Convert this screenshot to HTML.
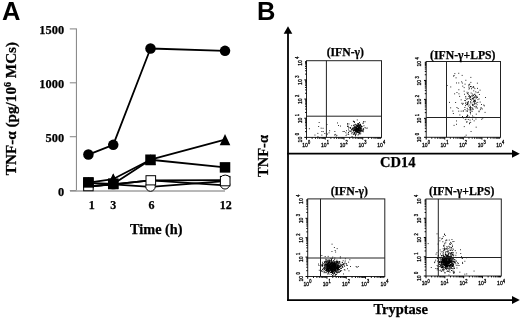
<!DOCTYPE html>
<html><head><meta charset="utf-8"><style>
html,body{margin:0;padding:0;background:#fff;width:520px;height:320px;overflow:hidden}
svg{display:block;filter:blur(0.3px)}
</style></head><body>
<svg width="520" height="320" viewBox="0 0 520 320">
<rect width="520" height="320" fill="#fff"/>
<text x="2" y="19.5" font-family="Liberation Sans" font-weight="bold" font-size="25.5">A</text>
<text x="257.1" y="19.8" font-family="Liberation Sans" font-weight="bold" font-size="25.5">B</text>
<line x1="76.45" y1="28.5" x2="76.45" y2="191.2" stroke="#8c8c8c" stroke-width="1.1"/>
<line x1="70" y1="190.9" x2="225" y2="190.9" stroke="#b8b8b8" stroke-width="2"/>
<line x1="69.8" y1="190.60" x2="76.45" y2="190.60" stroke="#8c8c8c" stroke-width="1.1"/>
<text x="64.1" y="195.90" font-family="Liberation Serif" font-weight="bold" stroke="#000" stroke-width="0.25" font-size="12.4" text-anchor="end">0</text>
<line x1="69.8" y1="136.70" x2="76.45" y2="136.70" stroke="#8c8c8c" stroke-width="1.1"/>
<text x="64.1" y="142.00" font-family="Liberation Serif" font-weight="bold" stroke="#000" stroke-width="0.25" font-size="12.4" text-anchor="end">500</text>
<line x1="69.8" y1="82.80" x2="76.45" y2="82.80" stroke="#8c8c8c" stroke-width="1.1"/>
<text x="64.1" y="88.10" font-family="Liberation Serif" font-weight="bold" stroke="#000" stroke-width="0.25" font-size="12.4" text-anchor="end">1000</text>
<line x1="69.8" y1="28.90" x2="76.45" y2="28.90" stroke="#8c8c8c" stroke-width="1.1"/>
<text x="64.1" y="34.20" font-family="Liberation Serif" font-weight="bold" stroke="#000" stroke-width="0.25" font-size="12.4" text-anchor="end">1500</text>
<text x="91.70" y="209" font-family="Liberation Serif" font-weight="bold" stroke="#000" stroke-width="0.25" font-size="12" text-anchor="middle">1</text>
<text x="113.30" y="209" font-family="Liberation Serif" font-weight="bold" stroke="#000" stroke-width="0.25" font-size="12" text-anchor="middle">3</text>
<text x="151.50" y="209" font-family="Liberation Serif" font-weight="bold" stroke="#000" stroke-width="0.25" font-size="12" text-anchor="middle">6</text>
<text x="225.70" y="209" font-family="Liberation Serif" font-weight="bold" stroke="#000" stroke-width="0.25" font-size="12" text-anchor="middle">12</text>
<text x="156.3" y="233.6" font-family="Liberation Serif" font-weight="bold" stroke="#000" stroke-width="0.25" font-size="14.3" text-anchor="middle">Time (h)</text>
<text transform="translate(16,175.2) rotate(-90)" font-family="Liberation Serif" font-weight="bold" stroke="#000" stroke-width="0.25" font-size="15.2">TNF-α (pg/10<tspan font-size="10" dy="-5.5">6</tspan><tspan dy="5.5"> MCs)</tspan></text>
<path d="M88.40,186.15 L113.24,184.32 L150.50,180.44 L225.02,180.11" fill="none" stroke="#000" stroke-width="1.8" stroke-linejoin="round"/>
<path d="M88.40,186.69 L113.24,184.42 L150.50,186.90 L225.02,181.08" fill="none" stroke="#000" stroke-width="1.8" stroke-linejoin="round"/>
<path d="M88.40,186.36 L113.24,184.32 L150.50,180.44 L225.02,185.39" fill="none" stroke="#000" stroke-width="1.8" stroke-linejoin="round"/>
<path d="M88.40,182.59 L113.24,179.03 L150.50,159.74 L225.02,139.58" fill="none" stroke="#000" stroke-width="1.8" stroke-linejoin="round"/>
<path d="M88.40,176.99 L93.70,188.19 L83.10,188.19 Z" fill="#000"/>
<path d="M113.24,173.43 L118.54,184.63 L107.94,184.63 Z" fill="#000"/>
<path d="M150.50,154.14 L155.80,165.34 L145.20,165.34 Z" fill="#000"/>
<path d="M225.02,133.98 L230.32,145.18 L219.72,145.18 Z" fill="#000"/>
<path d="M88.40,182.81 L113.24,183.89 L150.50,159.74 L225.02,167.39" fill="none" stroke="#000" stroke-width="1.8" stroke-linejoin="round"/>
<rect x="83.15" y="177.56" width="10.5" height="10.5" fill="#000"/>
<rect x="107.99" y="178.64" width="10.5" height="10.5" fill="#000"/>
<rect x="145.25" y="154.49" width="10.5" height="10.5" fill="#000"/>
<rect x="219.77" y="162.14" width="10.5" height="10.5" fill="#000"/>
<path d="M88.40,154.56 L113.24,144.86 L150.50,48.49 L225.02,50.86" fill="none" stroke="#000" stroke-width="1.8" stroke-linejoin="round"/>
<circle cx="88.40" cy="154.56" r="5.25" fill="#000"/>
<circle cx="113.24" cy="144.86" r="5.25" fill="#000"/>
<circle cx="150.50" cy="48.49" r="5.25" fill="#000"/>
<circle cx="225.02" cy="50.86" r="5.25" fill="#000"/>
<rect x="83.65" y="181.25" width="9.5" height="9.5" fill="#fff" stroke="#000" stroke-width="1"/>
<rect x="83.15" y="177.15" width="10.5" height="10.5" fill="#000"/>
<path d="M110.24,188.6 Q113.24,190.4 116.24,188.6" fill="none" stroke="#888" stroke-width="1"/>
<circle cx="150.50" cy="186.50" r="4.75" fill="#fff" stroke="#000" stroke-width="1"/>
<rect x="146" y="175.7" width="9.6" height="9.2" fill="#fff" stroke="#000" stroke-width="1"/>
<circle cx="225.02" cy="184.30" r="4.75" fill="#fff" stroke="#000" stroke-width="1"/>
<rect x="220.4" y="176.4" width="9.6" height="9.4" fill="#fff" stroke="#000" stroke-width="1"/>
<path d="M220.2,177.6 A6.2,6.2 0 0 1 230.2,177.6" fill="#fff" stroke="#000" stroke-width="1"/>
<path d="M113.24,173.43 L118.54,184.63 L107.94,184.63 Z" fill="#000"/>
<rect x="107.99" y="178.64" width="10.5" height="10.5" fill="#000"/>
<line x1="288" y1="32" x2="288" y2="301" stroke="#000" stroke-width="1.8"/>
<path d="M288,26.2 L292.3,33.8 L283.7,33.8 Z" fill="#000"/>
<line x1="287.1" y1="153.7" x2="513" y2="153.7" stroke="#000" stroke-width="1.8"/>
<path d="M519.8,153.7 L512,149.7 L512,157.7 Z" fill="#000"/>
<line x1="287.1" y1="300.1" x2="513" y2="300.1" stroke="#000" stroke-width="1.8"/>
<path d="M519.8,300.1 L512,296.1 L512,304.1 Z" fill="#000"/>
<text transform="translate(268.4,176.9) rotate(-90)" font-family="Liberation Serif" font-weight="bold" stroke="#000" stroke-width="0.25" font-size="14.5">TNF-α</text>
<text x="397.8" y="166.9" font-family="Liberation Serif" font-weight="bold" stroke="#000" stroke-width="0.25" font-size="14.5" text-anchor="middle">CD14</text>
<text x="400.7" y="313.8" font-family="Liberation Serif" font-weight="bold" stroke="#000" stroke-width="0.25" font-size="14.5" text-anchor="middle">Tryptase</text>
<rect x="358.1" y="131.9" width="0.9" height="0.9" fill="#000"/>
<rect x="360.2" y="125.0" width="0.9" height="0.9" fill="#000"/>
<rect x="359.9" y="131.2" width="0.9" height="0.9" fill="#000"/>
<rect x="356.0" y="130.5" width="0.9" height="0.9" fill="#000"/>
<rect x="358.6" y="130.2" width="0.9" height="0.9" fill="#000"/>
<rect x="357.5" y="130.8" width="0.9" height="0.9" fill="#000"/>
<rect x="356.3" y="127.9" width="0.9" height="0.9" fill="#000"/>
<rect x="356.2" y="130.6" width="0.9" height="0.9" fill="#000"/>
<rect x="358.4" y="128.1" width="0.9" height="0.9" fill="#000"/>
<rect x="356.2" y="127.5" width="0.9" height="0.9" fill="#000"/>
<rect x="358.3" y="128.1" width="0.9" height="0.9" fill="#000"/>
<rect x="360.3" y="133.3" width="0.9" height="0.9" fill="#000"/>
<rect x="352.9" y="120.7" width="0.9" height="0.9" fill="#000"/>
<rect x="358.0" y="127.5" width="0.9" height="0.9" fill="#000"/>
<rect x="358.3" y="129.9" width="0.9" height="0.9" fill="#000"/>
<rect x="364.6" y="127.1" width="0.9" height="0.9" fill="#000"/>
<rect x="355.0" y="135.3" width="0.9" height="0.9" fill="#000"/>
<rect x="359.0" y="131.7" width="0.9" height="0.9" fill="#000"/>
<rect x="358.3" y="123.2" width="0.9" height="0.9" fill="#000"/>
<rect x="358.3" y="129.5" width="0.9" height="0.9" fill="#000"/>
<rect x="355.5" y="125.8" width="0.9" height="0.9" fill="#000"/>
<rect x="358.8" y="125.9" width="0.9" height="0.9" fill="#000"/>
<rect x="357.7" y="129.2" width="0.9" height="0.9" fill="#000"/>
<rect x="358.6" y="127.4" width="0.9" height="0.9" fill="#000"/>
<rect x="358.6" y="132.4" width="0.9" height="0.9" fill="#000"/>
<rect x="359.6" y="126.6" width="0.9" height="0.9" fill="#000"/>
<rect x="360.4" y="128.0" width="0.9" height="0.9" fill="#000"/>
<rect x="361.3" y="126.2" width="0.9" height="0.9" fill="#000"/>
<rect x="360.4" y="129.7" width="0.9" height="0.9" fill="#000"/>
<rect x="355.1" y="127.0" width="0.9" height="0.9" fill="#000"/>
<rect x="357.9" y="129.9" width="0.9" height="0.9" fill="#000"/>
<rect x="356.6" y="124.6" width="0.9" height="0.9" fill="#000"/>
<rect x="359.0" y="127.6" width="0.9" height="0.9" fill="#000"/>
<rect x="357.8" y="131.7" width="0.9" height="0.9" fill="#000"/>
<rect x="353.5" y="128.5" width="0.9" height="0.9" fill="#000"/>
<rect x="361.5" y="129.0" width="0.9" height="0.9" fill="#000"/>
<rect x="355.2" y="130.8" width="0.9" height="0.9" fill="#000"/>
<rect x="357.8" y="132.1" width="0.9" height="0.9" fill="#000"/>
<rect x="358.6" y="123.9" width="0.9" height="0.9" fill="#000"/>
<rect x="358.2" y="127.5" width="0.9" height="0.9" fill="#000"/>
<rect x="359.8" y="130.2" width="0.9" height="0.9" fill="#000"/>
<rect x="355.0" y="123.8" width="0.9" height="0.9" fill="#000"/>
<rect x="359.6" y="131.9" width="0.9" height="0.9" fill="#000"/>
<rect x="356.3" y="128.5" width="0.9" height="0.9" fill="#000"/>
<rect x="358.7" y="130.9" width="0.9" height="0.9" fill="#000"/>
<rect x="360.0" y="130.5" width="0.9" height="0.9" fill="#000"/>
<rect x="358.0" y="128.1" width="0.9" height="0.9" fill="#000"/>
<rect x="363.0" y="122.5" width="0.9" height="0.9" fill="#000"/>
<rect x="357.6" y="129.0" width="0.9" height="0.9" fill="#000"/>
<rect x="354.0" y="128.9" width="0.9" height="0.9" fill="#000"/>
<rect x="355.5" y="131.3" width="0.9" height="0.9" fill="#000"/>
<rect x="357.0" y="131.1" width="0.9" height="0.9" fill="#000"/>
<rect x="360.8" y="131.2" width="0.9" height="0.9" fill="#000"/>
<rect x="357.3" y="123.4" width="0.9" height="0.9" fill="#000"/>
<rect x="362.6" y="130.0" width="0.9" height="0.9" fill="#000"/>
<rect x="356.1" y="128.9" width="0.9" height="0.9" fill="#000"/>
<rect x="356.7" y="131.6" width="0.9" height="0.9" fill="#000"/>
<rect x="358.1" y="129.1" width="0.9" height="0.9" fill="#000"/>
<rect x="355.7" y="130.0" width="0.9" height="0.9" fill="#000"/>
<rect x="354.7" y="130.3" width="0.9" height="0.9" fill="#000"/>
<rect x="363.5" y="125.3" width="0.9" height="0.9" fill="#000"/>
<rect x="351.0" y="129.0" width="0.9" height="0.9" fill="#000"/>
<rect x="365.6" y="127.8" width="0.9" height="0.9" fill="#000"/>
<rect x="354.2" y="129.9" width="0.9" height="0.9" fill="#000"/>
<rect x="356.3" y="126.7" width="0.9" height="0.9" fill="#000"/>
<rect x="356.6" y="130.5" width="0.9" height="0.9" fill="#000"/>
<rect x="356.7" y="129.6" width="0.9" height="0.9" fill="#000"/>
<rect x="358.4" y="126.1" width="0.9" height="0.9" fill="#000"/>
<rect x="358.1" y="125.7" width="0.9" height="0.9" fill="#000"/>
<rect x="359.1" y="125.4" width="0.9" height="0.9" fill="#000"/>
<rect x="353.7" y="132.9" width="0.9" height="0.9" fill="#000"/>
<rect x="357.9" y="128.8" width="0.9" height="0.9" fill="#000"/>
<rect x="359.7" y="128.0" width="0.9" height="0.9" fill="#000"/>
<rect x="357.0" y="130.2" width="0.9" height="0.9" fill="#000"/>
<rect x="359.9" y="125.5" width="0.9" height="0.9" fill="#000"/>
<rect x="360.7" y="127.7" width="0.9" height="0.9" fill="#000"/>
<rect x="356.2" y="125.2" width="0.9" height="0.9" fill="#000"/>
<rect x="355.4" y="134.0" width="0.9" height="0.9" fill="#000"/>
<rect x="354.8" y="128.6" width="0.9" height="0.9" fill="#000"/>
<rect x="352.5" y="127.3" width="0.9" height="0.9" fill="#000"/>
<rect x="360.6" y="128.9" width="0.9" height="0.9" fill="#000"/>
<rect x="356.1" y="129.2" width="0.9" height="0.9" fill="#000"/>
<rect x="359.1" y="131.7" width="0.9" height="0.9" fill="#000"/>
<rect x="362.9" y="131.3" width="0.9" height="0.9" fill="#000"/>
<rect x="356.6" y="128.1" width="0.9" height="0.9" fill="#000"/>
<rect x="357.7" y="129.3" width="0.9" height="0.9" fill="#000"/>
<rect x="357.7" y="129.5" width="0.9" height="0.9" fill="#000"/>
<rect x="352.9" y="130.4" width="0.9" height="0.9" fill="#000"/>
<rect x="357.7" y="124.7" width="0.9" height="0.9" fill="#000"/>
<rect x="358.3" y="133.8" width="0.9" height="0.9" fill="#000"/>
<rect x="359.1" y="129.9" width="0.9" height="0.9" fill="#000"/>
<rect x="361.4" y="126.0" width="0.9" height="0.9" fill="#000"/>
<rect x="355.9" y="128.7" width="0.9" height="0.9" fill="#000"/>
<rect x="353.8" y="128.3" width="0.9" height="0.9" fill="#000"/>
<rect x="355.6" y="132.6" width="0.9" height="0.9" fill="#000"/>
<rect x="363.2" y="121.0" width="0.9" height="0.9" fill="#000"/>
<rect x="359.7" y="123.8" width="0.9" height="0.9" fill="#000"/>
<rect x="360.7" y="130.4" width="0.9" height="0.9" fill="#000"/>
<rect x="360.5" y="126.0" width="0.9" height="0.9" fill="#000"/>
<rect x="354.9" y="129.4" width="0.9" height="0.9" fill="#000"/>
<rect x="356.3" y="128.4" width="0.9" height="0.9" fill="#000"/>
<rect x="352.9" y="134.1" width="0.9" height="0.9" fill="#000"/>
<rect x="355.8" y="127.3" width="0.9" height="0.9" fill="#000"/>
<rect x="359.9" y="127.3" width="0.9" height="0.9" fill="#000"/>
<rect x="357.9" y="127.0" width="0.9" height="0.9" fill="#000"/>
<rect x="358.8" y="125.1" width="0.9" height="0.9" fill="#000"/>
<rect x="357.1" y="128.0" width="0.9" height="0.9" fill="#000"/>
<rect x="357.1" y="128.9" width="0.9" height="0.9" fill="#000"/>
<rect x="356.5" y="131.2" width="0.9" height="0.9" fill="#000"/>
<rect x="357.3" y="128.3" width="0.9" height="0.9" fill="#000"/>
<rect x="356.8" y="126.8" width="0.9" height="0.9" fill="#000"/>
<rect x="354.2" y="129.7" width="0.9" height="0.9" fill="#000"/>
<rect x="355.8" y="125.7" width="0.9" height="0.9" fill="#000"/>
<rect x="358.5" y="130.6" width="0.9" height="0.9" fill="#000"/>
<rect x="359.0" y="122.1" width="0.9" height="0.9" fill="#000"/>
<rect x="358.8" y="130.2" width="0.9" height="0.9" fill="#000"/>
<rect x="353.6" y="130.4" width="0.9" height="0.9" fill="#000"/>
<rect x="357.3" y="124.8" width="0.9" height="0.9" fill="#000"/>
<rect x="358.4" y="128.5" width="0.9" height="0.9" fill="#000"/>
<rect x="360.1" y="123.9" width="0.9" height="0.9" fill="#000"/>
<rect x="363.3" y="128.5" width="0.9" height="0.9" fill="#000"/>
<rect x="353.4" y="129.8" width="0.9" height="0.9" fill="#000"/>
<rect x="356.8" y="129.8" width="0.9" height="0.9" fill="#000"/>
<rect x="357.2" y="128.5" width="0.9" height="0.9" fill="#000"/>
<rect x="359.4" y="126.8" width="0.9" height="0.9" fill="#000"/>
<rect x="360.2" y="128.0" width="0.9" height="0.9" fill="#000"/>
<rect x="355.7" y="128.6" width="0.9" height="0.9" fill="#000"/>
<rect x="359.4" y="128.6" width="0.9" height="0.9" fill="#000"/>
<rect x="355.2" y="130.3" width="0.9" height="0.9" fill="#000"/>
<rect x="354.5" y="124.2" width="0.9" height="0.9" fill="#000"/>
<rect x="359.5" y="124.6" width="0.9" height="0.9" fill="#000"/>
<rect x="358.1" y="128.8" width="0.9" height="0.9" fill="#000"/>
<rect x="361.2" y="126.7" width="0.9" height="0.9" fill="#000"/>
<rect x="356.1" y="129.6" width="0.9" height="0.9" fill="#000"/>
<rect x="356.9" y="126.1" width="0.9" height="0.9" fill="#000"/>
<rect x="360.3" y="129.6" width="0.9" height="0.9" fill="#000"/>
<rect x="352.8" y="129.6" width="0.9" height="0.9" fill="#000"/>
<rect x="360.7" y="128.2" width="0.9" height="0.9" fill="#000"/>
<rect x="356.8" y="130.4" width="0.9" height="0.9" fill="#000"/>
<rect x="355.2" y="129.7" width="0.9" height="0.9" fill="#000"/>
<rect x="359.2" y="127.0" width="0.9" height="0.9" fill="#000"/>
<rect x="354.6" y="127.2" width="0.9" height="0.9" fill="#000"/>
<rect x="354.7" y="131.6" width="0.9" height="0.9" fill="#000"/>
<rect x="357.6" y="131.7" width="0.9" height="0.9" fill="#000"/>
<rect x="358.1" y="130.0" width="0.9" height="0.9" fill="#000"/>
<rect x="355.3" y="130.5" width="0.9" height="0.9" fill="#000"/>
<rect x="362.9" y="129.4" width="0.9" height="0.9" fill="#000"/>
<rect x="356.6" y="128.0" width="0.9" height="0.9" fill="#000"/>
<rect x="357.5" y="126.3" width="0.9" height="0.9" fill="#000"/>
<rect x="358.6" y="128.2" width="0.9" height="0.9" fill="#000"/>
<rect x="361.7" y="130.1" width="0.9" height="0.9" fill="#000"/>
<rect x="357.9" y="132.4" width="0.9" height="0.9" fill="#000"/>
<rect x="355.8" y="133.4" width="0.9" height="0.9" fill="#000"/>
<rect x="357.2" y="125.9" width="0.9" height="0.9" fill="#000"/>
<rect x="357.2" y="128.3" width="0.9" height="0.9" fill="#000"/>
<rect x="354.4" y="127.8" width="0.9" height="0.9" fill="#000"/>
<rect x="352.3" y="132.2" width="0.9" height="0.9" fill="#000"/>
<rect x="358.4" y="126.9" width="0.9" height="0.9" fill="#000"/>
<rect x="356.0" y="127.0" width="0.9" height="0.9" fill="#000"/>
<rect x="358.5" y="125.4" width="0.9" height="0.9" fill="#000"/>
<rect x="355.8" y="127.7" width="0.9" height="0.9" fill="#000"/>
<rect x="355.7" y="131.6" width="0.9" height="0.9" fill="#000"/>
<rect x="360.9" y="130.0" width="0.9" height="0.9" fill="#000"/>
<rect x="360.6" y="125.0" width="0.9" height="0.9" fill="#000"/>
<rect x="359.7" y="129.4" width="0.9" height="0.9" fill="#000"/>
<rect x="357.6" y="134.6" width="0.9" height="0.9" fill="#000"/>
<rect x="351.9" y="128.0" width="0.9" height="0.9" fill="#000"/>
<rect x="348.5" y="130.4" width="0.9" height="0.9" fill="#000"/>
<rect x="347.4" y="126.0" width="0.9" height="0.9" fill="#000"/>
<rect x="355.0" y="130.5" width="0.9" height="0.9" fill="#000"/>
<rect x="354.4" y="124.8" width="0.9" height="0.9" fill="#000"/>
<rect x="351.2" y="131.5" width="0.9" height="0.9" fill="#000"/>
<rect x="354.0" y="121.3" width="0.9" height="0.9" fill="#000"/>
<rect x="358.2" y="129.7" width="0.9" height="0.9" fill="#000"/>
<rect x="358.4" y="126.7" width="0.9" height="0.9" fill="#000"/>
<rect x="358.1" y="123.8" width="0.9" height="0.9" fill="#000"/>
<rect x="356.8" y="126.0" width="0.9" height="0.9" fill="#000"/>
<rect x="357.4" y="132.0" width="0.9" height="0.9" fill="#000"/>
<rect x="350.3" y="127.8" width="0.9" height="0.9" fill="#000"/>
<rect x="354.2" y="132.8" width="0.9" height="0.9" fill="#000"/>
<rect x="357.6" y="123.1" width="0.9" height="0.9" fill="#000"/>
<rect x="356.3" y="131.0" width="0.9" height="0.9" fill="#000"/>
<rect x="364.6" y="121.3" width="0.9" height="0.9" fill="#000"/>
<rect x="351.3" y="133.3" width="0.9" height="0.9" fill="#000"/>
<rect x="347.2" y="123.2" width="0.9" height="0.9" fill="#000"/>
<rect x="356.6" y="132.1" width="0.9" height="0.9" fill="#000"/>
<rect x="350.7" y="130.2" width="0.9" height="0.9" fill="#000"/>
<rect x="354.6" y="134.1" width="0.9" height="0.9" fill="#000"/>
<rect x="354.0" y="132.0" width="0.9" height="0.9" fill="#000"/>
<rect x="349.5" y="127.3" width="0.9" height="0.9" fill="#000"/>
<rect x="353.5" y="132.6" width="0.9" height="0.9" fill="#000"/>
<rect x="356.9" y="125.0" width="0.9" height="0.9" fill="#000"/>
<rect x="357.4" y="131.1" width="0.9" height="0.9" fill="#000"/>
<rect x="353.4" y="127.0" width="0.9" height="0.9" fill="#000"/>
<rect x="353.0" y="121.2" width="0.9" height="0.9" fill="#000"/>
<rect x="354.9" y="128.9" width="0.9" height="0.9" fill="#000"/>
<rect x="349.7" y="131.0" width="0.9" height="0.9" fill="#000"/>
<rect x="347.1" y="125.8" width="0.9" height="0.9" fill="#000"/>
<rect x="351.6" y="136.0" width="0.9" height="0.9" fill="#000"/>
<rect x="346.0" y="130.3" width="0.9" height="0.9" fill="#000"/>
<rect x="358.7" y="129.5" width="0.9" height="0.9" fill="#000"/>
<rect x="359.9" y="124.0" width="0.9" height="0.9" fill="#000"/>
<rect x="342.6" y="131.1" width="0.9" height="0.9" fill="#000"/>
<rect x="348.0" y="126.7" width="0.9" height="0.9" fill="#000"/>
<rect x="348.1" y="132.2" width="0.9" height="0.9" fill="#000"/>
<rect x="358.3" y="125.1" width="0.9" height="0.9" fill="#000"/>
<rect x="358.5" y="128.5" width="0.9" height="0.9" fill="#000"/>
<rect x="353.3" y="128.2" width="0.9" height="0.9" fill="#000"/>
<rect x="353.0" y="130.5" width="0.9" height="0.9" fill="#000"/>
<rect x="355.6" y="126.6" width="0.9" height="0.9" fill="#000"/>
<rect x="359.0" y="125.6" width="0.9" height="0.9" fill="#000"/>
<rect x="355.4" y="129.7" width="0.9" height="0.9" fill="#000"/>
<rect x="361.4" y="126.0" width="0.9" height="0.9" fill="#000"/>
<rect x="362.7" y="128.7" width="0.9" height="0.9" fill="#000"/>
<rect x="353.0" y="125.3" width="0.9" height="0.9" fill="#000"/>
<rect x="356.9" y="128.2" width="0.9" height="0.9" fill="#000"/>
<rect x="348.5" y="123.5" width="0.9" height="0.9" fill="#000"/>
<rect x="351.2" y="125.3" width="0.9" height="0.9" fill="#000"/>
<rect x="359.5" y="133.5" width="0.9" height="0.9" fill="#000"/>
<rect x="358.3" y="129.4" width="0.9" height="0.9" fill="#000"/>
<rect x="351.9" y="128.2" width="0.9" height="0.9" fill="#000"/>
<rect x="358.6" y="126.9" width="0.9" height="0.9" fill="#000"/>
<rect x="354.2" y="126.1" width="0.9" height="0.9" fill="#000"/>
<rect x="350.1" y="127.3" width="0.9" height="0.9" fill="#000"/>
<rect x="355.0" y="135.3" width="0.9" height="0.9" fill="#000"/>
<rect x="354.3" y="133.4" width="0.9" height="0.9" fill="#000"/>
<rect x="362.8" y="128.3" width="0.9" height="0.9" fill="#000"/>
<rect x="362.0" y="130.9" width="0.9" height="0.9" fill="#000"/>
<rect x="351.9" y="129.1" width="0.9" height="0.9" fill="#000"/>
<rect x="354.1" y="127.1" width="0.9" height="0.9" fill="#000"/>
<rect x="353.0" y="128.6" width="0.9" height="0.9" fill="#000"/>
<rect x="356.2" y="124.5" width="0.9" height="0.9" fill="#000"/>
<rect x="354.0" y="121.9" width="0.9" height="0.9" fill="#000"/>
<rect x="355.3" y="130.5" width="0.9" height="0.9" fill="#000"/>
<rect x="354.8" y="129.1" width="0.9" height="0.9" fill="#000"/>
<rect x="356.9" y="125.3" width="0.9" height="0.9" fill="#000"/>
<rect x="352.8" y="130.0" width="0.9" height="0.9" fill="#000"/>
<rect x="359.0" y="129.6" width="0.9" height="0.9" fill="#000"/>
<rect x="366.8" y="127.6" width="0.9" height="0.9" fill="#000"/>
<rect x="359.0" y="133.1" width="0.9" height="0.9" fill="#000"/>
<rect x="353.3" y="124.7" width="0.9" height="0.9" fill="#000"/>
<rect x="348.1" y="128.6" width="0.9" height="0.9" fill="#000"/>
<rect x="359.6" y="129.1" width="0.9" height="0.9" fill="#000"/>
<rect x="354.9" y="126.5" width="0.9" height="0.9" fill="#000"/>
<rect x="356.8" y="119.5" width="0.9" height="0.9" fill="#000"/>
<rect x="355.2" y="128.1" width="0.9" height="0.9" fill="#000"/>
<rect x="347.1" y="123.7" width="0.9" height="0.9" fill="#000"/>
<rect x="348.0" y="132.4" width="0.9" height="0.9" fill="#000"/>
<rect x="349.6" y="130.7" width="0.9" height="0.9" fill="#000"/>
<rect x="356.9" y="129.0" width="0.9" height="0.9" fill="#000"/>
<rect x="347.5" y="125.6" width="0.9" height="0.9" fill="#000"/>
<rect x="362.4" y="122.8" width="0.9" height="0.9" fill="#000"/>
<rect x="349.8" y="127.4" width="0.9" height="0.9" fill="#000"/>
<rect x="358.0" y="129.0" width="0.9" height="0.9" fill="#000"/>
<rect x="357.7" y="123.7" width="0.9" height="0.9" fill="#000"/>
<rect x="345.4" y="132.3" width="0.9" height="0.9" fill="#000"/>
<rect x="317.5" y="136.2" width="0.9" height="0.9" fill="#000"/>
<rect x="360.2" y="126.9" width="0.9" height="0.9" fill="#000"/>
<rect x="335.6" y="135.6" width="0.9" height="0.9" fill="#000"/>
<rect x="318.7" y="122.0" width="0.9" height="0.9" fill="#000"/>
<rect x="320.7" y="127.7" width="0.9" height="0.9" fill="#000"/>
<rect x="328.6" y="132.4" width="0.9" height="0.9" fill="#000"/>
<rect x="338.0" y="125.0" width="0.9" height="0.9" fill="#000"/>
<rect x="348.2" y="134.0" width="0.9" height="0.9" fill="#000"/>
<rect x="335.2" y="133.9" width="0.9" height="0.9" fill="#000"/>
<rect x="324.4" y="133.0" width="0.9" height="0.9" fill="#000"/>
<rect x="334.0" y="134.5" width="0.9" height="0.9" fill="#000"/>
<rect x="340.1" y="125.6" width="0.9" height="0.9" fill="#000"/>
<rect x="336.4" y="134.9" width="0.9" height="0.9" fill="#000"/>
<rect x="322.6" y="127.8" width="0.9" height="0.9" fill="#000"/>
<rect x="326.5" y="124.0" width="0.9" height="0.9" fill="#000"/>
<rect x="345.6" y="135.2" width="0.9" height="0.9" fill="#000"/>
<rect x="343.8" y="131.0" width="0.9" height="0.9" fill="#000"/>
<rect x="334.4" y="131.0" width="0.9" height="0.9" fill="#000"/>
<rect x="327.0" y="133.6" width="0.9" height="0.9" fill="#000"/>
<rect x="346.5" y="133.7" width="0.9" height="0.9" fill="#000"/>
<rect x="329.2" y="130.3" width="0.9" height="0.9" fill="#000"/>
<rect x="337.0" y="122.5" width="0.9" height="0.9" fill="#000"/>
<rect x="321.4" y="134.6" width="0.9" height="0.9" fill="#000"/>
<rect x="318.2" y="126.1" width="0.9" height="0.9" fill="#000"/>
<rect x="308.9" y="128.3" width="0.9" height="0.9" fill="#000"/>
<rect x="317.4" y="132.9" width="0.9" height="0.9" fill="#000"/>
<rect x="321.4" y="131.0" width="0.9" height="0.9" fill="#000"/>
<rect x="322.8" y="131.2" width="0.9" height="0.9" fill="#000"/>
<rect x="314.5" y="134.6" width="0.9" height="0.9" fill="#000"/>
<rect x="306.5" y="60.7" width="75.00" height="76.70" fill="none" stroke="#222" stroke-width="1"/>
<line x1="326.4" y1="60.7" x2="326.4" y2="137.4" stroke="#222" stroke-width="1"/>
<line x1="306.5" y1="116.2" x2="381.5" y2="116.2" stroke="#222" stroke-width="1"/>
<line x1="306.50" y1="137.4" x2="306.50" y2="139.6" stroke="#000" stroke-width="1"/>
<line x1="304.3" y1="137.40" x2="306.5" y2="137.40" stroke="#000" stroke-width="1"/>
<line x1="312.14" y1="137.4" x2="312.14" y2="138.8" stroke="#000" stroke-width="1"/>
<line x1="305.1" y1="131.63" x2="306.5" y2="131.63" stroke="#000" stroke-width="1"/>
<line x1="315.45" y1="137.4" x2="315.45" y2="138.8" stroke="#000" stroke-width="1"/>
<line x1="305.1" y1="128.25" x2="306.5" y2="128.25" stroke="#000" stroke-width="1"/>
<line x1="317.79" y1="137.4" x2="317.79" y2="138.8" stroke="#000" stroke-width="1"/>
<line x1="305.1" y1="125.86" x2="306.5" y2="125.86" stroke="#000" stroke-width="1"/>
<line x1="319.61" y1="137.4" x2="319.61" y2="138.8" stroke="#000" stroke-width="1"/>
<line x1="305.1" y1="124.00" x2="306.5" y2="124.00" stroke="#000" stroke-width="1"/>
<line x1="321.09" y1="137.4" x2="321.09" y2="138.8" stroke="#000" stroke-width="1"/>
<line x1="305.1" y1="122.48" x2="306.5" y2="122.48" stroke="#000" stroke-width="1"/>
<line x1="322.35" y1="137.4" x2="322.35" y2="138.8" stroke="#000" stroke-width="1"/>
<line x1="305.1" y1="121.20" x2="306.5" y2="121.20" stroke="#000" stroke-width="1"/>
<line x1="323.43" y1="137.4" x2="323.43" y2="138.8" stroke="#000" stroke-width="1"/>
<line x1="305.1" y1="120.08" x2="306.5" y2="120.08" stroke="#000" stroke-width="1"/>
<line x1="324.39" y1="137.4" x2="324.39" y2="138.8" stroke="#000" stroke-width="1"/>
<line x1="305.1" y1="119.10" x2="306.5" y2="119.10" stroke="#000" stroke-width="1"/>
<line x1="325.25" y1="137.4" x2="325.25" y2="139.6" stroke="#000" stroke-width="1"/>
<line x1="304.3" y1="118.23" x2="306.5" y2="118.23" stroke="#000" stroke-width="1"/>
<line x1="330.89" y1="137.4" x2="330.89" y2="138.8" stroke="#000" stroke-width="1"/>
<line x1="305.1" y1="112.45" x2="306.5" y2="112.45" stroke="#000" stroke-width="1"/>
<line x1="334.20" y1="137.4" x2="334.20" y2="138.8" stroke="#000" stroke-width="1"/>
<line x1="305.1" y1="109.08" x2="306.5" y2="109.08" stroke="#000" stroke-width="1"/>
<line x1="336.54" y1="137.4" x2="336.54" y2="138.8" stroke="#000" stroke-width="1"/>
<line x1="305.1" y1="106.68" x2="306.5" y2="106.68" stroke="#000" stroke-width="1"/>
<line x1="338.36" y1="137.4" x2="338.36" y2="138.8" stroke="#000" stroke-width="1"/>
<line x1="305.1" y1="104.82" x2="306.5" y2="104.82" stroke="#000" stroke-width="1"/>
<line x1="339.84" y1="137.4" x2="339.84" y2="138.8" stroke="#000" stroke-width="1"/>
<line x1="305.1" y1="103.30" x2="306.5" y2="103.30" stroke="#000" stroke-width="1"/>
<line x1="341.10" y1="137.4" x2="341.10" y2="138.8" stroke="#000" stroke-width="1"/>
<line x1="305.1" y1="102.02" x2="306.5" y2="102.02" stroke="#000" stroke-width="1"/>
<line x1="342.18" y1="137.4" x2="342.18" y2="138.8" stroke="#000" stroke-width="1"/>
<line x1="305.1" y1="100.91" x2="306.5" y2="100.91" stroke="#000" stroke-width="1"/>
<line x1="343.14" y1="137.4" x2="343.14" y2="138.8" stroke="#000" stroke-width="1"/>
<line x1="305.1" y1="99.93" x2="306.5" y2="99.93" stroke="#000" stroke-width="1"/>
<line x1="344.00" y1="137.4" x2="344.00" y2="139.6" stroke="#000" stroke-width="1"/>
<line x1="304.3" y1="99.05" x2="306.5" y2="99.05" stroke="#000" stroke-width="1"/>
<line x1="349.64" y1="137.4" x2="349.64" y2="138.8" stroke="#000" stroke-width="1"/>
<line x1="305.1" y1="93.28" x2="306.5" y2="93.28" stroke="#000" stroke-width="1"/>
<line x1="352.95" y1="137.4" x2="352.95" y2="138.8" stroke="#000" stroke-width="1"/>
<line x1="305.1" y1="89.90" x2="306.5" y2="89.90" stroke="#000" stroke-width="1"/>
<line x1="355.29" y1="137.4" x2="355.29" y2="138.8" stroke="#000" stroke-width="1"/>
<line x1="305.1" y1="87.51" x2="306.5" y2="87.51" stroke="#000" stroke-width="1"/>
<line x1="357.11" y1="137.4" x2="357.11" y2="138.8" stroke="#000" stroke-width="1"/>
<line x1="305.1" y1="85.65" x2="306.5" y2="85.65" stroke="#000" stroke-width="1"/>
<line x1="358.59" y1="137.4" x2="358.59" y2="138.8" stroke="#000" stroke-width="1"/>
<line x1="305.1" y1="84.13" x2="306.5" y2="84.13" stroke="#000" stroke-width="1"/>
<line x1="359.85" y1="137.4" x2="359.85" y2="138.8" stroke="#000" stroke-width="1"/>
<line x1="305.1" y1="82.85" x2="306.5" y2="82.85" stroke="#000" stroke-width="1"/>
<line x1="360.93" y1="137.4" x2="360.93" y2="138.8" stroke="#000" stroke-width="1"/>
<line x1="305.1" y1="81.73" x2="306.5" y2="81.73" stroke="#000" stroke-width="1"/>
<line x1="361.89" y1="137.4" x2="361.89" y2="138.8" stroke="#000" stroke-width="1"/>
<line x1="305.1" y1="80.75" x2="306.5" y2="80.75" stroke="#000" stroke-width="1"/>
<line x1="362.75" y1="137.4" x2="362.75" y2="139.6" stroke="#000" stroke-width="1"/>
<line x1="304.3" y1="79.88" x2="306.5" y2="79.88" stroke="#000" stroke-width="1"/>
<line x1="368.39" y1="137.4" x2="368.39" y2="138.8" stroke="#000" stroke-width="1"/>
<line x1="305.1" y1="74.10" x2="306.5" y2="74.10" stroke="#000" stroke-width="1"/>
<line x1="371.70" y1="137.4" x2="371.70" y2="138.8" stroke="#000" stroke-width="1"/>
<line x1="305.1" y1="70.73" x2="306.5" y2="70.73" stroke="#000" stroke-width="1"/>
<line x1="374.04" y1="137.4" x2="374.04" y2="138.8" stroke="#000" stroke-width="1"/>
<line x1="305.1" y1="68.33" x2="306.5" y2="68.33" stroke="#000" stroke-width="1"/>
<line x1="375.86" y1="137.4" x2="375.86" y2="138.8" stroke="#000" stroke-width="1"/>
<line x1="305.1" y1="66.47" x2="306.5" y2="66.47" stroke="#000" stroke-width="1"/>
<line x1="377.34" y1="137.4" x2="377.34" y2="138.8" stroke="#000" stroke-width="1"/>
<line x1="305.1" y1="64.95" x2="306.5" y2="64.95" stroke="#000" stroke-width="1"/>
<line x1="378.60" y1="137.4" x2="378.60" y2="138.8" stroke="#000" stroke-width="1"/>
<line x1="305.1" y1="63.67" x2="306.5" y2="63.67" stroke="#000" stroke-width="1"/>
<line x1="379.68" y1="137.4" x2="379.68" y2="138.8" stroke="#000" stroke-width="1"/>
<line x1="305.1" y1="62.56" x2="306.5" y2="62.56" stroke="#000" stroke-width="1"/>
<line x1="380.64" y1="137.4" x2="380.64" y2="138.8" stroke="#000" stroke-width="1"/>
<line x1="305.1" y1="61.58" x2="306.5" y2="61.58" stroke="#000" stroke-width="1"/>
<text transform="translate(302.30,146.60) scale(0.425,0.5)" font-family="Liberation Sans" font-size="11.8" fill="#000" stroke="#000" stroke-width="0.6">10<tspan font-size="9.4" dy="-5.4" dx="0.3">0</tspan></text>
<text transform="translate(301.50,142.40) rotate(-90) scale(0.425,0.5)" font-family="Liberation Sans" font-size="11.8" fill="#000" stroke="#000" stroke-width="0.6">10<tspan font-size="9.4" dy="-5.4" dx="3.5">0</tspan></text>
<text transform="translate(321.05,146.60) scale(0.425,0.5)" font-family="Liberation Sans" font-size="11.8" fill="#000" stroke="#000" stroke-width="0.6">10<tspan font-size="9.4" dy="-5.4" dx="0.3">1</tspan></text>
<text transform="translate(301.50,123.23) rotate(-90) scale(0.425,0.5)" font-family="Liberation Sans" font-size="11.8" fill="#000" stroke="#000" stroke-width="0.6">10<tspan font-size="9.4" dy="-5.4" dx="3.5">1</tspan></text>
<text transform="translate(339.80,146.60) scale(0.425,0.5)" font-family="Liberation Sans" font-size="11.8" fill="#000" stroke="#000" stroke-width="0.6">10<tspan font-size="9.4" dy="-5.4" dx="0.3">2</tspan></text>
<text transform="translate(301.50,104.05) rotate(-90) scale(0.425,0.5)" font-family="Liberation Sans" font-size="11.8" fill="#000" stroke="#000" stroke-width="0.6">10<tspan font-size="9.4" dy="-5.4" dx="3.5">2</tspan></text>
<text transform="translate(358.55,146.60) scale(0.425,0.5)" font-family="Liberation Sans" font-size="11.8" fill="#000" stroke="#000" stroke-width="0.6">10<tspan font-size="9.4" dy="-5.4" dx="0.3">3</tspan></text>
<text transform="translate(301.50,84.88) rotate(-90) scale(0.425,0.5)" font-family="Liberation Sans" font-size="11.8" fill="#000" stroke="#000" stroke-width="0.6">10<tspan font-size="9.4" dy="-5.4" dx="3.5">3</tspan></text>
<text transform="translate(377.30,146.60) scale(0.425,0.5)" font-family="Liberation Sans" font-size="11.8" fill="#000" stroke="#000" stroke-width="0.6">10<tspan font-size="9.4" dy="-5.4" dx="0.3">4</tspan></text>
<text transform="translate(301.50,65.70) rotate(-90) scale(0.425,0.5)" font-family="Liberation Sans" font-size="11.8" fill="#000" stroke="#000" stroke-width="0.6">10<tspan font-size="9.4" dy="-5.4" dx="3.5">4</tspan></text>
<text x="345.3" y="55.8" font-family="Liberation Serif" font-weight="bold" stroke="#000" stroke-width="0.25" font-size="11.7" text-anchor="middle">(IFN-γ)</text>
<rect x="471.8" y="98.1" width="0.9" height="0.9" fill="#000"/>
<rect x="469.3" y="83.7" width="0.9" height="0.9" fill="#000"/>
<rect x="478.6" y="110.6" width="0.9" height="0.9" fill="#000"/>
<rect x="469.6" y="107.8" width="0.9" height="0.9" fill="#000"/>
<rect x="472.2" y="97.8" width="0.9" height="0.9" fill="#000"/>
<rect x="475.1" y="99.7" width="0.9" height="0.9" fill="#000"/>
<rect x="469.6" y="96.1" width="0.9" height="0.9" fill="#000"/>
<rect x="472.9" y="101.3" width="0.9" height="0.9" fill="#000"/>
<rect x="473.3" y="97.4" width="0.9" height="0.9" fill="#000"/>
<rect x="471.5" y="95.3" width="0.9" height="0.9" fill="#000"/>
<rect x="474.5" y="103.4" width="0.9" height="0.9" fill="#000"/>
<rect x="472.4" y="105.1" width="0.9" height="0.9" fill="#000"/>
<rect x="466.8" y="107.9" width="0.9" height="0.9" fill="#000"/>
<rect x="479.6" y="89.7" width="0.9" height="0.9" fill="#000"/>
<rect x="463.7" y="90.7" width="0.9" height="0.9" fill="#000"/>
<rect x="474.5" y="103.0" width="0.9" height="0.9" fill="#000"/>
<rect x="475.5" y="107.4" width="0.9" height="0.9" fill="#000"/>
<rect x="471.9" y="104.1" width="0.9" height="0.9" fill="#000"/>
<rect x="470.3" y="108.5" width="0.9" height="0.9" fill="#000"/>
<rect x="466.3" y="98.8" width="0.9" height="0.9" fill="#000"/>
<rect x="472.0" y="115.5" width="0.9" height="0.9" fill="#000"/>
<rect x="467.8" y="93.9" width="0.9" height="0.9" fill="#000"/>
<rect x="468.6" y="109.3" width="0.9" height="0.9" fill="#000"/>
<rect x="470.0" y="111.9" width="0.9" height="0.9" fill="#000"/>
<rect x="463.1" y="110.5" width="0.9" height="0.9" fill="#000"/>
<rect x="475.3" y="91.4" width="0.9" height="0.9" fill="#000"/>
<rect x="471.6" y="111.1" width="0.9" height="0.9" fill="#000"/>
<rect x="471.4" y="109.5" width="0.9" height="0.9" fill="#000"/>
<rect x="481.0" y="104.1" width="0.9" height="0.9" fill="#000"/>
<rect x="469.8" y="96.2" width="0.9" height="0.9" fill="#000"/>
<rect x="473.7" y="100.5" width="0.9" height="0.9" fill="#000"/>
<rect x="470.2" y="101.2" width="0.9" height="0.9" fill="#000"/>
<rect x="473.7" y="94.0" width="0.9" height="0.9" fill="#000"/>
<rect x="464.6" y="83.7" width="0.9" height="0.9" fill="#000"/>
<rect x="476.0" y="102.6" width="0.9" height="0.9" fill="#000"/>
<rect x="477.3" y="101.9" width="0.9" height="0.9" fill="#000"/>
<rect x="467.9" y="105.6" width="0.9" height="0.9" fill="#000"/>
<rect x="470.7" y="92.6" width="0.9" height="0.9" fill="#000"/>
<rect x="467.3" y="115.3" width="0.9" height="0.9" fill="#000"/>
<rect x="472.5" y="105.1" width="0.9" height="0.9" fill="#000"/>
<rect x="469.8" y="96.8" width="0.9" height="0.9" fill="#000"/>
<rect x="474.7" y="101.2" width="0.9" height="0.9" fill="#000"/>
<rect x="467.8" y="101.0" width="0.9" height="0.9" fill="#000"/>
<rect x="467.2" y="103.4" width="0.9" height="0.9" fill="#000"/>
<rect x="475.7" y="95.7" width="0.9" height="0.9" fill="#000"/>
<rect x="477.0" y="97.0" width="0.9" height="0.9" fill="#000"/>
<rect x="471.6" y="95.7" width="0.9" height="0.9" fill="#000"/>
<rect x="470.1" y="102.4" width="0.9" height="0.9" fill="#000"/>
<rect x="469.2" y="96.7" width="0.9" height="0.9" fill="#000"/>
<rect x="468.2" y="95.8" width="0.9" height="0.9" fill="#000"/>
<rect x="464.4" y="100.0" width="0.9" height="0.9" fill="#000"/>
<rect x="472.7" y="108.8" width="0.9" height="0.9" fill="#000"/>
<rect x="473.7" y="120.4" width="0.9" height="0.9" fill="#000"/>
<rect x="472.3" y="98.6" width="0.9" height="0.9" fill="#000"/>
<rect x="478.9" y="94.1" width="0.9" height="0.9" fill="#000"/>
<rect x="475.1" y="94.8" width="0.9" height="0.9" fill="#000"/>
<rect x="472.5" y="87.2" width="0.9" height="0.9" fill="#000"/>
<rect x="474.8" y="100.8" width="0.9" height="0.9" fill="#000"/>
<rect x="466.9" y="114.6" width="0.9" height="0.9" fill="#000"/>
<rect x="474.2" y="102.3" width="0.9" height="0.9" fill="#000"/>
<rect x="467.9" y="101.7" width="0.9" height="0.9" fill="#000"/>
<rect x="470.3" y="107.4" width="0.9" height="0.9" fill="#000"/>
<rect x="474.4" y="97.0" width="0.9" height="0.9" fill="#000"/>
<rect x="468.7" y="98.0" width="0.9" height="0.9" fill="#000"/>
<rect x="465.3" y="97.6" width="0.9" height="0.9" fill="#000"/>
<rect x="470.6" y="107.2" width="0.9" height="0.9" fill="#000"/>
<rect x="476.5" y="95.9" width="0.9" height="0.9" fill="#000"/>
<rect x="473.3" y="98.7" width="0.9" height="0.9" fill="#000"/>
<rect x="479.7" y="101.6" width="0.9" height="0.9" fill="#000"/>
<rect x="473.1" y="95.0" width="0.9" height="0.9" fill="#000"/>
<rect x="467.6" y="103.5" width="0.9" height="0.9" fill="#000"/>
<rect x="469.4" y="104.6" width="0.9" height="0.9" fill="#000"/>
<rect x="464.4" y="107.0" width="0.9" height="0.9" fill="#000"/>
<rect x="467.2" y="114.9" width="0.9" height="0.9" fill="#000"/>
<rect x="469.8" y="110.2" width="0.9" height="0.9" fill="#000"/>
<rect x="465.1" y="105.2" width="0.9" height="0.9" fill="#000"/>
<rect x="467.3" y="98.3" width="0.9" height="0.9" fill="#000"/>
<rect x="471.1" y="99.6" width="0.9" height="0.9" fill="#000"/>
<rect x="472.1" y="107.6" width="0.9" height="0.9" fill="#000"/>
<rect x="473.7" y="101.3" width="0.9" height="0.9" fill="#000"/>
<rect x="465.3" y="96.0" width="0.9" height="0.9" fill="#000"/>
<rect x="470.2" y="86.1" width="0.9" height="0.9" fill="#000"/>
<rect x="474.2" y="100.2" width="0.9" height="0.9" fill="#000"/>
<rect x="469.9" y="109.1" width="0.9" height="0.9" fill="#000"/>
<rect x="473.8" y="103.7" width="0.9" height="0.9" fill="#000"/>
<rect x="466.8" y="104.3" width="0.9" height="0.9" fill="#000"/>
<rect x="472.5" y="95.4" width="0.9" height="0.9" fill="#000"/>
<rect x="475.4" y="105.8" width="0.9" height="0.9" fill="#000"/>
<rect x="462.7" y="102.9" width="0.9" height="0.9" fill="#000"/>
<rect x="465.7" y="110.5" width="0.9" height="0.9" fill="#000"/>
<rect x="474.4" y="93.7" width="0.9" height="0.9" fill="#000"/>
<rect x="467.3" y="102.8" width="0.9" height="0.9" fill="#000"/>
<rect x="470.0" y="113.4" width="0.9" height="0.9" fill="#000"/>
<rect x="474.1" y="99.9" width="0.9" height="0.9" fill="#000"/>
<rect x="473.4" y="86.8" width="0.9" height="0.9" fill="#000"/>
<rect x="472.3" y="108.5" width="0.9" height="0.9" fill="#000"/>
<rect x="470.2" y="96.7" width="0.9" height="0.9" fill="#000"/>
<rect x="473.4" y="116.7" width="0.9" height="0.9" fill="#000"/>
<rect x="471.9" y="93.6" width="0.9" height="0.9" fill="#000"/>
<rect x="477.1" y="87.9" width="0.9" height="0.9" fill="#000"/>
<rect x="473.1" y="97.6" width="0.9" height="0.9" fill="#000"/>
<rect x="474.9" y="95.6" width="0.9" height="0.9" fill="#000"/>
<rect x="476.6" y="104.3" width="0.9" height="0.9" fill="#000"/>
<rect x="463.7" y="87.2" width="0.9" height="0.9" fill="#000"/>
<rect x="469.7" y="111.7" width="0.9" height="0.9" fill="#000"/>
<rect x="471.5" y="102.5" width="0.9" height="0.9" fill="#000"/>
<rect x="470.0" y="107.5" width="0.9" height="0.9" fill="#000"/>
<rect x="472.6" y="104.1" width="0.9" height="0.9" fill="#000"/>
<rect x="466.9" y="110.9" width="0.9" height="0.9" fill="#000"/>
<rect x="476.7" y="92.2" width="0.9" height="0.9" fill="#000"/>
<rect x="480.7" y="107.4" width="0.9" height="0.9" fill="#000"/>
<rect x="469.0" y="87.7" width="0.9" height="0.9" fill="#000"/>
<rect x="473.8" y="106.2" width="0.9" height="0.9" fill="#000"/>
<rect x="468.5" y="88.6" width="0.9" height="0.9" fill="#000"/>
<rect x="475.7" y="97.6" width="0.9" height="0.9" fill="#000"/>
<rect x="469.0" y="123.3" width="0.9" height="0.9" fill="#000"/>
<rect x="479.9" y="109.2" width="0.9" height="0.9" fill="#000"/>
<rect x="469.1" y="106.9" width="0.9" height="0.9" fill="#000"/>
<rect x="461.4" y="102.8" width="0.9" height="0.9" fill="#000"/>
<rect x="467.8" y="92.4" width="0.9" height="0.9" fill="#000"/>
<rect x="450.2" y="107.4" width="0.9" height="0.9" fill="#000"/>
<rect x="466.9" y="102.2" width="0.9" height="0.9" fill="#000"/>
<rect x="474.4" y="88.2" width="0.9" height="0.9" fill="#000"/>
<rect x="453.6" y="75.1" width="0.9" height="0.9" fill="#000"/>
<rect x="462.6" y="110.6" width="0.9" height="0.9" fill="#000"/>
<rect x="464.5" y="109.0" width="0.9" height="0.9" fill="#000"/>
<rect x="454.2" y="93.4" width="0.9" height="0.9" fill="#000"/>
<rect x="458.3" y="82.5" width="0.9" height="0.9" fill="#000"/>
<rect x="484.6" y="111.9" width="0.9" height="0.9" fill="#000"/>
<rect x="458.4" y="89.3" width="0.9" height="0.9" fill="#000"/>
<rect x="465.4" y="79.8" width="0.9" height="0.9" fill="#000"/>
<rect x="470.4" y="81.9" width="0.9" height="0.9" fill="#000"/>
<rect x="462.3" y="85.7" width="0.9" height="0.9" fill="#000"/>
<rect x="461.2" y="81.4" width="0.9" height="0.9" fill="#000"/>
<rect x="450.3" y="86.5" width="0.9" height="0.9" fill="#000"/>
<rect x="459.2" y="95.9" width="0.9" height="0.9" fill="#000"/>
<rect x="466.7" y="121.4" width="0.9" height="0.9" fill="#000"/>
<rect x="474.1" y="96.5" width="0.9" height="0.9" fill="#000"/>
<rect x="473.3" y="90.4" width="0.9" height="0.9" fill="#000"/>
<rect x="480.5" y="107.7" width="0.9" height="0.9" fill="#000"/>
<rect x="452.4" y="110.6" width="0.9" height="0.9" fill="#000"/>
<rect x="458.5" y="93.4" width="0.9" height="0.9" fill="#000"/>
<rect x="446.7" y="85.1" width="0.9" height="0.9" fill="#000"/>
<rect x="456.5" y="107.1" width="0.9" height="0.9" fill="#000"/>
<rect x="462.1" y="116.1" width="0.9" height="0.9" fill="#000"/>
<rect x="466.8" y="103.8" width="0.9" height="0.9" fill="#000"/>
<rect x="454.4" y="73.2" width="0.9" height="0.9" fill="#000"/>
<rect x="458.3" y="110.7" width="0.9" height="0.9" fill="#000"/>
<rect x="481.8" y="108.5" width="0.9" height="0.9" fill="#000"/>
<rect x="471.0" y="88.3" width="0.9" height="0.9" fill="#000"/>
<rect x="481.3" y="118.8" width="0.9" height="0.9" fill="#000"/>
<rect x="460.7" y="99.4" width="0.9" height="0.9" fill="#000"/>
<rect x="456.0" y="120.5" width="0.9" height="0.9" fill="#000"/>
<rect x="470.1" y="98.7" width="0.9" height="0.9" fill="#000"/>
<rect x="470.1" y="106.2" width="0.9" height="0.9" fill="#000"/>
<rect x="461.9" y="82.6" width="0.9" height="0.9" fill="#000"/>
<rect x="453.2" y="75.7" width="0.9" height="0.9" fill="#000"/>
<rect x="470.6" y="131.1" width="0.9" height="0.9" fill="#000"/>
<rect x="449.0" y="101.9" width="0.9" height="0.9" fill="#000"/>
<rect x="470.1" y="86.2" width="0.9" height="0.9" fill="#000"/>
<rect x="468.0" y="84.6" width="0.9" height="0.9" fill="#000"/>
<rect x="478.0" y="91.7" width="0.9" height="0.9" fill="#000"/>
<rect x="467.0" y="109.6" width="0.9" height="0.9" fill="#000"/>
<rect x="461.7" y="74.9" width="0.9" height="0.9" fill="#000"/>
<rect x="460.7" y="110.7" width="0.9" height="0.9" fill="#000"/>
<rect x="465.2" y="103.2" width="0.9" height="0.9" fill="#000"/>
<rect x="455.2" y="102.0" width="0.9" height="0.9" fill="#000"/>
<rect x="473.3" y="100.5" width="0.9" height="0.9" fill="#000"/>
<rect x="485.1" y="97.1" width="0.9" height="0.9" fill="#000"/>
<rect x="455.6" y="77.4" width="0.9" height="0.9" fill="#000"/>
<rect x="477.5" y="99.2" width="0.9" height="0.9" fill="#000"/>
<rect x="476.1" y="106.4" width="0.9" height="0.9" fill="#000"/>
<rect x="482.3" y="117.7" width="0.9" height="0.9" fill="#000"/>
<rect x="462.2" y="103.8" width="0.9" height="0.9" fill="#000"/>
<rect x="476.9" y="82.7" width="0.9" height="0.9" fill="#000"/>
<rect x="480.5" y="117.0" width="0.9" height="0.9" fill="#000"/>
<rect x="475.8" y="97.2" width="0.9" height="0.9" fill="#000"/>
<rect x="469.0" y="84.4" width="0.9" height="0.9" fill="#000"/>
<rect x="466.6" y="91.8" width="0.9" height="0.9" fill="#000"/>
<rect x="466.9" y="93.1" width="0.9" height="0.9" fill="#000"/>
<rect x="468.8" y="116.5" width="0.9" height="0.9" fill="#000"/>
<rect x="452.9" y="113.0" width="0.9" height="0.9" fill="#000"/>
<rect x="446.1" y="69.7" width="0.9" height="0.9" fill="#000"/>
<rect x="464.8" y="100.1" width="0.9" height="0.9" fill="#000"/>
<rect x="470.4" y="76.9" width="0.9" height="0.9" fill="#000"/>
<rect x="465.4" y="101.8" width="0.9" height="0.9" fill="#000"/>
<rect x="478.6" y="98.5" width="0.9" height="0.9" fill="#000"/>
<rect x="471.3" y="86.3" width="0.9" height="0.9" fill="#000"/>
<rect x="464.1" y="93.8" width="0.9" height="0.9" fill="#000"/>
<rect x="473.0" y="86.2" width="0.9" height="0.9" fill="#000"/>
<rect x="457.7" y="108.1" width="0.9" height="0.9" fill="#000"/>
<rect x="483.9" y="105.4" width="0.9" height="0.9" fill="#000"/>
<rect x="469.0" y="95.2" width="0.9" height="0.9" fill="#000"/>
<rect x="476.9" y="107.6" width="0.9" height="0.9" fill="#000"/>
<rect x="483.3" y="104.6" width="0.9" height="0.9" fill="#000"/>
<rect x="456.5" y="92.0" width="0.9" height="0.9" fill="#000"/>
<rect x="456.1" y="82.5" width="0.9" height="0.9" fill="#000"/>
<rect x="478.6" y="111.3" width="0.9" height="0.9" fill="#000"/>
<rect x="453.6" y="124.9" width="0.9" height="0.9" fill="#000"/>
<rect x="468.4" y="86.6" width="0.9" height="0.9" fill="#000"/>
<rect x="469.9" y="99.0" width="0.9" height="0.9" fill="#000"/>
<rect x="458.3" y="72.8" width="0.9" height="0.9" fill="#000"/>
<rect x="466.4" y="104.1" width="0.9" height="0.9" fill="#000"/>
<rect x="456.1" y="123.8" width="0.9" height="0.9" fill="#000"/>
<rect x="472.1" y="118.7" width="0.9" height="0.9" fill="#000"/>
<rect x="469.6" y="119.6" width="0.9" height="0.9" fill="#000"/>
<rect x="464.8" y="119.2" width="0.9" height="0.9" fill="#000"/>
<rect x="475.8" y="113.7" width="0.9" height="0.9" fill="#000"/>
<rect x="470.2" y="121.9" width="0.9" height="0.9" fill="#000"/>
<rect x="465.5" y="118.8" width="0.9" height="0.9" fill="#000"/>
<rect x="462.0" y="116.7" width="0.9" height="0.9" fill="#000"/>
<rect x="469.1" y="122.6" width="0.9" height="0.9" fill="#000"/>
<rect x="464.5" y="136.3" width="0.9" height="0.9" fill="#000"/>
<rect x="466.1" y="121.6" width="0.9" height="0.9" fill="#000"/>
<rect x="467.8" y="119.0" width="0.9" height="0.9" fill="#000"/>
<rect x="475.5" y="118.6" width="0.9" height="0.9" fill="#000"/>
<rect x="475.7" y="126.7" width="0.9" height="0.9" fill="#000"/>
<rect x="463.8" y="126.2" width="0.9" height="0.9" fill="#000"/>
<rect x="465.7" y="134.7" width="0.9" height="0.9" fill="#000"/>
<rect x="467.1" y="116.3" width="0.9" height="0.9" fill="#000"/>
<rect x="459.4" y="114.5" width="0.9" height="0.9" fill="#000"/>
<rect x="466.1" y="116.0" width="0.9" height="0.9" fill="#000"/>
<rect x="462.9" y="117.5" width="0.9" height="0.9" fill="#000"/>
<rect x="426.2" y="61.5" width="74.30" height="75.80" fill="none" stroke="#222" stroke-width="1"/>
<line x1="446.5" y1="61.5" x2="446.5" y2="137.3" stroke="#222" stroke-width="1"/>
<line x1="426.2" y1="117.5" x2="500.5" y2="117.5" stroke="#222" stroke-width="1"/>
<line x1="426.20" y1="137.3" x2="426.20" y2="139.5" stroke="#000" stroke-width="1"/>
<line x1="424.0" y1="137.30" x2="426.2" y2="137.30" stroke="#000" stroke-width="1"/>
<line x1="431.79" y1="137.3" x2="431.79" y2="138.70000000000002" stroke="#000" stroke-width="1"/>
<line x1="424.8" y1="131.60" x2="426.2" y2="131.60" stroke="#000" stroke-width="1"/>
<line x1="435.06" y1="137.3" x2="435.06" y2="138.70000000000002" stroke="#000" stroke-width="1"/>
<line x1="424.8" y1="128.26" x2="426.2" y2="128.26" stroke="#000" stroke-width="1"/>
<line x1="437.38" y1="137.3" x2="437.38" y2="138.70000000000002" stroke="#000" stroke-width="1"/>
<line x1="424.8" y1="125.89" x2="426.2" y2="125.89" stroke="#000" stroke-width="1"/>
<line x1="439.18" y1="137.3" x2="439.18" y2="138.70000000000002" stroke="#000" stroke-width="1"/>
<line x1="424.8" y1="124.05" x2="426.2" y2="124.05" stroke="#000" stroke-width="1"/>
<line x1="440.65" y1="137.3" x2="440.65" y2="138.70000000000002" stroke="#000" stroke-width="1"/>
<line x1="424.8" y1="122.55" x2="426.2" y2="122.55" stroke="#000" stroke-width="1"/>
<line x1="441.90" y1="137.3" x2="441.90" y2="138.70000000000002" stroke="#000" stroke-width="1"/>
<line x1="424.8" y1="121.29" x2="426.2" y2="121.29" stroke="#000" stroke-width="1"/>
<line x1="442.97" y1="137.3" x2="442.97" y2="138.70000000000002" stroke="#000" stroke-width="1"/>
<line x1="424.8" y1="120.19" x2="426.2" y2="120.19" stroke="#000" stroke-width="1"/>
<line x1="443.93" y1="137.3" x2="443.93" y2="138.70000000000002" stroke="#000" stroke-width="1"/>
<line x1="424.8" y1="119.22" x2="426.2" y2="119.22" stroke="#000" stroke-width="1"/>
<line x1="444.77" y1="137.3" x2="444.77" y2="139.5" stroke="#000" stroke-width="1"/>
<line x1="424.0" y1="118.35" x2="426.2" y2="118.35" stroke="#000" stroke-width="1"/>
<line x1="450.37" y1="137.3" x2="450.37" y2="138.70000000000002" stroke="#000" stroke-width="1"/>
<line x1="424.8" y1="112.65" x2="426.2" y2="112.65" stroke="#000" stroke-width="1"/>
<line x1="453.64" y1="137.3" x2="453.64" y2="138.70000000000002" stroke="#000" stroke-width="1"/>
<line x1="424.8" y1="109.31" x2="426.2" y2="109.31" stroke="#000" stroke-width="1"/>
<line x1="455.96" y1="137.3" x2="455.96" y2="138.70000000000002" stroke="#000" stroke-width="1"/>
<line x1="424.8" y1="106.94" x2="426.2" y2="106.94" stroke="#000" stroke-width="1"/>
<line x1="457.76" y1="137.3" x2="457.76" y2="138.70000000000002" stroke="#000" stroke-width="1"/>
<line x1="424.8" y1="105.10" x2="426.2" y2="105.10" stroke="#000" stroke-width="1"/>
<line x1="459.23" y1="137.3" x2="459.23" y2="138.70000000000002" stroke="#000" stroke-width="1"/>
<line x1="424.8" y1="103.60" x2="426.2" y2="103.60" stroke="#000" stroke-width="1"/>
<line x1="460.47" y1="137.3" x2="460.47" y2="138.70000000000002" stroke="#000" stroke-width="1"/>
<line x1="424.8" y1="102.34" x2="426.2" y2="102.34" stroke="#000" stroke-width="1"/>
<line x1="461.55" y1="137.3" x2="461.55" y2="138.70000000000002" stroke="#000" stroke-width="1"/>
<line x1="424.8" y1="101.24" x2="426.2" y2="101.24" stroke="#000" stroke-width="1"/>
<line x1="462.50" y1="137.3" x2="462.50" y2="138.70000000000002" stroke="#000" stroke-width="1"/>
<line x1="424.8" y1="100.27" x2="426.2" y2="100.27" stroke="#000" stroke-width="1"/>
<line x1="463.35" y1="137.3" x2="463.35" y2="139.5" stroke="#000" stroke-width="1"/>
<line x1="424.0" y1="99.40" x2="426.2" y2="99.40" stroke="#000" stroke-width="1"/>
<line x1="468.94" y1="137.3" x2="468.94" y2="138.70000000000002" stroke="#000" stroke-width="1"/>
<line x1="424.8" y1="93.70" x2="426.2" y2="93.70" stroke="#000" stroke-width="1"/>
<line x1="472.21" y1="137.3" x2="472.21" y2="138.70000000000002" stroke="#000" stroke-width="1"/>
<line x1="424.8" y1="90.36" x2="426.2" y2="90.36" stroke="#000" stroke-width="1"/>
<line x1="474.53" y1="137.3" x2="474.53" y2="138.70000000000002" stroke="#000" stroke-width="1"/>
<line x1="424.8" y1="87.99" x2="426.2" y2="87.99" stroke="#000" stroke-width="1"/>
<line x1="476.33" y1="137.3" x2="476.33" y2="138.70000000000002" stroke="#000" stroke-width="1"/>
<line x1="424.8" y1="86.15" x2="426.2" y2="86.15" stroke="#000" stroke-width="1"/>
<line x1="477.80" y1="137.3" x2="477.80" y2="138.70000000000002" stroke="#000" stroke-width="1"/>
<line x1="424.8" y1="84.65" x2="426.2" y2="84.65" stroke="#000" stroke-width="1"/>
<line x1="479.05" y1="137.3" x2="479.05" y2="138.70000000000002" stroke="#000" stroke-width="1"/>
<line x1="424.8" y1="83.39" x2="426.2" y2="83.39" stroke="#000" stroke-width="1"/>
<line x1="480.12" y1="137.3" x2="480.12" y2="138.70000000000002" stroke="#000" stroke-width="1"/>
<line x1="424.8" y1="82.29" x2="426.2" y2="82.29" stroke="#000" stroke-width="1"/>
<line x1="481.08" y1="137.3" x2="481.08" y2="138.70000000000002" stroke="#000" stroke-width="1"/>
<line x1="424.8" y1="81.32" x2="426.2" y2="81.32" stroke="#000" stroke-width="1"/>
<line x1="481.93" y1="137.3" x2="481.93" y2="139.5" stroke="#000" stroke-width="1"/>
<line x1="424.0" y1="80.45" x2="426.2" y2="80.45" stroke="#000" stroke-width="1"/>
<line x1="487.52" y1="137.3" x2="487.52" y2="138.70000000000002" stroke="#000" stroke-width="1"/>
<line x1="424.8" y1="74.75" x2="426.2" y2="74.75" stroke="#000" stroke-width="1"/>
<line x1="490.79" y1="137.3" x2="490.79" y2="138.70000000000002" stroke="#000" stroke-width="1"/>
<line x1="424.8" y1="71.41" x2="426.2" y2="71.41" stroke="#000" stroke-width="1"/>
<line x1="493.11" y1="137.3" x2="493.11" y2="138.70000000000002" stroke="#000" stroke-width="1"/>
<line x1="424.8" y1="69.04" x2="426.2" y2="69.04" stroke="#000" stroke-width="1"/>
<line x1="494.91" y1="137.3" x2="494.91" y2="138.70000000000002" stroke="#000" stroke-width="1"/>
<line x1="424.8" y1="67.20" x2="426.2" y2="67.20" stroke="#000" stroke-width="1"/>
<line x1="496.38" y1="137.3" x2="496.38" y2="138.70000000000002" stroke="#000" stroke-width="1"/>
<line x1="424.8" y1="65.70" x2="426.2" y2="65.70" stroke="#000" stroke-width="1"/>
<line x1="497.62" y1="137.3" x2="497.62" y2="138.70000000000002" stroke="#000" stroke-width="1"/>
<line x1="424.8" y1="64.44" x2="426.2" y2="64.44" stroke="#000" stroke-width="1"/>
<line x1="498.70" y1="137.3" x2="498.70" y2="138.70000000000002" stroke="#000" stroke-width="1"/>
<line x1="424.8" y1="63.34" x2="426.2" y2="63.34" stroke="#000" stroke-width="1"/>
<line x1="499.65" y1="137.3" x2="499.65" y2="138.70000000000002" stroke="#000" stroke-width="1"/>
<line x1="424.8" y1="62.37" x2="426.2" y2="62.37" stroke="#000" stroke-width="1"/>
<text transform="translate(422.00,146.50) scale(0.425,0.5)" font-family="Liberation Sans" font-size="11.8" fill="#000" stroke="#000" stroke-width="0.6">10<tspan font-size="9.4" dy="-5.4" dx="0.3">0</tspan></text>
<text transform="translate(421.20,142.30) rotate(-90) scale(0.425,0.5)" font-family="Liberation Sans" font-size="11.8" fill="#000" stroke="#000" stroke-width="0.6">10<tspan font-size="9.4" dy="-5.4" dx="3.5">0</tspan></text>
<text transform="translate(440.57,146.50) scale(0.425,0.5)" font-family="Liberation Sans" font-size="11.8" fill="#000" stroke="#000" stroke-width="0.6">10<tspan font-size="9.4" dy="-5.4" dx="0.3">1</tspan></text>
<text transform="translate(421.20,123.35) rotate(-90) scale(0.425,0.5)" font-family="Liberation Sans" font-size="11.8" fill="#000" stroke="#000" stroke-width="0.6">10<tspan font-size="9.4" dy="-5.4" dx="3.5">1</tspan></text>
<text transform="translate(459.15,146.50) scale(0.425,0.5)" font-family="Liberation Sans" font-size="11.8" fill="#000" stroke="#000" stroke-width="0.6">10<tspan font-size="9.4" dy="-5.4" dx="0.3">2</tspan></text>
<text transform="translate(421.20,104.40) rotate(-90) scale(0.425,0.5)" font-family="Liberation Sans" font-size="11.8" fill="#000" stroke="#000" stroke-width="0.6">10<tspan font-size="9.4" dy="-5.4" dx="3.5">2</tspan></text>
<text transform="translate(477.73,146.50) scale(0.425,0.5)" font-family="Liberation Sans" font-size="11.8" fill="#000" stroke="#000" stroke-width="0.6">10<tspan font-size="9.4" dy="-5.4" dx="0.3">3</tspan></text>
<text transform="translate(421.20,85.45) rotate(-90) scale(0.425,0.5)" font-family="Liberation Sans" font-size="11.8" fill="#000" stroke="#000" stroke-width="0.6">10<tspan font-size="9.4" dy="-5.4" dx="3.5">3</tspan></text>
<text transform="translate(496.30,146.50) scale(0.425,0.5)" font-family="Liberation Sans" font-size="11.8" fill="#000" stroke="#000" stroke-width="0.6">10<tspan font-size="9.4" dy="-5.4" dx="0.3">4</tspan></text>
<text transform="translate(421.20,66.50) rotate(-90) scale(0.425,0.5)" font-family="Liberation Sans" font-size="11.8" fill="#000" stroke="#000" stroke-width="0.6">10<tspan font-size="9.4" dy="-5.4" dx="3.5">4</tspan></text>
<text x="462.8" y="59.4" font-family="Liberation Serif" font-weight="bold" stroke="#000" stroke-width="0.25" font-size="11.7" text-anchor="middle">(IFN-γ+LPS)</text>
<rect x="339.8" y="257.6" width="0.9" height="0.9" fill="#000"/>
<rect x="332.8" y="264.4" width="0.9" height="0.9" fill="#000"/>
<rect x="329.1" y="265.6" width="0.9" height="0.9" fill="#000"/>
<rect x="322.3" y="265.5" width="0.9" height="0.9" fill="#000"/>
<rect x="332.0" y="265.1" width="0.9" height="0.9" fill="#000"/>
<rect x="329.8" y="264.0" width="0.9" height="0.9" fill="#000"/>
<rect x="326.5" y="265.0" width="0.9" height="0.9" fill="#000"/>
<rect x="333.1" y="265.5" width="0.9" height="0.9" fill="#000"/>
<rect x="335.1" y="265.6" width="0.9" height="0.9" fill="#000"/>
<rect x="331.1" y="271.6" width="0.9" height="0.9" fill="#000"/>
<rect x="333.3" y="264.6" width="0.9" height="0.9" fill="#000"/>
<rect x="330.2" y="268.1" width="0.9" height="0.9" fill="#000"/>
<rect x="339.3" y="265.4" width="0.9" height="0.9" fill="#000"/>
<rect x="330.0" y="269.7" width="0.9" height="0.9" fill="#000"/>
<rect x="327.2" y="265.3" width="0.9" height="0.9" fill="#000"/>
<rect x="334.8" y="268.3" width="0.9" height="0.9" fill="#000"/>
<rect x="331.4" y="268.6" width="0.9" height="0.9" fill="#000"/>
<rect x="318.8" y="269.8" width="0.9" height="0.9" fill="#000"/>
<rect x="326.9" y="260.6" width="0.9" height="0.9" fill="#000"/>
<rect x="332.2" y="268.7" width="0.9" height="0.9" fill="#000"/>
<rect x="329.1" y="262.6" width="0.9" height="0.9" fill="#000"/>
<rect x="331.1" y="266.1" width="0.9" height="0.9" fill="#000"/>
<rect x="337.0" y="268.8" width="0.9" height="0.9" fill="#000"/>
<rect x="331.8" y="270.1" width="0.9" height="0.9" fill="#000"/>
<rect x="330.1" y="263.2" width="0.9" height="0.9" fill="#000"/>
<rect x="333.5" y="268.3" width="0.9" height="0.9" fill="#000"/>
<rect x="330.1" y="263.6" width="0.9" height="0.9" fill="#000"/>
<rect x="332.0" y="257.8" width="0.9" height="0.9" fill="#000"/>
<rect x="334.0" y="268.0" width="0.9" height="0.9" fill="#000"/>
<rect x="324.0" y="266.5" width="0.9" height="0.9" fill="#000"/>
<rect x="326.9" y="268.9" width="0.9" height="0.9" fill="#000"/>
<rect x="322.3" y="263.2" width="0.9" height="0.9" fill="#000"/>
<rect x="334.1" y="270.2" width="0.9" height="0.9" fill="#000"/>
<rect x="321.7" y="264.6" width="0.9" height="0.9" fill="#000"/>
<rect x="332.4" y="264.2" width="0.9" height="0.9" fill="#000"/>
<rect x="337.8" y="262.2" width="0.9" height="0.9" fill="#000"/>
<rect x="332.5" y="262.7" width="0.9" height="0.9" fill="#000"/>
<rect x="337.0" y="266.2" width="0.9" height="0.9" fill="#000"/>
<rect x="329.4" y="260.5" width="0.9" height="0.9" fill="#000"/>
<rect x="338.2" y="268.9" width="0.9" height="0.9" fill="#000"/>
<rect x="334.2" y="270.2" width="0.9" height="0.9" fill="#000"/>
<rect x="332.5" y="264.1" width="0.9" height="0.9" fill="#000"/>
<rect x="327.6" y="263.6" width="0.9" height="0.9" fill="#000"/>
<rect x="336.9" y="261.3" width="0.9" height="0.9" fill="#000"/>
<rect x="328.4" y="265.2" width="0.9" height="0.9" fill="#000"/>
<rect x="332.0" y="268.3" width="0.9" height="0.9" fill="#000"/>
<rect x="325.6" y="260.4" width="0.9" height="0.9" fill="#000"/>
<rect x="331.0" y="270.4" width="0.9" height="0.9" fill="#000"/>
<rect x="334.3" y="267.0" width="0.9" height="0.9" fill="#000"/>
<rect x="329.6" y="267.3" width="0.9" height="0.9" fill="#000"/>
<rect x="330.0" y="269.1" width="0.9" height="0.9" fill="#000"/>
<rect x="327.6" y="266.8" width="0.9" height="0.9" fill="#000"/>
<rect x="330.5" y="268.1" width="0.9" height="0.9" fill="#000"/>
<rect x="332.0" y="275.0" width="0.9" height="0.9" fill="#000"/>
<rect x="337.4" y="271.4" width="0.9" height="0.9" fill="#000"/>
<rect x="322.2" y="265.1" width="0.9" height="0.9" fill="#000"/>
<rect x="328.4" y="268.1" width="0.9" height="0.9" fill="#000"/>
<rect x="321.2" y="270.3" width="0.9" height="0.9" fill="#000"/>
<rect x="335.6" y="261.9" width="0.9" height="0.9" fill="#000"/>
<rect x="326.8" y="263.6" width="0.9" height="0.9" fill="#000"/>
<rect x="331.2" y="268.5" width="0.9" height="0.9" fill="#000"/>
<rect x="339.8" y="265.6" width="0.9" height="0.9" fill="#000"/>
<rect x="334.3" y="266.8" width="0.9" height="0.9" fill="#000"/>
<rect x="338.6" y="268.8" width="0.9" height="0.9" fill="#000"/>
<rect x="336.9" y="262.6" width="0.9" height="0.9" fill="#000"/>
<rect x="330.2" y="263.5" width="0.9" height="0.9" fill="#000"/>
<rect x="337.5" y="268.5" width="0.9" height="0.9" fill="#000"/>
<rect x="329.7" y="264.8" width="0.9" height="0.9" fill="#000"/>
<rect x="333.1" y="263.9" width="0.9" height="0.9" fill="#000"/>
<rect x="327.0" y="267.9" width="0.9" height="0.9" fill="#000"/>
<rect x="341.6" y="265.5" width="0.9" height="0.9" fill="#000"/>
<rect x="328.6" y="262.3" width="0.9" height="0.9" fill="#000"/>
<rect x="325.3" y="268.1" width="0.9" height="0.9" fill="#000"/>
<rect x="334.7" y="266.3" width="0.9" height="0.9" fill="#000"/>
<rect x="332.4" y="266.7" width="0.9" height="0.9" fill="#000"/>
<rect x="331.6" y="261.1" width="0.9" height="0.9" fill="#000"/>
<rect x="329.0" y="266.7" width="0.9" height="0.9" fill="#000"/>
<rect x="327.6" y="264.7" width="0.9" height="0.9" fill="#000"/>
<rect x="327.5" y="265.2" width="0.9" height="0.9" fill="#000"/>
<rect x="334.7" y="264.9" width="0.9" height="0.9" fill="#000"/>
<rect x="330.3" y="269.1" width="0.9" height="0.9" fill="#000"/>
<rect x="333.8" y="272.1" width="0.9" height="0.9" fill="#000"/>
<rect x="322.0" y="269.2" width="0.9" height="0.9" fill="#000"/>
<rect x="328.9" y="266.8" width="0.9" height="0.9" fill="#000"/>
<rect x="334.6" y="270.0" width="0.9" height="0.9" fill="#000"/>
<rect x="335.5" y="266.8" width="0.9" height="0.9" fill="#000"/>
<rect x="337.9" y="265.3" width="0.9" height="0.9" fill="#000"/>
<rect x="330.4" y="269.0" width="0.9" height="0.9" fill="#000"/>
<rect x="328.6" y="273.6" width="0.9" height="0.9" fill="#000"/>
<rect x="335.4" y="273.7" width="0.9" height="0.9" fill="#000"/>
<rect x="330.9" y="265.0" width="0.9" height="0.9" fill="#000"/>
<rect x="331.7" y="268.8" width="0.9" height="0.9" fill="#000"/>
<rect x="328.5" y="267.6" width="0.9" height="0.9" fill="#000"/>
<rect x="330.9" y="271.8" width="0.9" height="0.9" fill="#000"/>
<rect x="328.2" y="269.9" width="0.9" height="0.9" fill="#000"/>
<rect x="328.2" y="263.0" width="0.9" height="0.9" fill="#000"/>
<rect x="327.9" y="262.3" width="0.9" height="0.9" fill="#000"/>
<rect x="331.6" y="269.8" width="0.9" height="0.9" fill="#000"/>
<rect x="331.7" y="268.4" width="0.9" height="0.9" fill="#000"/>
<rect x="338.0" y="267.2" width="0.9" height="0.9" fill="#000"/>
<rect x="331.8" y="265.4" width="0.9" height="0.9" fill="#000"/>
<rect x="324.1" y="268.9" width="0.9" height="0.9" fill="#000"/>
<rect x="323.4" y="268.5" width="0.9" height="0.9" fill="#000"/>
<rect x="330.9" y="270.1" width="0.9" height="0.9" fill="#000"/>
<rect x="330.7" y="263.5" width="0.9" height="0.9" fill="#000"/>
<rect x="332.5" y="264.4" width="0.9" height="0.9" fill="#000"/>
<rect x="330.2" y="266.4" width="0.9" height="0.9" fill="#000"/>
<rect x="330.4" y="265.7" width="0.9" height="0.9" fill="#000"/>
<rect x="327.4" y="265.7" width="0.9" height="0.9" fill="#000"/>
<rect x="321.8" y="265.8" width="0.9" height="0.9" fill="#000"/>
<rect x="325.8" y="270.1" width="0.9" height="0.9" fill="#000"/>
<rect x="336.5" y="259.7" width="0.9" height="0.9" fill="#000"/>
<rect x="331.6" y="265.9" width="0.9" height="0.9" fill="#000"/>
<rect x="326.5" y="268.1" width="0.9" height="0.9" fill="#000"/>
<rect x="329.0" y="260.3" width="0.9" height="0.9" fill="#000"/>
<rect x="329.9" y="265.8" width="0.9" height="0.9" fill="#000"/>
<rect x="331.5" y="262.1" width="0.9" height="0.9" fill="#000"/>
<rect x="333.6" y="268.8" width="0.9" height="0.9" fill="#000"/>
<rect x="326.1" y="264.1" width="0.9" height="0.9" fill="#000"/>
<rect x="330.7" y="264.4" width="0.9" height="0.9" fill="#000"/>
<rect x="338.5" y="267.0" width="0.9" height="0.9" fill="#000"/>
<rect x="326.7" y="263.6" width="0.9" height="0.9" fill="#000"/>
<rect x="330.8" y="274.1" width="0.9" height="0.9" fill="#000"/>
<rect x="330.2" y="266.7" width="0.9" height="0.9" fill="#000"/>
<rect x="333.2" y="266.2" width="0.9" height="0.9" fill="#000"/>
<rect x="340.8" y="264.5" width="0.9" height="0.9" fill="#000"/>
<rect x="334.2" y="266.8" width="0.9" height="0.9" fill="#000"/>
<rect x="333.7" y="262.3" width="0.9" height="0.9" fill="#000"/>
<rect x="338.6" y="265.9" width="0.9" height="0.9" fill="#000"/>
<rect x="331.1" y="263.1" width="0.9" height="0.9" fill="#000"/>
<rect x="327.9" y="268.2" width="0.9" height="0.9" fill="#000"/>
<rect x="335.2" y="268.9" width="0.9" height="0.9" fill="#000"/>
<rect x="336.2" y="268.7" width="0.9" height="0.9" fill="#000"/>
<rect x="331.1" y="269.1" width="0.9" height="0.9" fill="#000"/>
<rect x="333.6" y="266.0" width="0.9" height="0.9" fill="#000"/>
<rect x="334.1" y="270.7" width="0.9" height="0.9" fill="#000"/>
<rect x="332.0" y="265.1" width="0.9" height="0.9" fill="#000"/>
<rect x="334.1" y="272.8" width="0.9" height="0.9" fill="#000"/>
<rect x="330.1" y="266.0" width="0.9" height="0.9" fill="#000"/>
<rect x="330.4" y="270.5" width="0.9" height="0.9" fill="#000"/>
<rect x="323.1" y="267.5" width="0.9" height="0.9" fill="#000"/>
<rect x="336.1" y="263.5" width="0.9" height="0.9" fill="#000"/>
<rect x="337.4" y="268.1" width="0.9" height="0.9" fill="#000"/>
<rect x="328.6" y="267.0" width="0.9" height="0.9" fill="#000"/>
<rect x="324.4" y="264.4" width="0.9" height="0.9" fill="#000"/>
<rect x="338.9" y="263.3" width="0.9" height="0.9" fill="#000"/>
<rect x="338.9" y="266.0" width="0.9" height="0.9" fill="#000"/>
<rect x="335.3" y="266.4" width="0.9" height="0.9" fill="#000"/>
<rect x="321.4" y="264.4" width="0.9" height="0.9" fill="#000"/>
<rect x="331.8" y="262.4" width="0.9" height="0.9" fill="#000"/>
<rect x="325.2" y="267.5" width="0.9" height="0.9" fill="#000"/>
<rect x="328.2" y="260.5" width="0.9" height="0.9" fill="#000"/>
<rect x="328.1" y="269.2" width="0.9" height="0.9" fill="#000"/>
<rect x="329.0" y="269.5" width="0.9" height="0.9" fill="#000"/>
<rect x="337.6" y="266.4" width="0.9" height="0.9" fill="#000"/>
<rect x="326.1" y="261.9" width="0.9" height="0.9" fill="#000"/>
<rect x="330.9" y="269.3" width="0.9" height="0.9" fill="#000"/>
<rect x="332.2" y="268.2" width="0.9" height="0.9" fill="#000"/>
<rect x="329.1" y="267.3" width="0.9" height="0.9" fill="#000"/>
<rect x="329.0" y="265.2" width="0.9" height="0.9" fill="#000"/>
<rect x="325.4" y="261.0" width="0.9" height="0.9" fill="#000"/>
<rect x="328.9" y="262.5" width="0.9" height="0.9" fill="#000"/>
<rect x="326.9" y="268.6" width="0.9" height="0.9" fill="#000"/>
<rect x="335.0" y="264.1" width="0.9" height="0.9" fill="#000"/>
<rect x="334.3" y="267.5" width="0.9" height="0.9" fill="#000"/>
<rect x="328.1" y="270.0" width="0.9" height="0.9" fill="#000"/>
<rect x="327.7" y="255.9" width="0.9" height="0.9" fill="#000"/>
<rect x="334.4" y="264.2" width="0.9" height="0.9" fill="#000"/>
<rect x="337.4" y="264.1" width="0.9" height="0.9" fill="#000"/>
<rect x="325.9" y="271.6" width="0.9" height="0.9" fill="#000"/>
<rect x="326.4" y="267.0" width="0.9" height="0.9" fill="#000"/>
<rect x="337.2" y="266.7" width="0.9" height="0.9" fill="#000"/>
<rect x="330.7" y="266.6" width="0.9" height="0.9" fill="#000"/>
<rect x="334.6" y="263.6" width="0.9" height="0.9" fill="#000"/>
<rect x="333.6" y="268.3" width="0.9" height="0.9" fill="#000"/>
<rect x="341.0" y="265.2" width="0.9" height="0.9" fill="#000"/>
<rect x="327.1" y="268.8" width="0.9" height="0.9" fill="#000"/>
<rect x="329.3" y="267.3" width="0.9" height="0.9" fill="#000"/>
<rect x="331.6" y="270.3" width="0.9" height="0.9" fill="#000"/>
<rect x="328.2" y="266.0" width="0.9" height="0.9" fill="#000"/>
<rect x="320.0" y="263.3" width="0.9" height="0.9" fill="#000"/>
<rect x="337.6" y="264.0" width="0.9" height="0.9" fill="#000"/>
<rect x="328.0" y="262.2" width="0.9" height="0.9" fill="#000"/>
<rect x="333.5" y="266.9" width="0.9" height="0.9" fill="#000"/>
<rect x="325.9" y="268.6" width="0.9" height="0.9" fill="#000"/>
<rect x="332.1" y="268.9" width="0.9" height="0.9" fill="#000"/>
<rect x="328.2" y="272.2" width="0.9" height="0.9" fill="#000"/>
<rect x="332.8" y="265.9" width="0.9" height="0.9" fill="#000"/>
<rect x="328.8" y="265.5" width="0.9" height="0.9" fill="#000"/>
<rect x="334.7" y="265.4" width="0.9" height="0.9" fill="#000"/>
<rect x="335.6" y="268.3" width="0.9" height="0.9" fill="#000"/>
<rect x="336.8" y="269.1" width="0.9" height="0.9" fill="#000"/>
<rect x="330.7" y="259.8" width="0.9" height="0.9" fill="#000"/>
<rect x="332.3" y="269.0" width="0.9" height="0.9" fill="#000"/>
<rect x="331.7" y="268.2" width="0.9" height="0.9" fill="#000"/>
<rect x="329.0" y="265.0" width="0.9" height="0.9" fill="#000"/>
<rect x="326.9" y="270.9" width="0.9" height="0.9" fill="#000"/>
<rect x="331.7" y="264.6" width="0.9" height="0.9" fill="#000"/>
<rect x="325.3" y="265.8" width="0.9" height="0.9" fill="#000"/>
<rect x="337.2" y="267.9" width="0.9" height="0.9" fill="#000"/>
<rect x="327.9" y="271.2" width="0.9" height="0.9" fill="#000"/>
<rect x="337.1" y="269.6" width="0.9" height="0.9" fill="#000"/>
<rect x="334.4" y="270.2" width="0.9" height="0.9" fill="#000"/>
<rect x="333.3" y="268.9" width="0.9" height="0.9" fill="#000"/>
<rect x="327.6" y="271.4" width="0.9" height="0.9" fill="#000"/>
<rect x="332.0" y="273.2" width="0.9" height="0.9" fill="#000"/>
<rect x="322.2" y="268.7" width="0.9" height="0.9" fill="#000"/>
<rect x="335.2" y="265.1" width="0.9" height="0.9" fill="#000"/>
<rect x="332.9" y="268.8" width="0.9" height="0.9" fill="#000"/>
<rect x="333.5" y="264.5" width="0.9" height="0.9" fill="#000"/>
<rect x="330.4" y="269.8" width="0.9" height="0.9" fill="#000"/>
<rect x="336.5" y="266.6" width="0.9" height="0.9" fill="#000"/>
<rect x="331.3" y="267.0" width="0.9" height="0.9" fill="#000"/>
<rect x="335.5" y="262.7" width="0.9" height="0.9" fill="#000"/>
<rect x="325.3" y="266.7" width="0.9" height="0.9" fill="#000"/>
<rect x="326.2" y="264.3" width="0.9" height="0.9" fill="#000"/>
<rect x="331.4" y="267.9" width="0.9" height="0.9" fill="#000"/>
<rect x="326.4" y="269.0" width="0.9" height="0.9" fill="#000"/>
<rect x="323.4" y="268.2" width="0.9" height="0.9" fill="#000"/>
<rect x="324.2" y="262.0" width="0.9" height="0.9" fill="#000"/>
<rect x="333.8" y="264.9" width="0.9" height="0.9" fill="#000"/>
<rect x="327.6" y="264.8" width="0.9" height="0.9" fill="#000"/>
<rect x="333.0" y="266.1" width="0.9" height="0.9" fill="#000"/>
<rect x="330.9" y="269.9" width="0.9" height="0.9" fill="#000"/>
<rect x="327.9" y="264.7" width="0.9" height="0.9" fill="#000"/>
<rect x="328.8" y="270.3" width="0.9" height="0.9" fill="#000"/>
<rect x="335.3" y="270.7" width="0.9" height="0.9" fill="#000"/>
<rect x="330.9" y="265.8" width="0.9" height="0.9" fill="#000"/>
<rect x="334.7" y="265.0" width="0.9" height="0.9" fill="#000"/>
<rect x="334.6" y="268.8" width="0.9" height="0.9" fill="#000"/>
<rect x="328.0" y="266.0" width="0.9" height="0.9" fill="#000"/>
<rect x="330.5" y="272.2" width="0.9" height="0.9" fill="#000"/>
<rect x="342.1" y="266.0" width="0.9" height="0.9" fill="#000"/>
<rect x="331.1" y="258.5" width="0.9" height="0.9" fill="#000"/>
<rect x="331.9" y="266.3" width="0.9" height="0.9" fill="#000"/>
<rect x="326.4" y="269.0" width="0.9" height="0.9" fill="#000"/>
<rect x="324.3" y="265.6" width="0.9" height="0.9" fill="#000"/>
<rect x="331.6" y="262.1" width="0.9" height="0.9" fill="#000"/>
<rect x="334.7" y="269.9" width="0.9" height="0.9" fill="#000"/>
<rect x="325.0" y="261.5" width="0.9" height="0.9" fill="#000"/>
<rect x="333.6" y="266.2" width="0.9" height="0.9" fill="#000"/>
<rect x="325.8" y="265.3" width="0.9" height="0.9" fill="#000"/>
<rect x="330.5" y="265.8" width="0.9" height="0.9" fill="#000"/>
<rect x="334.6" y="267.6" width="0.9" height="0.9" fill="#000"/>
<rect x="338.6" y="271.0" width="0.9" height="0.9" fill="#000"/>
<rect x="333.9" y="270.0" width="0.9" height="0.9" fill="#000"/>
<rect x="336.7" y="268.7" width="0.9" height="0.9" fill="#000"/>
<rect x="325.7" y="269.2" width="0.9" height="0.9" fill="#000"/>
<rect x="331.3" y="271.8" width="0.9" height="0.9" fill="#000"/>
<rect x="331.4" y="268.1" width="0.9" height="0.9" fill="#000"/>
<rect x="332.4" y="272.0" width="0.9" height="0.9" fill="#000"/>
<rect x="331.8" y="265.4" width="0.9" height="0.9" fill="#000"/>
<rect x="332.3" y="264.8" width="0.9" height="0.9" fill="#000"/>
<rect x="331.7" y="266.3" width="0.9" height="0.9" fill="#000"/>
<rect x="332.2" y="272.8" width="0.9" height="0.9" fill="#000"/>
<rect x="329.3" y="266.4" width="0.9" height="0.9" fill="#000"/>
<rect x="330.1" y="268.6" width="0.9" height="0.9" fill="#000"/>
<rect x="325.9" y="263.9" width="0.9" height="0.9" fill="#000"/>
<rect x="330.8" y="268.2" width="0.9" height="0.9" fill="#000"/>
<rect x="330.8" y="264.6" width="0.9" height="0.9" fill="#000"/>
<rect x="327.3" y="268.0" width="0.9" height="0.9" fill="#000"/>
<rect x="337.2" y="267.4" width="0.9" height="0.9" fill="#000"/>
<rect x="331.8" y="267.8" width="0.9" height="0.9" fill="#000"/>
<rect x="326.9" y="265.2" width="0.9" height="0.9" fill="#000"/>
<rect x="329.8" y="267.3" width="0.9" height="0.9" fill="#000"/>
<rect x="330.9" y="262.2" width="0.9" height="0.9" fill="#000"/>
<rect x="335.8" y="272.1" width="0.9" height="0.9" fill="#000"/>
<rect x="329.9" y="267.7" width="0.9" height="0.9" fill="#000"/>
<rect x="332.1" y="269.0" width="0.9" height="0.9" fill="#000"/>
<rect x="324.6" y="271.8" width="0.9" height="0.9" fill="#000"/>
<rect x="329.0" y="270.6" width="0.9" height="0.9" fill="#000"/>
<rect x="331.3" y="265.0" width="0.9" height="0.9" fill="#000"/>
<rect x="330.4" y="269.4" width="0.9" height="0.9" fill="#000"/>
<rect x="327.3" y="265.0" width="0.9" height="0.9" fill="#000"/>
<rect x="328.9" y="260.5" width="0.9" height="0.9" fill="#000"/>
<rect x="336.6" y="268.3" width="0.9" height="0.9" fill="#000"/>
<rect x="330.9" y="270.3" width="0.9" height="0.9" fill="#000"/>
<rect x="326.9" y="266.1" width="0.9" height="0.9" fill="#000"/>
<rect x="338.4" y="269.6" width="0.9" height="0.9" fill="#000"/>
<rect x="321.4" y="255.0" width="0.9" height="0.9" fill="#000"/>
<rect x="326.5" y="269.9" width="0.9" height="0.9" fill="#000"/>
<rect x="329.0" y="265.6" width="0.9" height="0.9" fill="#000"/>
<rect x="333.6" y="263.3" width="0.9" height="0.9" fill="#000"/>
<rect x="331.9" y="269.0" width="0.9" height="0.9" fill="#000"/>
<rect x="333.0" y="267.6" width="0.9" height="0.9" fill="#000"/>
<rect x="328.4" y="268.0" width="0.9" height="0.9" fill="#000"/>
<rect x="329.2" y="270.7" width="0.9" height="0.9" fill="#000"/>
<rect x="342.1" y="263.8" width="0.9" height="0.9" fill="#000"/>
<rect x="321.6" y="264.9" width="0.9" height="0.9" fill="#000"/>
<rect x="332.6" y="269.9" width="0.9" height="0.9" fill="#000"/>
<rect x="335.6" y="263.6" width="0.9" height="0.9" fill="#000"/>
<rect x="327.6" y="270.6" width="0.9" height="0.9" fill="#000"/>
<rect x="326.3" y="270.0" width="0.9" height="0.9" fill="#000"/>
<rect x="330.0" y="268.9" width="0.9" height="0.9" fill="#000"/>
<rect x="334.0" y="268.9" width="0.9" height="0.9" fill="#000"/>
<rect x="334.5" y="262.9" width="0.9" height="0.9" fill="#000"/>
<rect x="332.3" y="266.3" width="0.9" height="0.9" fill="#000"/>
<rect x="332.3" y="270.5" width="0.9" height="0.9" fill="#000"/>
<rect x="329.8" y="263.9" width="0.9" height="0.9" fill="#000"/>
<rect x="327.9" y="265.2" width="0.9" height="0.9" fill="#000"/>
<rect x="334.2" y="263.5" width="0.9" height="0.9" fill="#000"/>
<rect x="336.0" y="267.3" width="0.9" height="0.9" fill="#000"/>
<rect x="330.0" y="261.8" width="0.9" height="0.9" fill="#000"/>
<rect x="332.1" y="268.7" width="0.9" height="0.9" fill="#000"/>
<rect x="323.4" y="270.4" width="0.9" height="0.9" fill="#000"/>
<rect x="338.1" y="267.5" width="0.9" height="0.9" fill="#000"/>
<rect x="333.1" y="274.5" width="0.9" height="0.9" fill="#000"/>
<rect x="336.3" y="263.2" width="0.9" height="0.9" fill="#000"/>
<rect x="330.9" y="265.8" width="0.9" height="0.9" fill="#000"/>
<rect x="330.4" y="258.3" width="0.9" height="0.9" fill="#000"/>
<rect x="334.3" y="264.1" width="0.9" height="0.9" fill="#000"/>
<rect x="331.7" y="265.8" width="0.9" height="0.9" fill="#000"/>
<rect x="334.7" y="265.3" width="0.9" height="0.9" fill="#000"/>
<rect x="327.6" y="268.1" width="0.9" height="0.9" fill="#000"/>
<rect x="337.0" y="265.2" width="0.9" height="0.9" fill="#000"/>
<rect x="336.9" y="267.2" width="0.9" height="0.9" fill="#000"/>
<rect x="328.7" y="271.5" width="0.9" height="0.9" fill="#000"/>
<rect x="327.5" y="269.7" width="0.9" height="0.9" fill="#000"/>
<rect x="328.9" y="267.8" width="0.9" height="0.9" fill="#000"/>
<rect x="325.7" y="263.5" width="0.9" height="0.9" fill="#000"/>
<rect x="335.6" y="266.9" width="0.9" height="0.9" fill="#000"/>
<rect x="331.2" y="264.8" width="0.9" height="0.9" fill="#000"/>
<rect x="332.9" y="261.5" width="0.9" height="0.9" fill="#000"/>
<rect x="326.2" y="265.8" width="0.9" height="0.9" fill="#000"/>
<rect x="327.4" y="263.9" width="0.9" height="0.9" fill="#000"/>
<rect x="330.7" y="265.8" width="0.9" height="0.9" fill="#000"/>
<rect x="330.0" y="272.0" width="0.9" height="0.9" fill="#000"/>
<rect x="335.3" y="270.5" width="0.9" height="0.9" fill="#000"/>
<rect x="330.9" y="264.6" width="0.9" height="0.9" fill="#000"/>
<rect x="324.7" y="265.1" width="0.9" height="0.9" fill="#000"/>
<rect x="322.0" y="264.3" width="0.9" height="0.9" fill="#000"/>
<rect x="334.3" y="271.8" width="0.9" height="0.9" fill="#000"/>
<rect x="335.2" y="263.4" width="0.9" height="0.9" fill="#000"/>
<rect x="333.1" y="263.6" width="0.9" height="0.9" fill="#000"/>
<rect x="334.5" y="265.9" width="0.9" height="0.9" fill="#000"/>
<rect x="334.7" y="275.0" width="0.9" height="0.9" fill="#000"/>
<rect x="335.0" y="274.2" width="0.9" height="0.9" fill="#000"/>
<rect x="331.8" y="265.2" width="0.9" height="0.9" fill="#000"/>
<rect x="336.7" y="272.2" width="0.9" height="0.9" fill="#000"/>
<rect x="328.6" y="266.6" width="0.9" height="0.9" fill="#000"/>
<rect x="324.8" y="265.6" width="0.9" height="0.9" fill="#000"/>
<rect x="334.8" y="266.0" width="0.9" height="0.9" fill="#000"/>
<rect x="328.6" y="261.5" width="0.9" height="0.9" fill="#000"/>
<rect x="332.6" y="269.0" width="0.9" height="0.9" fill="#000"/>
<rect x="333.6" y="267.2" width="0.9" height="0.9" fill="#000"/>
<rect x="325.5" y="272.3" width="0.9" height="0.9" fill="#000"/>
<rect x="330.8" y="265.8" width="0.9" height="0.9" fill="#000"/>
<rect x="334.2" y="258.9" width="0.9" height="0.9" fill="#000"/>
<rect x="330.7" y="265.8" width="0.9" height="0.9" fill="#000"/>
<rect x="332.6" y="270.9" width="0.9" height="0.9" fill="#000"/>
<rect x="333.0" y="260.1" width="0.9" height="0.9" fill="#000"/>
<rect x="329.5" y="267.0" width="0.9" height="0.9" fill="#000"/>
<rect x="331.6" y="261.9" width="0.9" height="0.9" fill="#000"/>
<rect x="323.8" y="268.2" width="0.9" height="0.9" fill="#000"/>
<rect x="332.5" y="266.2" width="0.9" height="0.9" fill="#000"/>
<rect x="323.6" y="272.3" width="0.9" height="0.9" fill="#000"/>
<rect x="318.5" y="265.1" width="0.9" height="0.9" fill="#000"/>
<rect x="340.0" y="265.8" width="0.9" height="0.9" fill="#000"/>
<rect x="332.0" y="262.3" width="0.9" height="0.9" fill="#000"/>
<rect x="336.8" y="261.9" width="0.9" height="0.9" fill="#000"/>
<rect x="332.1" y="266.8" width="0.9" height="0.9" fill="#000"/>
<rect x="326.5" y="269.3" width="0.9" height="0.9" fill="#000"/>
<rect x="324.9" y="264.0" width="0.9" height="0.9" fill="#000"/>
<rect x="330.9" y="264.9" width="0.9" height="0.9" fill="#000"/>
<rect x="333.0" y="269.4" width="0.9" height="0.9" fill="#000"/>
<rect x="329.7" y="264.5" width="0.9" height="0.9" fill="#000"/>
<rect x="328.8" y="265.1" width="0.9" height="0.9" fill="#000"/>
<rect x="334.5" y="265.6" width="0.9" height="0.9" fill="#000"/>
<rect x="332.8" y="266.0" width="0.9" height="0.9" fill="#000"/>
<rect x="327.4" y="269.2" width="0.9" height="0.9" fill="#000"/>
<rect x="326.5" y="266.3" width="0.9" height="0.9" fill="#000"/>
<rect x="337.4" y="262.6" width="0.9" height="0.9" fill="#000"/>
<rect x="330.8" y="260.9" width="0.9" height="0.9" fill="#000"/>
<rect x="328.8" y="261.2" width="0.9" height="0.9" fill="#000"/>
<rect x="329.4" y="264.5" width="0.9" height="0.9" fill="#000"/>
<rect x="331.6" y="271.7" width="0.9" height="0.9" fill="#000"/>
<rect x="332.2" y="268.5" width="0.9" height="0.9" fill="#000"/>
<rect x="330.8" y="265.5" width="0.9" height="0.9" fill="#000"/>
<rect x="327.4" y="260.2" width="0.9" height="0.9" fill="#000"/>
<rect x="331.3" y="271.8" width="0.9" height="0.9" fill="#000"/>
<rect x="333.0" y="264.5" width="0.9" height="0.9" fill="#000"/>
<rect x="338.1" y="264.8" width="0.9" height="0.9" fill="#000"/>
<rect x="328.3" y="262.2" width="0.9" height="0.9" fill="#000"/>
<rect x="326.9" y="265.5" width="0.9" height="0.9" fill="#000"/>
<rect x="339.6" y="265.6" width="0.9" height="0.9" fill="#000"/>
<rect x="326.6" y="264.2" width="0.9" height="0.9" fill="#000"/>
<rect x="330.0" y="260.5" width="0.9" height="0.9" fill="#000"/>
<rect x="331.5" y="268.7" width="0.9" height="0.9" fill="#000"/>
<rect x="332.4" y="268.3" width="0.9" height="0.9" fill="#000"/>
<rect x="325.5" y="260.5" width="0.9" height="0.9" fill="#000"/>
<rect x="336.5" y="270.0" width="0.9" height="0.9" fill="#000"/>
<rect x="324.4" y="267.0" width="0.9" height="0.9" fill="#000"/>
<rect x="331.1" y="268.2" width="0.9" height="0.9" fill="#000"/>
<rect x="331.9" y="264.6" width="0.9" height="0.9" fill="#000"/>
<rect x="331.8" y="266.8" width="0.9" height="0.9" fill="#000"/>
<rect x="330.8" y="260.0" width="0.9" height="0.9" fill="#000"/>
<rect x="318.1" y="263.6" width="0.9" height="0.9" fill="#000"/>
<rect x="324.0" y="267.2" width="0.9" height="0.9" fill="#000"/>
<rect x="334.1" y="267.2" width="0.9" height="0.9" fill="#000"/>
<rect x="329.4" y="266.5" width="0.9" height="0.9" fill="#000"/>
<rect x="336.0" y="263.8" width="0.9" height="0.9" fill="#000"/>
<rect x="335.0" y="268.7" width="0.9" height="0.9" fill="#000"/>
<rect x="332.1" y="271.2" width="0.9" height="0.9" fill="#000"/>
<rect x="327.9" y="269.5" width="0.9" height="0.9" fill="#000"/>
<rect x="327.0" y="263.7" width="0.9" height="0.9" fill="#000"/>
<rect x="326.4" y="267.8" width="0.9" height="0.9" fill="#000"/>
<rect x="327.0" y="266.5" width="0.9" height="0.9" fill="#000"/>
<rect x="326.1" y="269.9" width="0.9" height="0.9" fill="#000"/>
<rect x="338.9" y="267.1" width="0.9" height="0.9" fill="#000"/>
<rect x="338.1" y="268.2" width="0.9" height="0.9" fill="#000"/>
<rect x="340.3" y="266.6" width="0.9" height="0.9" fill="#000"/>
<rect x="324.2" y="271.4" width="0.9" height="0.9" fill="#000"/>
<rect x="330.5" y="262.8" width="0.9" height="0.9" fill="#000"/>
<rect x="328.2" y="260.8" width="0.9" height="0.9" fill="#000"/>
<rect x="330.3" y="262.7" width="0.9" height="0.9" fill="#000"/>
<rect x="337.4" y="268.6" width="0.9" height="0.9" fill="#000"/>
<rect x="323.9" y="261.2" width="0.9" height="0.9" fill="#000"/>
<rect x="328.6" y="259.8" width="0.9" height="0.9" fill="#000"/>
<rect x="330.5" y="266.2" width="0.9" height="0.9" fill="#000"/>
<rect x="327.7" y="264.4" width="0.9" height="0.9" fill="#000"/>
<rect x="333.1" y="271.1" width="0.9" height="0.9" fill="#000"/>
<rect x="337.4" y="266.4" width="0.9" height="0.9" fill="#000"/>
<rect x="334.7" y="263.8" width="0.9" height="0.9" fill="#000"/>
<rect x="332.8" y="263.0" width="0.9" height="0.9" fill="#000"/>
<rect x="334.1" y="262.1" width="0.9" height="0.9" fill="#000"/>
<rect x="326.9" y="266.3" width="0.9" height="0.9" fill="#000"/>
<rect x="333.4" y="261.4" width="0.9" height="0.9" fill="#000"/>
<rect x="328.7" y="266.8" width="0.9" height="0.9" fill="#000"/>
<rect x="332.0" y="263.4" width="0.9" height="0.9" fill="#000"/>
<rect x="331.4" y="265.4" width="0.9" height="0.9" fill="#000"/>
<rect x="337.0" y="268.2" width="0.9" height="0.9" fill="#000"/>
<rect x="325.3" y="258.8" width="0.9" height="0.9" fill="#000"/>
<rect x="331.4" y="270.3" width="0.9" height="0.9" fill="#000"/>
<rect x="331.7" y="269.3" width="0.9" height="0.9" fill="#000"/>
<rect x="328.9" y="261.7" width="0.9" height="0.9" fill="#000"/>
<rect x="334.2" y="266.6" width="0.9" height="0.9" fill="#000"/>
<rect x="333.9" y="261.6" width="0.9" height="0.9" fill="#000"/>
<rect x="331.8" y="264.2" width="0.9" height="0.9" fill="#000"/>
<rect x="334.5" y="264.3" width="0.9" height="0.9" fill="#000"/>
<rect x="328.4" y="264.3" width="0.9" height="0.9" fill="#000"/>
<rect x="336.4" y="266.4" width="0.9" height="0.9" fill="#000"/>
<rect x="327.7" y="262.8" width="0.9" height="0.9" fill="#000"/>
<rect x="326.5" y="271.3" width="0.9" height="0.9" fill="#000"/>
<rect x="323.2" y="263.4" width="0.9" height="0.9" fill="#000"/>
<rect x="333.7" y="270.3" width="0.9" height="0.9" fill="#000"/>
<rect x="330.4" y="269.0" width="0.9" height="0.9" fill="#000"/>
<rect x="334.3" y="269.7" width="0.9" height="0.9" fill="#000"/>
<rect x="331.2" y="271.9" width="0.9" height="0.9" fill="#000"/>
<rect x="331.9" y="271.6" width="0.9" height="0.9" fill="#000"/>
<rect x="326.3" y="269.6" width="0.9" height="0.9" fill="#000"/>
<rect x="325.7" y="261.3" width="0.9" height="0.9" fill="#000"/>
<rect x="333.3" y="263.6" width="0.9" height="0.9" fill="#000"/>
<rect x="333.1" y="262.8" width="0.9" height="0.9" fill="#000"/>
<rect x="338.1" y="266.5" width="0.9" height="0.9" fill="#000"/>
<rect x="326.3" y="267.0" width="0.9" height="0.9" fill="#000"/>
<rect x="335.0" y="263.8" width="0.9" height="0.9" fill="#000"/>
<rect x="333.4" y="273.4" width="0.9" height="0.9" fill="#000"/>
<rect x="334.9" y="266.4" width="0.9" height="0.9" fill="#000"/>
<rect x="328.8" y="268.4" width="0.9" height="0.9" fill="#000"/>
<rect x="324.7" y="256.1" width="0.9" height="0.9" fill="#000"/>
<rect x="328.4" y="262.8" width="0.9" height="0.9" fill="#000"/>
<rect x="338.7" y="267.0" width="0.9" height="0.9" fill="#000"/>
<rect x="327.0" y="262.5" width="0.9" height="0.9" fill="#000"/>
<rect x="333.4" y="263.7" width="0.9" height="0.9" fill="#000"/>
<rect x="328.8" y="266.2" width="0.9" height="0.9" fill="#000"/>
<rect x="331.6" y="266.8" width="0.9" height="0.9" fill="#000"/>
<rect x="331.8" y="271.0" width="0.9" height="0.9" fill="#000"/>
<rect x="338.6" y="260.9" width="0.9" height="0.9" fill="#000"/>
<rect x="342.4" y="267.0" width="0.9" height="0.9" fill="#000"/>
<rect x="336.7" y="264.0" width="0.9" height="0.9" fill="#000"/>
<rect x="332.7" y="267.3" width="0.9" height="0.9" fill="#000"/>
<rect x="331.8" y="269.4" width="0.9" height="0.9" fill="#000"/>
<rect x="334.0" y="263.1" width="0.9" height="0.9" fill="#000"/>
<rect x="330.8" y="269.0" width="0.9" height="0.9" fill="#000"/>
<rect x="334.3" y="265.4" width="0.9" height="0.9" fill="#000"/>
<rect x="330.1" y="266.0" width="0.9" height="0.9" fill="#000"/>
<rect x="326.6" y="262.2" width="0.9" height="0.9" fill="#000"/>
<rect x="338.1" y="265.2" width="0.9" height="0.9" fill="#000"/>
<rect x="331.7" y="264.0" width="0.9" height="0.9" fill="#000"/>
<rect x="336.9" y="272.5" width="0.9" height="0.9" fill="#000"/>
<rect x="330.4" y="268.3" width="0.9" height="0.9" fill="#000"/>
<rect x="328.1" y="272.6" width="0.9" height="0.9" fill="#000"/>
<rect x="335.3" y="263.7" width="0.9" height="0.9" fill="#000"/>
<rect x="336.7" y="267.8" width="0.9" height="0.9" fill="#000"/>
<rect x="333.1" y="267.8" width="0.9" height="0.9" fill="#000"/>
<rect x="328.4" y="264.7" width="0.9" height="0.9" fill="#000"/>
<rect x="334.0" y="266.4" width="0.9" height="0.9" fill="#000"/>
<rect x="327.2" y="273.5" width="0.9" height="0.9" fill="#000"/>
<rect x="330.4" y="264.6" width="0.9" height="0.9" fill="#000"/>
<rect x="328.3" y="268.9" width="0.9" height="0.9" fill="#000"/>
<rect x="335.5" y="267.4" width="0.9" height="0.9" fill="#000"/>
<rect x="335.0" y="261.4" width="0.9" height="0.9" fill="#000"/>
<rect x="329.7" y="264.9" width="0.9" height="0.9" fill="#000"/>
<rect x="331.3" y="268.2" width="0.9" height="0.9" fill="#000"/>
<rect x="327.5" y="267.7" width="0.9" height="0.9" fill="#000"/>
<rect x="334.8" y="269.4" width="0.9" height="0.9" fill="#000"/>
<rect x="332.3" y="256.6" width="0.9" height="0.9" fill="#000"/>
<rect x="326.6" y="269.1" width="0.9" height="0.9" fill="#000"/>
<rect x="327.3" y="262.9" width="0.9" height="0.9" fill="#000"/>
<rect x="321.1" y="270.6" width="0.9" height="0.9" fill="#000"/>
<rect x="333.4" y="263.4" width="0.9" height="0.9" fill="#000"/>
<rect x="330.6" y="266.1" width="0.9" height="0.9" fill="#000"/>
<rect x="326.4" y="265.5" width="0.9" height="0.9" fill="#000"/>
<rect x="332.2" y="268.3" width="0.9" height="0.9" fill="#000"/>
<rect x="336.6" y="266.5" width="0.9" height="0.9" fill="#000"/>
<rect x="329.1" y="267.8" width="0.9" height="0.9" fill="#000"/>
<rect x="328.4" y="262.1" width="0.9" height="0.9" fill="#000"/>
<rect x="336.0" y="265.1" width="0.9" height="0.9" fill="#000"/>
<rect x="331.6" y="268.6" width="0.9" height="0.9" fill="#000"/>
<rect x="326.3" y="268.5" width="0.9" height="0.9" fill="#000"/>
<rect x="333.0" y="266.0" width="0.9" height="0.9" fill="#000"/>
<rect x="332.8" y="263.8" width="0.9" height="0.9" fill="#000"/>
<rect x="321.6" y="265.4" width="0.9" height="0.9" fill="#000"/>
<rect x="327.2" y="269.3" width="0.9" height="0.9" fill="#000"/>
<rect x="332.2" y="264.6" width="0.9" height="0.9" fill="#000"/>
<rect x="331.3" y="271.0" width="0.9" height="0.9" fill="#000"/>
<rect x="336.0" y="267.6" width="0.9" height="0.9" fill="#000"/>
<rect x="332.9" y="265.4" width="0.9" height="0.9" fill="#000"/>
<rect x="330.5" y="268.4" width="0.9" height="0.9" fill="#000"/>
<rect x="330.6" y="267.4" width="0.9" height="0.9" fill="#000"/>
<rect x="326.3" y="260.7" width="0.9" height="0.9" fill="#000"/>
<rect x="323.8" y="264.9" width="0.9" height="0.9" fill="#000"/>
<rect x="336.8" y="270.4" width="0.9" height="0.9" fill="#000"/>
<rect x="326.8" y="261.1" width="0.9" height="0.9" fill="#000"/>
<rect x="334.5" y="267.9" width="0.9" height="0.9" fill="#000"/>
<rect x="325.2" y="270.0" width="0.9" height="0.9" fill="#000"/>
<rect x="331.8" y="270.9" width="0.9" height="0.9" fill="#000"/>
<rect x="332.5" y="269.4" width="0.9" height="0.9" fill="#000"/>
<rect x="332.4" y="263.1" width="0.9" height="0.9" fill="#000"/>
<rect x="330.1" y="264.0" width="0.9" height="0.9" fill="#000"/>
<rect x="334.6" y="263.0" width="0.9" height="0.9" fill="#000"/>
<rect x="324.5" y="268.7" width="0.9" height="0.9" fill="#000"/>
<rect x="336.0" y="271.3" width="0.9" height="0.9" fill="#000"/>
<rect x="335.8" y="261.2" width="0.9" height="0.9" fill="#000"/>
<rect x="328.1" y="264.5" width="0.9" height="0.9" fill="#000"/>
<rect x="331.0" y="259.0" width="0.9" height="0.9" fill="#000"/>
<rect x="331.0" y="267.3" width="0.9" height="0.9" fill="#000"/>
<rect x="327.0" y="266.7" width="0.9" height="0.9" fill="#000"/>
<rect x="336.2" y="266.5" width="0.9" height="0.9" fill="#000"/>
<rect x="335.6" y="269.8" width="0.9" height="0.9" fill="#000"/>
<rect x="332.8" y="267.6" width="0.9" height="0.9" fill="#000"/>
<rect x="329.4" y="270.6" width="0.9" height="0.9" fill="#000"/>
<rect x="329.0" y="264.0" width="0.9" height="0.9" fill="#000"/>
<rect x="334.1" y="263.9" width="0.9" height="0.9" fill="#000"/>
<rect x="332.9" y="269.9" width="0.9" height="0.9" fill="#000"/>
<rect x="331.4" y="266.7" width="0.9" height="0.9" fill="#000"/>
<rect x="335.0" y="268.9" width="0.9" height="0.9" fill="#000"/>
<rect x="324.4" y="261.9" width="0.9" height="0.9" fill="#000"/>
<rect x="336.8" y="267.7" width="0.9" height="0.9" fill="#000"/>
<rect x="322.1" y="261.8" width="0.9" height="0.9" fill="#000"/>
<rect x="331.2" y="263.0" width="0.9" height="0.9" fill="#000"/>
<rect x="333.1" y="266.6" width="0.9" height="0.9" fill="#000"/>
<rect x="333.2" y="262.4" width="0.9" height="0.9" fill="#000"/>
<rect x="333.7" y="273.0" width="0.9" height="0.9" fill="#000"/>
<rect x="327.7" y="270.8" width="0.9" height="0.9" fill="#000"/>
<rect x="335.3" y="268.6" width="0.9" height="0.9" fill="#000"/>
<rect x="330.8" y="262.4" width="0.9" height="0.9" fill="#000"/>
<rect x="327.3" y="269.0" width="0.9" height="0.9" fill="#000"/>
<rect x="335.3" y="270.5" width="0.9" height="0.9" fill="#000"/>
<rect x="335.2" y="269.5" width="0.9" height="0.9" fill="#000"/>
<rect x="329.2" y="262.3" width="0.9" height="0.9" fill="#000"/>
<rect x="332.0" y="268.1" width="0.9" height="0.9" fill="#000"/>
<rect x="331.5" y="261.2" width="0.9" height="0.9" fill="#000"/>
<rect x="328.9" y="261.4" width="0.9" height="0.9" fill="#000"/>
<rect x="331.7" y="262.8" width="0.9" height="0.9" fill="#000"/>
<rect x="330.4" y="267.5" width="0.9" height="0.9" fill="#000"/>
<rect x="331.7" y="271.0" width="0.9" height="0.9" fill="#000"/>
<rect x="326.4" y="259.0" width="0.9" height="0.9" fill="#000"/>
<rect x="335.2" y="271.2" width="0.9" height="0.9" fill="#000"/>
<rect x="337.3" y="267.4" width="0.9" height="0.9" fill="#000"/>
<rect x="333.4" y="266.8" width="0.9" height="0.9" fill="#000"/>
<rect x="325.6" y="264.5" width="0.9" height="0.9" fill="#000"/>
<rect x="333.3" y="264.4" width="0.9" height="0.9" fill="#000"/>
<rect x="339.3" y="261.2" width="0.9" height="0.9" fill="#000"/>
<rect x="329.3" y="270.2" width="0.9" height="0.9" fill="#000"/>
<rect x="328.5" y="262.6" width="0.9" height="0.9" fill="#000"/>
<rect x="325.3" y="263.9" width="0.9" height="0.9" fill="#000"/>
<rect x="337.6" y="267.8" width="0.9" height="0.9" fill="#000"/>
<rect x="333.4" y="264.6" width="0.9" height="0.9" fill="#000"/>
<rect x="334.8" y="266.8" width="0.9" height="0.9" fill="#000"/>
<rect x="327.2" y="264.9" width="0.9" height="0.9" fill="#000"/>
<rect x="332.0" y="270.4" width="0.9" height="0.9" fill="#000"/>
<rect x="330.9" y="268.1" width="0.9" height="0.9" fill="#000"/>
<rect x="339.8" y="263.7" width="0.9" height="0.9" fill="#000"/>
<rect x="325.8" y="269.8" width="0.9" height="0.9" fill="#000"/>
<rect x="333.0" y="266.1" width="0.9" height="0.9" fill="#000"/>
<rect x="332.3" y="265.3" width="0.9" height="0.9" fill="#000"/>
<rect x="333.4" y="265.3" width="0.9" height="0.9" fill="#000"/>
<rect x="334.6" y="262.4" width="0.9" height="0.9" fill="#000"/>
<rect x="327.6" y="266.8" width="0.9" height="0.9" fill="#000"/>
<rect x="329.1" y="268.8" width="0.9" height="0.9" fill="#000"/>
<rect x="331.0" y="264.6" width="0.9" height="0.9" fill="#000"/>
<rect x="332.1" y="264.6" width="0.9" height="0.9" fill="#000"/>
<rect x="324.5" y="262.6" width="0.9" height="0.9" fill="#000"/>
<rect x="327.7" y="264.8" width="0.9" height="0.9" fill="#000"/>
<rect x="331.6" y="269.5" width="0.9" height="0.9" fill="#000"/>
<rect x="333.5" y="272.5" width="0.9" height="0.9" fill="#000"/>
<rect x="336.7" y="265.8" width="0.9" height="0.9" fill="#000"/>
<rect x="338.3" y="270.5" width="0.9" height="0.9" fill="#000"/>
<rect x="329.2" y="267.5" width="0.9" height="0.9" fill="#000"/>
<rect x="335.9" y="267.3" width="0.9" height="0.9" fill="#000"/>
<rect x="335.6" y="267.8" width="0.9" height="0.9" fill="#000"/>
<rect x="334.2" y="265.4" width="0.9" height="0.9" fill="#000"/>
<rect x="332.8" y="265.2" width="0.9" height="0.9" fill="#000"/>
<rect x="334.1" y="260.7" width="0.9" height="0.9" fill="#000"/>
<rect x="332.6" y="270.7" width="0.9" height="0.9" fill="#000"/>
<rect x="333.7" y="266.4" width="0.9" height="0.9" fill="#000"/>
<rect x="333.5" y="263.6" width="0.9" height="0.9" fill="#000"/>
<rect x="327.6" y="265.2" width="0.9" height="0.9" fill="#000"/>
<rect x="330.6" y="269.7" width="0.9" height="0.9" fill="#000"/>
<rect x="327.4" y="269.9" width="0.9" height="0.9" fill="#000"/>
<rect x="324.4" y="263.8" width="0.9" height="0.9" fill="#000"/>
<rect x="331.0" y="270.4" width="0.9" height="0.9" fill="#000"/>
<rect x="328.6" y="259.2" width="0.9" height="0.9" fill="#000"/>
<rect x="333.0" y="266.4" width="0.9" height="0.9" fill="#000"/>
<rect x="326.5" y="262.9" width="0.9" height="0.9" fill="#000"/>
<rect x="328.2" y="266.8" width="0.9" height="0.9" fill="#000"/>
<rect x="342.7" y="260.3" width="0.9" height="0.9" fill="#000"/>
<rect x="355.7" y="266.0" width="0.9" height="0.9" fill="#000"/>
<rect x="334.4" y="268.9" width="0.9" height="0.9" fill="#000"/>
<rect x="346.1" y="264.7" width="0.9" height="0.9" fill="#000"/>
<rect x="334.2" y="264.2" width="0.9" height="0.9" fill="#000"/>
<rect x="334.6" y="268.9" width="0.9" height="0.9" fill="#000"/>
<rect x="332.2" y="272.6" width="0.9" height="0.9" fill="#000"/>
<rect x="336.7" y="265.6" width="0.9" height="0.9" fill="#000"/>
<rect x="344.9" y="258.3" width="0.9" height="0.9" fill="#000"/>
<rect x="329.9" y="268.6" width="0.9" height="0.9" fill="#000"/>
<rect x="337.4" y="266.1" width="0.9" height="0.9" fill="#000"/>
<rect x="340.5" y="263.8" width="0.9" height="0.9" fill="#000"/>
<rect x="336.0" y="260.7" width="0.9" height="0.9" fill="#000"/>
<rect x="322.3" y="271.2" width="0.9" height="0.9" fill="#000"/>
<rect x="329.9" y="263.3" width="0.9" height="0.9" fill="#000"/>
<rect x="348.5" y="270.4" width="0.9" height="0.9" fill="#000"/>
<rect x="333.1" y="264.0" width="0.9" height="0.9" fill="#000"/>
<rect x="336.7" y="262.3" width="0.9" height="0.9" fill="#000"/>
<rect x="341.7" y="266.7" width="0.9" height="0.9" fill="#000"/>
<rect x="338.4" y="269.2" width="0.9" height="0.9" fill="#000"/>
<rect x="343.1" y="273.5" width="0.9" height="0.9" fill="#000"/>
<rect x="349.4" y="259.3" width="0.9" height="0.9" fill="#000"/>
<rect x="344.5" y="261.7" width="0.9" height="0.9" fill="#000"/>
<rect x="325.9" y="269.0" width="0.9" height="0.9" fill="#000"/>
<rect x="331.7" y="264.9" width="0.9" height="0.9" fill="#000"/>
<rect x="345.9" y="263.5" width="0.9" height="0.9" fill="#000"/>
<rect x="330.1" y="267.5" width="0.9" height="0.9" fill="#000"/>
<rect x="347.1" y="268.3" width="0.9" height="0.9" fill="#000"/>
<rect x="324.9" y="263.5" width="0.9" height="0.9" fill="#000"/>
<rect x="336.1" y="273.9" width="0.9" height="0.9" fill="#000"/>
<rect x="344.5" y="269.6" width="0.9" height="0.9" fill="#000"/>
<rect x="346.9" y="264.9" width="0.9" height="0.9" fill="#000"/>
<rect x="341.1" y="268.1" width="0.9" height="0.9" fill="#000"/>
<rect x="329.5" y="266.1" width="0.9" height="0.9" fill="#000"/>
<rect x="341.8" y="261.8" width="0.9" height="0.9" fill="#000"/>
<rect x="343.8" y="269.2" width="0.9" height="0.9" fill="#000"/>
<rect x="345.6" y="263.1" width="0.9" height="0.9" fill="#000"/>
<rect x="338.2" y="272.0" width="0.9" height="0.9" fill="#000"/>
<rect x="343.6" y="263.0" width="0.9" height="0.9" fill="#000"/>
<rect x="339.1" y="271.8" width="0.9" height="0.9" fill="#000"/>
<rect x="336.7" y="267.7" width="0.9" height="0.9" fill="#000"/>
<rect x="357.8" y="266.0" width="0.9" height="0.9" fill="#000"/>
<rect x="336.4" y="262.1" width="0.9" height="0.9" fill="#000"/>
<rect x="332.0" y="272.1" width="0.9" height="0.9" fill="#000"/>
<rect x="336.2" y="261.4" width="0.9" height="0.9" fill="#000"/>
<rect x="329.8" y="266.2" width="0.9" height="0.9" fill="#000"/>
<rect x="343.4" y="263.2" width="0.9" height="0.9" fill="#000"/>
<rect x="343.0" y="264.2" width="0.9" height="0.9" fill="#000"/>
<rect x="340.1" y="268.2" width="0.9" height="0.9" fill="#000"/>
<rect x="342.1" y="264.4" width="0.9" height="0.9" fill="#000"/>
<rect x="335.8" y="268.1" width="0.9" height="0.9" fill="#000"/>
<rect x="326.8" y="266.8" width="0.9" height="0.9" fill="#000"/>
<rect x="341.2" y="270.2" width="0.9" height="0.9" fill="#000"/>
<rect x="336.8" y="265.3" width="0.9" height="0.9" fill="#000"/>
<rect x="338.2" y="263.1" width="0.9" height="0.9" fill="#000"/>
<rect x="335.4" y="267.7" width="0.9" height="0.9" fill="#000"/>
<rect x="339.3" y="261.8" width="0.9" height="0.9" fill="#000"/>
<rect x="334.4" y="257.6" width="0.9" height="0.9" fill="#000"/>
<rect x="343.4" y="263.9" width="0.9" height="0.9" fill="#000"/>
<rect x="338.9" y="261.6" width="0.9" height="0.9" fill="#000"/>
<rect x="336.3" y="267.8" width="0.9" height="0.9" fill="#000"/>
<rect x="344.8" y="260.5" width="0.9" height="0.9" fill="#000"/>
<rect x="343.7" y="265.3" width="0.9" height="0.9" fill="#000"/>
<rect x="330.7" y="267.9" width="0.9" height="0.9" fill="#000"/>
<rect x="334.5" y="264.8" width="0.9" height="0.9" fill="#000"/>
<rect x="331.2" y="266.8" width="0.9" height="0.9" fill="#000"/>
<rect x="337.2" y="265.2" width="0.9" height="0.9" fill="#000"/>
<rect x="329.2" y="263.9" width="0.9" height="0.9" fill="#000"/>
<rect x="340.1" y="271.0" width="0.9" height="0.9" fill="#000"/>
<rect x="336.6" y="271.6" width="0.9" height="0.9" fill="#000"/>
<rect x="336.8" y="261.6" width="0.9" height="0.9" fill="#000"/>
<rect x="341.9" y="262.1" width="0.9" height="0.9" fill="#000"/>
<rect x="340.1" y="270.2" width="0.9" height="0.9" fill="#000"/>
<rect x="334.4" y="265.6" width="0.9" height="0.9" fill="#000"/>
<rect x="356.6" y="266.9" width="0.9" height="0.9" fill="#000"/>
<rect x="339.0" y="269.0" width="0.9" height="0.9" fill="#000"/>
<rect x="336.1" y="265.6" width="0.9" height="0.9" fill="#000"/>
<rect x="339.9" y="256.4" width="0.9" height="0.9" fill="#000"/>
<rect x="348.2" y="261.7" width="0.9" height="0.9" fill="#000"/>
<rect x="328.2" y="268.1" width="0.9" height="0.9" fill="#000"/>
<rect x="337.1" y="260.9" width="0.9" height="0.9" fill="#000"/>
<rect x="338.5" y="261.4" width="0.9" height="0.9" fill="#000"/>
<rect x="331.3" y="259.9" width="0.9" height="0.9" fill="#000"/>
<rect x="330.3" y="267.5" width="0.9" height="0.9" fill="#000"/>
<rect x="337.8" y="267.2" width="0.9" height="0.9" fill="#000"/>
<rect x="344.2" y="265.8" width="0.9" height="0.9" fill="#000"/>
<rect x="331.6" y="264.8" width="0.9" height="0.9" fill="#000"/>
<rect x="350.0" y="266.1" width="0.9" height="0.9" fill="#000"/>
<rect x="339.4" y="265.5" width="0.9" height="0.9" fill="#000"/>
<rect x="334.7" y="250.1" width="0.9" height="0.9" fill="#000"/>
<rect x="333.9" y="247.1" width="0.9" height="0.9" fill="#000"/>
<rect x="331.6" y="243.7" width="0.9" height="0.9" fill="#000"/>
<rect x="335.2" y="251.6" width="0.9" height="0.9" fill="#000"/>
<rect x="336.7" y="248.2" width="0.9" height="0.9" fill="#000"/>
<rect x="331.5" y="251.1" width="0.9" height="0.9" fill="#000"/>
<rect x="307.7" y="198.9" width="77.10" height="77.60" fill="none" stroke="#222" stroke-width="1"/>
<line x1="320.5" y1="198.9" x2="320.5" y2="276.5" stroke="#222" stroke-width="1"/>
<line x1="307.7" y1="258.0" x2="384.8" y2="258.0" stroke="#222" stroke-width="1"/>
<line x1="307.70" y1="276.5" x2="307.70" y2="278.7" stroke="#000" stroke-width="1"/>
<line x1="305.5" y1="276.50" x2="307.7" y2="276.50" stroke="#000" stroke-width="1"/>
<line x1="313.50" y1="276.5" x2="313.50" y2="277.9" stroke="#000" stroke-width="1"/>
<line x1="306.3" y1="270.66" x2="307.7" y2="270.66" stroke="#000" stroke-width="1"/>
<line x1="316.90" y1="276.5" x2="316.90" y2="277.9" stroke="#000" stroke-width="1"/>
<line x1="306.3" y1="267.24" x2="307.7" y2="267.24" stroke="#000" stroke-width="1"/>
<line x1="319.30" y1="276.5" x2="319.30" y2="277.9" stroke="#000" stroke-width="1"/>
<line x1="306.3" y1="264.82" x2="307.7" y2="264.82" stroke="#000" stroke-width="1"/>
<line x1="321.17" y1="276.5" x2="321.17" y2="277.9" stroke="#000" stroke-width="1"/>
<line x1="306.3" y1="262.94" x2="307.7" y2="262.94" stroke="#000" stroke-width="1"/>
<line x1="322.70" y1="276.5" x2="322.70" y2="277.9" stroke="#000" stroke-width="1"/>
<line x1="306.3" y1="261.40" x2="307.7" y2="261.40" stroke="#000" stroke-width="1"/>
<line x1="323.99" y1="276.5" x2="323.99" y2="277.9" stroke="#000" stroke-width="1"/>
<line x1="306.3" y1="260.11" x2="307.7" y2="260.11" stroke="#000" stroke-width="1"/>
<line x1="325.11" y1="276.5" x2="325.11" y2="277.9" stroke="#000" stroke-width="1"/>
<line x1="306.3" y1="258.98" x2="307.7" y2="258.98" stroke="#000" stroke-width="1"/>
<line x1="326.09" y1="276.5" x2="326.09" y2="277.9" stroke="#000" stroke-width="1"/>
<line x1="306.3" y1="257.99" x2="307.7" y2="257.99" stroke="#000" stroke-width="1"/>
<line x1="326.98" y1="276.5" x2="326.98" y2="278.7" stroke="#000" stroke-width="1"/>
<line x1="305.5" y1="257.10" x2="307.7" y2="257.10" stroke="#000" stroke-width="1"/>
<line x1="332.78" y1="276.5" x2="332.78" y2="277.9" stroke="#000" stroke-width="1"/>
<line x1="306.3" y1="251.26" x2="307.7" y2="251.26" stroke="#000" stroke-width="1"/>
<line x1="336.17" y1="276.5" x2="336.17" y2="277.9" stroke="#000" stroke-width="1"/>
<line x1="306.3" y1="247.84" x2="307.7" y2="247.84" stroke="#000" stroke-width="1"/>
<line x1="338.58" y1="276.5" x2="338.58" y2="277.9" stroke="#000" stroke-width="1"/>
<line x1="306.3" y1="245.42" x2="307.7" y2="245.42" stroke="#000" stroke-width="1"/>
<line x1="340.45" y1="276.5" x2="340.45" y2="277.9" stroke="#000" stroke-width="1"/>
<line x1="306.3" y1="243.54" x2="307.7" y2="243.54" stroke="#000" stroke-width="1"/>
<line x1="341.97" y1="276.5" x2="341.97" y2="277.9" stroke="#000" stroke-width="1"/>
<line x1="306.3" y1="242.00" x2="307.7" y2="242.00" stroke="#000" stroke-width="1"/>
<line x1="343.26" y1="276.5" x2="343.26" y2="277.9" stroke="#000" stroke-width="1"/>
<line x1="306.3" y1="240.71" x2="307.7" y2="240.71" stroke="#000" stroke-width="1"/>
<line x1="344.38" y1="276.5" x2="344.38" y2="277.9" stroke="#000" stroke-width="1"/>
<line x1="306.3" y1="239.58" x2="307.7" y2="239.58" stroke="#000" stroke-width="1"/>
<line x1="345.37" y1="276.5" x2="345.37" y2="277.9" stroke="#000" stroke-width="1"/>
<line x1="306.3" y1="238.59" x2="307.7" y2="238.59" stroke="#000" stroke-width="1"/>
<line x1="346.25" y1="276.5" x2="346.25" y2="278.7" stroke="#000" stroke-width="1"/>
<line x1="305.5" y1="237.70" x2="307.7" y2="237.70" stroke="#000" stroke-width="1"/>
<line x1="352.05" y1="276.5" x2="352.05" y2="277.9" stroke="#000" stroke-width="1"/>
<line x1="306.3" y1="231.86" x2="307.7" y2="231.86" stroke="#000" stroke-width="1"/>
<line x1="355.45" y1="276.5" x2="355.45" y2="277.9" stroke="#000" stroke-width="1"/>
<line x1="306.3" y1="228.44" x2="307.7" y2="228.44" stroke="#000" stroke-width="1"/>
<line x1="357.85" y1="276.5" x2="357.85" y2="277.9" stroke="#000" stroke-width="1"/>
<line x1="306.3" y1="226.02" x2="307.7" y2="226.02" stroke="#000" stroke-width="1"/>
<line x1="359.72" y1="276.5" x2="359.72" y2="277.9" stroke="#000" stroke-width="1"/>
<line x1="306.3" y1="224.14" x2="307.7" y2="224.14" stroke="#000" stroke-width="1"/>
<line x1="361.25" y1="276.5" x2="361.25" y2="277.9" stroke="#000" stroke-width="1"/>
<line x1="306.3" y1="222.60" x2="307.7" y2="222.60" stroke="#000" stroke-width="1"/>
<line x1="362.54" y1="276.5" x2="362.54" y2="277.9" stroke="#000" stroke-width="1"/>
<line x1="306.3" y1="221.31" x2="307.7" y2="221.31" stroke="#000" stroke-width="1"/>
<line x1="363.66" y1="276.5" x2="363.66" y2="277.9" stroke="#000" stroke-width="1"/>
<line x1="306.3" y1="220.18" x2="307.7" y2="220.18" stroke="#000" stroke-width="1"/>
<line x1="364.64" y1="276.5" x2="364.64" y2="277.9" stroke="#000" stroke-width="1"/>
<line x1="306.3" y1="219.19" x2="307.7" y2="219.19" stroke="#000" stroke-width="1"/>
<line x1="365.52" y1="276.5" x2="365.52" y2="278.7" stroke="#000" stroke-width="1"/>
<line x1="305.5" y1="218.30" x2="307.7" y2="218.30" stroke="#000" stroke-width="1"/>
<line x1="371.33" y1="276.5" x2="371.33" y2="277.9" stroke="#000" stroke-width="1"/>
<line x1="306.3" y1="212.46" x2="307.7" y2="212.46" stroke="#000" stroke-width="1"/>
<line x1="374.72" y1="276.5" x2="374.72" y2="277.9" stroke="#000" stroke-width="1"/>
<line x1="306.3" y1="209.04" x2="307.7" y2="209.04" stroke="#000" stroke-width="1"/>
<line x1="377.13" y1="276.5" x2="377.13" y2="277.9" stroke="#000" stroke-width="1"/>
<line x1="306.3" y1="206.62" x2="307.7" y2="206.62" stroke="#000" stroke-width="1"/>
<line x1="379.00" y1="276.5" x2="379.00" y2="277.9" stroke="#000" stroke-width="1"/>
<line x1="306.3" y1="204.74" x2="307.7" y2="204.74" stroke="#000" stroke-width="1"/>
<line x1="380.52" y1="276.5" x2="380.52" y2="277.9" stroke="#000" stroke-width="1"/>
<line x1="306.3" y1="203.20" x2="307.7" y2="203.20" stroke="#000" stroke-width="1"/>
<line x1="381.81" y1="276.5" x2="381.81" y2="277.9" stroke="#000" stroke-width="1"/>
<line x1="306.3" y1="201.91" x2="307.7" y2="201.91" stroke="#000" stroke-width="1"/>
<line x1="382.93" y1="276.5" x2="382.93" y2="277.9" stroke="#000" stroke-width="1"/>
<line x1="306.3" y1="200.78" x2="307.7" y2="200.78" stroke="#000" stroke-width="1"/>
<line x1="383.92" y1="276.5" x2="383.92" y2="277.9" stroke="#000" stroke-width="1"/>
<line x1="306.3" y1="199.79" x2="307.7" y2="199.79" stroke="#000" stroke-width="1"/>
<text transform="translate(303.50,285.70) scale(0.425,0.5)" font-family="Liberation Sans" font-size="11.8" fill="#000" stroke="#000" stroke-width="0.6">10<tspan font-size="9.4" dy="-5.4" dx="0.3">0</tspan></text>
<text transform="translate(302.70,281.50) rotate(-90) scale(0.425,0.5)" font-family="Liberation Sans" font-size="11.8" fill="#000" stroke="#000" stroke-width="0.6">10<tspan font-size="9.4" dy="-5.4" dx="3.5">0</tspan></text>
<text transform="translate(322.78,285.70) scale(0.425,0.5)" font-family="Liberation Sans" font-size="11.8" fill="#000" stroke="#000" stroke-width="0.6">10<tspan font-size="9.4" dy="-5.4" dx="0.3">1</tspan></text>
<text transform="translate(302.70,262.10) rotate(-90) scale(0.425,0.5)" font-family="Liberation Sans" font-size="11.8" fill="#000" stroke="#000" stroke-width="0.6">10<tspan font-size="9.4" dy="-5.4" dx="3.5">1</tspan></text>
<text transform="translate(342.05,285.70) scale(0.425,0.5)" font-family="Liberation Sans" font-size="11.8" fill="#000" stroke="#000" stroke-width="0.6">10<tspan font-size="9.4" dy="-5.4" dx="0.3">2</tspan></text>
<text transform="translate(302.70,242.70) rotate(-90) scale(0.425,0.5)" font-family="Liberation Sans" font-size="11.8" fill="#000" stroke="#000" stroke-width="0.6">10<tspan font-size="9.4" dy="-5.4" dx="3.5">2</tspan></text>
<text transform="translate(361.32,285.70) scale(0.425,0.5)" font-family="Liberation Sans" font-size="11.8" fill="#000" stroke="#000" stroke-width="0.6">10<tspan font-size="9.4" dy="-5.4" dx="0.3">3</tspan></text>
<text transform="translate(302.70,223.30) rotate(-90) scale(0.425,0.5)" font-family="Liberation Sans" font-size="11.8" fill="#000" stroke="#000" stroke-width="0.6">10<tspan font-size="9.4" dy="-5.4" dx="3.5">3</tspan></text>
<text transform="translate(380.60,285.70) scale(0.425,0.5)" font-family="Liberation Sans" font-size="11.8" fill="#000" stroke="#000" stroke-width="0.6">10<tspan font-size="9.4" dy="-5.4" dx="0.3">4</tspan></text>
<text transform="translate(302.70,203.90) rotate(-90) scale(0.425,0.5)" font-family="Liberation Sans" font-size="11.8" fill="#000" stroke="#000" stroke-width="0.6">10<tspan font-size="9.4" dy="-5.4" dx="3.5">4</tspan></text>
<text x="349.3" y="195.0" font-family="Liberation Serif" font-weight="bold" stroke="#000" stroke-width="0.25" font-size="11.7" text-anchor="middle">(IFN-γ)</text>
<rect x="444.0" y="260.8" width="0.9" height="0.9" fill="#000"/>
<rect x="452.8" y="264.3" width="0.9" height="0.9" fill="#000"/>
<rect x="440.3" y="261.5" width="0.9" height="0.9" fill="#000"/>
<rect x="444.1" y="262.1" width="0.9" height="0.9" fill="#000"/>
<rect x="440.4" y="262.5" width="0.9" height="0.9" fill="#000"/>
<rect x="447.4" y="268.1" width="0.9" height="0.9" fill="#000"/>
<rect x="447.7" y="263.6" width="0.9" height="0.9" fill="#000"/>
<rect x="440.8" y="271.0" width="0.9" height="0.9" fill="#000"/>
<rect x="439.2" y="266.1" width="0.9" height="0.9" fill="#000"/>
<rect x="445.2" y="257.8" width="0.9" height="0.9" fill="#000"/>
<rect x="444.0" y="258.7" width="0.9" height="0.9" fill="#000"/>
<rect x="447.9" y="261.0" width="0.9" height="0.9" fill="#000"/>
<rect x="452.1" y="253.8" width="0.9" height="0.9" fill="#000"/>
<rect x="446.5" y="257.8" width="0.9" height="0.9" fill="#000"/>
<rect x="449.4" y="252.6" width="0.9" height="0.9" fill="#000"/>
<rect x="445.2" y="262.4" width="0.9" height="0.9" fill="#000"/>
<rect x="440.9" y="265.6" width="0.9" height="0.9" fill="#000"/>
<rect x="447.2" y="265.7" width="0.9" height="0.9" fill="#000"/>
<rect x="450.1" y="257.4" width="0.9" height="0.9" fill="#000"/>
<rect x="443.5" y="260.6" width="0.9" height="0.9" fill="#000"/>
<rect x="449.3" y="265.1" width="0.9" height="0.9" fill="#000"/>
<rect x="443.8" y="258.9" width="0.9" height="0.9" fill="#000"/>
<rect x="443.5" y="259.0" width="0.9" height="0.9" fill="#000"/>
<rect x="445.6" y="260.9" width="0.9" height="0.9" fill="#000"/>
<rect x="454.3" y="259.4" width="0.9" height="0.9" fill="#000"/>
<rect x="445.4" y="263.4" width="0.9" height="0.9" fill="#000"/>
<rect x="442.9" y="260.0" width="0.9" height="0.9" fill="#000"/>
<rect x="446.6" y="264.8" width="0.9" height="0.9" fill="#000"/>
<rect x="441.5" y="267.3" width="0.9" height="0.9" fill="#000"/>
<rect x="445.2" y="262.2" width="0.9" height="0.9" fill="#000"/>
<rect x="449.7" y="264.3" width="0.9" height="0.9" fill="#000"/>
<rect x="450.5" y="262.2" width="0.9" height="0.9" fill="#000"/>
<rect x="446.4" y="262.8" width="0.9" height="0.9" fill="#000"/>
<rect x="442.7" y="266.6" width="0.9" height="0.9" fill="#000"/>
<rect x="443.6" y="256.2" width="0.9" height="0.9" fill="#000"/>
<rect x="454.3" y="260.9" width="0.9" height="0.9" fill="#000"/>
<rect x="442.0" y="269.3" width="0.9" height="0.9" fill="#000"/>
<rect x="445.2" y="266.0" width="0.9" height="0.9" fill="#000"/>
<rect x="443.3" y="260.5" width="0.9" height="0.9" fill="#000"/>
<rect x="440.1" y="253.5" width="0.9" height="0.9" fill="#000"/>
<rect x="442.8" y="261.2" width="0.9" height="0.9" fill="#000"/>
<rect x="449.5" y="271.7" width="0.9" height="0.9" fill="#000"/>
<rect x="442.6" y="265.7" width="0.9" height="0.9" fill="#000"/>
<rect x="444.2" y="260.9" width="0.9" height="0.9" fill="#000"/>
<rect x="440.9" y="255.3" width="0.9" height="0.9" fill="#000"/>
<rect x="443.5" y="256.5" width="0.9" height="0.9" fill="#000"/>
<rect x="446.5" y="258.5" width="0.9" height="0.9" fill="#000"/>
<rect x="451.3" y="262.1" width="0.9" height="0.9" fill="#000"/>
<rect x="447.1" y="266.3" width="0.9" height="0.9" fill="#000"/>
<rect x="448.5" y="261.3" width="0.9" height="0.9" fill="#000"/>
<rect x="446.2" y="261.0" width="0.9" height="0.9" fill="#000"/>
<rect x="450.6" y="264.8" width="0.9" height="0.9" fill="#000"/>
<rect x="447.9" y="264.9" width="0.9" height="0.9" fill="#000"/>
<rect x="444.4" y="263.6" width="0.9" height="0.9" fill="#000"/>
<rect x="441.1" y="267.2" width="0.9" height="0.9" fill="#000"/>
<rect x="446.8" y="262.3" width="0.9" height="0.9" fill="#000"/>
<rect x="448.8" y="261.5" width="0.9" height="0.9" fill="#000"/>
<rect x="445.5" y="266.5" width="0.9" height="0.9" fill="#000"/>
<rect x="446.9" y="257.7" width="0.9" height="0.9" fill="#000"/>
<rect x="448.2" y="254.3" width="0.9" height="0.9" fill="#000"/>
<rect x="452.8" y="260.8" width="0.9" height="0.9" fill="#000"/>
<rect x="446.7" y="271.0" width="0.9" height="0.9" fill="#000"/>
<rect x="454.7" y="262.0" width="0.9" height="0.9" fill="#000"/>
<rect x="448.9" y="266.1" width="0.9" height="0.9" fill="#000"/>
<rect x="452.9" y="260.9" width="0.9" height="0.9" fill="#000"/>
<rect x="447.0" y="266.6" width="0.9" height="0.9" fill="#000"/>
<rect x="447.5" y="264.7" width="0.9" height="0.9" fill="#000"/>
<rect x="448.8" y="256.7" width="0.9" height="0.9" fill="#000"/>
<rect x="443.2" y="250.4" width="0.9" height="0.9" fill="#000"/>
<rect x="445.5" y="267.1" width="0.9" height="0.9" fill="#000"/>
<rect x="442.3" y="266.7" width="0.9" height="0.9" fill="#000"/>
<rect x="450.3" y="261.3" width="0.9" height="0.9" fill="#000"/>
<rect x="446.5" y="261.8" width="0.9" height="0.9" fill="#000"/>
<rect x="443.2" y="260.3" width="0.9" height="0.9" fill="#000"/>
<rect x="446.3" y="264.1" width="0.9" height="0.9" fill="#000"/>
<rect x="449.5" y="258.4" width="0.9" height="0.9" fill="#000"/>
<rect x="449.6" y="258.2" width="0.9" height="0.9" fill="#000"/>
<rect x="445.9" y="263.1" width="0.9" height="0.9" fill="#000"/>
<rect x="446.4" y="261.0" width="0.9" height="0.9" fill="#000"/>
<rect x="447.5" y="259.2" width="0.9" height="0.9" fill="#000"/>
<rect x="444.0" y="260.6" width="0.9" height="0.9" fill="#000"/>
<rect x="450.2" y="261.1" width="0.9" height="0.9" fill="#000"/>
<rect x="453.7" y="262.4" width="0.9" height="0.9" fill="#000"/>
<rect x="435.2" y="259.7" width="0.9" height="0.9" fill="#000"/>
<rect x="452.8" y="261.5" width="0.9" height="0.9" fill="#000"/>
<rect x="444.8" y="257.8" width="0.9" height="0.9" fill="#000"/>
<rect x="451.5" y="265.7" width="0.9" height="0.9" fill="#000"/>
<rect x="449.1" y="263.3" width="0.9" height="0.9" fill="#000"/>
<rect x="452.0" y="264.9" width="0.9" height="0.9" fill="#000"/>
<rect x="441.8" y="264.7" width="0.9" height="0.9" fill="#000"/>
<rect x="447.1" y="261.0" width="0.9" height="0.9" fill="#000"/>
<rect x="449.4" y="261.6" width="0.9" height="0.9" fill="#000"/>
<rect x="435.4" y="268.0" width="0.9" height="0.9" fill="#000"/>
<rect x="450.4" y="261.0" width="0.9" height="0.9" fill="#000"/>
<rect x="445.1" y="262.5" width="0.9" height="0.9" fill="#000"/>
<rect x="441.6" y="262.8" width="0.9" height="0.9" fill="#000"/>
<rect x="445.6" y="260.0" width="0.9" height="0.9" fill="#000"/>
<rect x="443.0" y="258.6" width="0.9" height="0.9" fill="#000"/>
<rect x="450.7" y="267.1" width="0.9" height="0.9" fill="#000"/>
<rect x="448.4" y="261.3" width="0.9" height="0.9" fill="#000"/>
<rect x="443.2" y="264.5" width="0.9" height="0.9" fill="#000"/>
<rect x="452.6" y="254.7" width="0.9" height="0.9" fill="#000"/>
<rect x="451.0" y="252.4" width="0.9" height="0.9" fill="#000"/>
<rect x="445.2" y="263.1" width="0.9" height="0.9" fill="#000"/>
<rect x="441.3" y="255.1" width="0.9" height="0.9" fill="#000"/>
<rect x="447.2" y="265.2" width="0.9" height="0.9" fill="#000"/>
<rect x="444.7" y="267.1" width="0.9" height="0.9" fill="#000"/>
<rect x="443.5" y="268.9" width="0.9" height="0.9" fill="#000"/>
<rect x="447.0" y="262.5" width="0.9" height="0.9" fill="#000"/>
<rect x="448.8" y="262.8" width="0.9" height="0.9" fill="#000"/>
<rect x="453.5" y="270.8" width="0.9" height="0.9" fill="#000"/>
<rect x="448.6" y="260.8" width="0.9" height="0.9" fill="#000"/>
<rect x="442.0" y="258.3" width="0.9" height="0.9" fill="#000"/>
<rect x="446.5" y="261.1" width="0.9" height="0.9" fill="#000"/>
<rect x="446.3" y="261.5" width="0.9" height="0.9" fill="#000"/>
<rect x="448.4" y="255.8" width="0.9" height="0.9" fill="#000"/>
<rect x="442.6" y="266.2" width="0.9" height="0.9" fill="#000"/>
<rect x="449.7" y="259.2" width="0.9" height="0.9" fill="#000"/>
<rect x="451.4" y="258.7" width="0.9" height="0.9" fill="#000"/>
<rect x="445.5" y="253.8" width="0.9" height="0.9" fill="#000"/>
<rect x="449.7" y="261.5" width="0.9" height="0.9" fill="#000"/>
<rect x="450.6" y="264.5" width="0.9" height="0.9" fill="#000"/>
<rect x="446.9" y="262.2" width="0.9" height="0.9" fill="#000"/>
<rect x="451.1" y="260.8" width="0.9" height="0.9" fill="#000"/>
<rect x="446.0" y="261.8" width="0.9" height="0.9" fill="#000"/>
<rect x="449.6" y="265.4" width="0.9" height="0.9" fill="#000"/>
<rect x="453.9" y="261.3" width="0.9" height="0.9" fill="#000"/>
<rect x="451.4" y="258.9" width="0.9" height="0.9" fill="#000"/>
<rect x="448.9" y="262.2" width="0.9" height="0.9" fill="#000"/>
<rect x="453.2" y="264.2" width="0.9" height="0.9" fill="#000"/>
<rect x="445.0" y="264.1" width="0.9" height="0.9" fill="#000"/>
<rect x="448.0" y="260.4" width="0.9" height="0.9" fill="#000"/>
<rect x="445.6" y="257.7" width="0.9" height="0.9" fill="#000"/>
<rect x="457.2" y="262.3" width="0.9" height="0.9" fill="#000"/>
<rect x="450.4" y="256.8" width="0.9" height="0.9" fill="#000"/>
<rect x="442.6" y="261.1" width="0.9" height="0.9" fill="#000"/>
<rect x="446.1" y="265.1" width="0.9" height="0.9" fill="#000"/>
<rect x="442.9" y="264.0" width="0.9" height="0.9" fill="#000"/>
<rect x="452.4" y="257.9" width="0.9" height="0.9" fill="#000"/>
<rect x="450.1" y="257.7" width="0.9" height="0.9" fill="#000"/>
<rect x="448.0" y="263.2" width="0.9" height="0.9" fill="#000"/>
<rect x="453.3" y="258.8" width="0.9" height="0.9" fill="#000"/>
<rect x="447.3" y="266.1" width="0.9" height="0.9" fill="#000"/>
<rect x="442.2" y="261.7" width="0.9" height="0.9" fill="#000"/>
<rect x="443.4" y="258.8" width="0.9" height="0.9" fill="#000"/>
<rect x="449.3" y="264.7" width="0.9" height="0.9" fill="#000"/>
<rect x="456.5" y="267.5" width="0.9" height="0.9" fill="#000"/>
<rect x="451.6" y="261.0" width="0.9" height="0.9" fill="#000"/>
<rect x="445.5" y="262.3" width="0.9" height="0.9" fill="#000"/>
<rect x="438.0" y="268.7" width="0.9" height="0.9" fill="#000"/>
<rect x="444.1" y="257.2" width="0.9" height="0.9" fill="#000"/>
<rect x="444.9" y="265.4" width="0.9" height="0.9" fill="#000"/>
<rect x="451.4" y="260.1" width="0.9" height="0.9" fill="#000"/>
<rect x="448.3" y="261.4" width="0.9" height="0.9" fill="#000"/>
<rect x="442.8" y="262.4" width="0.9" height="0.9" fill="#000"/>
<rect x="446.7" y="255.2" width="0.9" height="0.9" fill="#000"/>
<rect x="450.8" y="255.0" width="0.9" height="0.9" fill="#000"/>
<rect x="447.5" y="257.2" width="0.9" height="0.9" fill="#000"/>
<rect x="443.5" y="258.7" width="0.9" height="0.9" fill="#000"/>
<rect x="449.3" y="256.3" width="0.9" height="0.9" fill="#000"/>
<rect x="445.9" y="268.1" width="0.9" height="0.9" fill="#000"/>
<rect x="443.9" y="261.5" width="0.9" height="0.9" fill="#000"/>
<rect x="449.1" y="259.1" width="0.9" height="0.9" fill="#000"/>
<rect x="448.4" y="258.8" width="0.9" height="0.9" fill="#000"/>
<rect x="449.2" y="261.8" width="0.9" height="0.9" fill="#000"/>
<rect x="443.0" y="267.5" width="0.9" height="0.9" fill="#000"/>
<rect x="446.2" y="260.4" width="0.9" height="0.9" fill="#000"/>
<rect x="443.0" y="259.6" width="0.9" height="0.9" fill="#000"/>
<rect x="446.2" y="262.3" width="0.9" height="0.9" fill="#000"/>
<rect x="450.7" y="256.0" width="0.9" height="0.9" fill="#000"/>
<rect x="445.2" y="266.6" width="0.9" height="0.9" fill="#000"/>
<rect x="447.2" y="263.3" width="0.9" height="0.9" fill="#000"/>
<rect x="452.6" y="263.0" width="0.9" height="0.9" fill="#000"/>
<rect x="448.3" y="261.4" width="0.9" height="0.9" fill="#000"/>
<rect x="453.3" y="266.0" width="0.9" height="0.9" fill="#000"/>
<rect x="443.8" y="263.9" width="0.9" height="0.9" fill="#000"/>
<rect x="442.2" y="266.1" width="0.9" height="0.9" fill="#000"/>
<rect x="449.1" y="260.9" width="0.9" height="0.9" fill="#000"/>
<rect x="445.0" y="254.0" width="0.9" height="0.9" fill="#000"/>
<rect x="449.4" y="261.0" width="0.9" height="0.9" fill="#000"/>
<rect x="445.3" y="264.6" width="0.9" height="0.9" fill="#000"/>
<rect x="444.0" y="259.1" width="0.9" height="0.9" fill="#000"/>
<rect x="443.9" y="255.8" width="0.9" height="0.9" fill="#000"/>
<rect x="455.7" y="260.7" width="0.9" height="0.9" fill="#000"/>
<rect x="445.2" y="265.3" width="0.9" height="0.9" fill="#000"/>
<rect x="434.5" y="261.4" width="0.9" height="0.9" fill="#000"/>
<rect x="446.5" y="257.4" width="0.9" height="0.9" fill="#000"/>
<rect x="448.2" y="253.0" width="0.9" height="0.9" fill="#000"/>
<rect x="446.5" y="265.1" width="0.9" height="0.9" fill="#000"/>
<rect x="437.9" y="255.2" width="0.9" height="0.9" fill="#000"/>
<rect x="445.7" y="261.1" width="0.9" height="0.9" fill="#000"/>
<rect x="443.7" y="262.6" width="0.9" height="0.9" fill="#000"/>
<rect x="447.0" y="255.4" width="0.9" height="0.9" fill="#000"/>
<rect x="445.6" y="255.6" width="0.9" height="0.9" fill="#000"/>
<rect x="438.1" y="250.7" width="0.9" height="0.9" fill="#000"/>
<rect x="449.8" y="260.3" width="0.9" height="0.9" fill="#000"/>
<rect x="453.3" y="254.7" width="0.9" height="0.9" fill="#000"/>
<rect x="444.5" y="262.2" width="0.9" height="0.9" fill="#000"/>
<rect x="445.3" y="262.9" width="0.9" height="0.9" fill="#000"/>
<rect x="446.4" y="258.2" width="0.9" height="0.9" fill="#000"/>
<rect x="437.0" y="256.8" width="0.9" height="0.9" fill="#000"/>
<rect x="452.4" y="264.1" width="0.9" height="0.9" fill="#000"/>
<rect x="451.1" y="258.4" width="0.9" height="0.9" fill="#000"/>
<rect x="445.2" y="257.2" width="0.9" height="0.9" fill="#000"/>
<rect x="447.5" y="261.2" width="0.9" height="0.9" fill="#000"/>
<rect x="447.7" y="268.4" width="0.9" height="0.9" fill="#000"/>
<rect x="442.8" y="264.1" width="0.9" height="0.9" fill="#000"/>
<rect x="440.7" y="265.6" width="0.9" height="0.9" fill="#000"/>
<rect x="444.4" y="260.7" width="0.9" height="0.9" fill="#000"/>
<rect x="446.6" y="267.9" width="0.9" height="0.9" fill="#000"/>
<rect x="445.9" y="258.9" width="0.9" height="0.9" fill="#000"/>
<rect x="441.5" y="262.1" width="0.9" height="0.9" fill="#000"/>
<rect x="442.8" y="258.9" width="0.9" height="0.9" fill="#000"/>
<rect x="445.9" y="263.8" width="0.9" height="0.9" fill="#000"/>
<rect x="443.3" y="263.8" width="0.9" height="0.9" fill="#000"/>
<rect x="452.8" y="254.7" width="0.9" height="0.9" fill="#000"/>
<rect x="451.2" y="270.0" width="0.9" height="0.9" fill="#000"/>
<rect x="443.8" y="263.6" width="0.9" height="0.9" fill="#000"/>
<rect x="440.8" y="262.4" width="0.9" height="0.9" fill="#000"/>
<rect x="444.8" y="262.3" width="0.9" height="0.9" fill="#000"/>
<rect x="442.6" y="257.5" width="0.9" height="0.9" fill="#000"/>
<rect x="444.3" y="258.0" width="0.9" height="0.9" fill="#000"/>
<rect x="443.7" y="260.1" width="0.9" height="0.9" fill="#000"/>
<rect x="441.8" y="260.3" width="0.9" height="0.9" fill="#000"/>
<rect x="447.8" y="251.2" width="0.9" height="0.9" fill="#000"/>
<rect x="446.7" y="257.8" width="0.9" height="0.9" fill="#000"/>
<rect x="441.7" y="255.2" width="0.9" height="0.9" fill="#000"/>
<rect x="442.7" y="257.7" width="0.9" height="0.9" fill="#000"/>
<rect x="447.2" y="255.5" width="0.9" height="0.9" fill="#000"/>
<rect x="449.8" y="257.4" width="0.9" height="0.9" fill="#000"/>
<rect x="448.5" y="265.4" width="0.9" height="0.9" fill="#000"/>
<rect x="441.3" y="265.4" width="0.9" height="0.9" fill="#000"/>
<rect x="454.3" y="259.1" width="0.9" height="0.9" fill="#000"/>
<rect x="448.3" y="260.5" width="0.9" height="0.9" fill="#000"/>
<rect x="446.4" y="260.3" width="0.9" height="0.9" fill="#000"/>
<rect x="444.3" y="264.3" width="0.9" height="0.9" fill="#000"/>
<rect x="449.6" y="261.3" width="0.9" height="0.9" fill="#000"/>
<rect x="452.1" y="265.9" width="0.9" height="0.9" fill="#000"/>
<rect x="449.0" y="258.3" width="0.9" height="0.9" fill="#000"/>
<rect x="453.6" y="266.9" width="0.9" height="0.9" fill="#000"/>
<rect x="438.2" y="256.7" width="0.9" height="0.9" fill="#000"/>
<rect x="444.6" y="265.4" width="0.9" height="0.9" fill="#000"/>
<rect x="451.2" y="260.2" width="0.9" height="0.9" fill="#000"/>
<rect x="447.4" y="264.4" width="0.9" height="0.9" fill="#000"/>
<rect x="441.6" y="264.0" width="0.9" height="0.9" fill="#000"/>
<rect x="445.3" y="262.3" width="0.9" height="0.9" fill="#000"/>
<rect x="446.3" y="256.5" width="0.9" height="0.9" fill="#000"/>
<rect x="442.7" y="261.7" width="0.9" height="0.9" fill="#000"/>
<rect x="447.0" y="260.4" width="0.9" height="0.9" fill="#000"/>
<rect x="450.5" y="260.0" width="0.9" height="0.9" fill="#000"/>
<rect x="441.9" y="260.0" width="0.9" height="0.9" fill="#000"/>
<rect x="445.8" y="260.9" width="0.9" height="0.9" fill="#000"/>
<rect x="450.9" y="263.6" width="0.9" height="0.9" fill="#000"/>
<rect x="450.5" y="264.1" width="0.9" height="0.9" fill="#000"/>
<rect x="445.9" y="265.9" width="0.9" height="0.9" fill="#000"/>
<rect x="445.5" y="262.6" width="0.9" height="0.9" fill="#000"/>
<rect x="442.7" y="261.9" width="0.9" height="0.9" fill="#000"/>
<rect x="445.3" y="263.1" width="0.9" height="0.9" fill="#000"/>
<rect x="453.4" y="271.5" width="0.9" height="0.9" fill="#000"/>
<rect x="450.4" y="261.4" width="0.9" height="0.9" fill="#000"/>
<rect x="449.7" y="262.5" width="0.9" height="0.9" fill="#000"/>
<rect x="444.2" y="261.3" width="0.9" height="0.9" fill="#000"/>
<rect x="445.6" y="259.0" width="0.9" height="0.9" fill="#000"/>
<rect x="451.8" y="259.3" width="0.9" height="0.9" fill="#000"/>
<rect x="444.6" y="264.5" width="0.9" height="0.9" fill="#000"/>
<rect x="443.9" y="256.7" width="0.9" height="0.9" fill="#000"/>
<rect x="443.3" y="263.6" width="0.9" height="0.9" fill="#000"/>
<rect x="448.0" y="262.8" width="0.9" height="0.9" fill="#000"/>
<rect x="444.8" y="257.7" width="0.9" height="0.9" fill="#000"/>
<rect x="450.0" y="255.5" width="0.9" height="0.9" fill="#000"/>
<rect x="445.7" y="256.0" width="0.9" height="0.9" fill="#000"/>
<rect x="445.0" y="260.9" width="0.9" height="0.9" fill="#000"/>
<rect x="451.2" y="249.5" width="0.9" height="0.9" fill="#000"/>
<rect x="451.8" y="257.9" width="0.9" height="0.9" fill="#000"/>
<rect x="447.7" y="265.0" width="0.9" height="0.9" fill="#000"/>
<rect x="443.7" y="261.2" width="0.9" height="0.9" fill="#000"/>
<rect x="448.5" y="261.1" width="0.9" height="0.9" fill="#000"/>
<rect x="443.8" y="262.4" width="0.9" height="0.9" fill="#000"/>
<rect x="447.0" y="255.3" width="0.9" height="0.9" fill="#000"/>
<rect x="451.8" y="262.6" width="0.9" height="0.9" fill="#000"/>
<rect x="437.4" y="258.1" width="0.9" height="0.9" fill="#000"/>
<rect x="453.2" y="268.3" width="0.9" height="0.9" fill="#000"/>
<rect x="447.7" y="254.6" width="0.9" height="0.9" fill="#000"/>
<rect x="445.7" y="266.1" width="0.9" height="0.9" fill="#000"/>
<rect x="448.1" y="260.3" width="0.9" height="0.9" fill="#000"/>
<rect x="443.8" y="265.1" width="0.9" height="0.9" fill="#000"/>
<rect x="445.8" y="263.0" width="0.9" height="0.9" fill="#000"/>
<rect x="448.5" y="268.6" width="0.9" height="0.9" fill="#000"/>
<rect x="447.4" y="262.8" width="0.9" height="0.9" fill="#000"/>
<rect x="439.9" y="266.3" width="0.9" height="0.9" fill="#000"/>
<rect x="450.0" y="261.6" width="0.9" height="0.9" fill="#000"/>
<rect x="438.0" y="259.3" width="0.9" height="0.9" fill="#000"/>
<rect x="446.9" y="270.5" width="0.9" height="0.9" fill="#000"/>
<rect x="448.9" y="265.0" width="0.9" height="0.9" fill="#000"/>
<rect x="449.8" y="267.3" width="0.9" height="0.9" fill="#000"/>
<rect x="442.3" y="258.1" width="0.9" height="0.9" fill="#000"/>
<rect x="442.2" y="260.5" width="0.9" height="0.9" fill="#000"/>
<rect x="445.3" y="262.1" width="0.9" height="0.9" fill="#000"/>
<rect x="442.7" y="262.0" width="0.9" height="0.9" fill="#000"/>
<rect x="443.4" y="270.5" width="0.9" height="0.9" fill="#000"/>
<rect x="444.6" y="272.4" width="0.9" height="0.9" fill="#000"/>
<rect x="452.8" y="256.6" width="0.9" height="0.9" fill="#000"/>
<rect x="450.3" y="264.2" width="0.9" height="0.9" fill="#000"/>
<rect x="440.8" y="264.2" width="0.9" height="0.9" fill="#000"/>
<rect x="446.3" y="263.1" width="0.9" height="0.9" fill="#000"/>
<rect x="443.4" y="261.4" width="0.9" height="0.9" fill="#000"/>
<rect x="448.2" y="260.9" width="0.9" height="0.9" fill="#000"/>
<rect x="444.3" y="261.0" width="0.9" height="0.9" fill="#000"/>
<rect x="442.9" y="263.1" width="0.9" height="0.9" fill="#000"/>
<rect x="436.9" y="268.0" width="0.9" height="0.9" fill="#000"/>
<rect x="446.8" y="263.6" width="0.9" height="0.9" fill="#000"/>
<rect x="449.9" y="256.4" width="0.9" height="0.9" fill="#000"/>
<rect x="455.3" y="256.9" width="0.9" height="0.9" fill="#000"/>
<rect x="448.4" y="263.0" width="0.9" height="0.9" fill="#000"/>
<rect x="451.6" y="261.6" width="0.9" height="0.9" fill="#000"/>
<rect x="441.2" y="263.0" width="0.9" height="0.9" fill="#000"/>
<rect x="437.2" y="260.7" width="0.9" height="0.9" fill="#000"/>
<rect x="444.8" y="268.2" width="0.9" height="0.9" fill="#000"/>
<rect x="445.5" y="259.7" width="0.9" height="0.9" fill="#000"/>
<rect x="443.7" y="258.0" width="0.9" height="0.9" fill="#000"/>
<rect x="444.5" y="264.1" width="0.9" height="0.9" fill="#000"/>
<rect x="441.5" y="260.7" width="0.9" height="0.9" fill="#000"/>
<rect x="441.0" y="260.8" width="0.9" height="0.9" fill="#000"/>
<rect x="447.2" y="256.3" width="0.9" height="0.9" fill="#000"/>
<rect x="444.4" y="262.0" width="0.9" height="0.9" fill="#000"/>
<rect x="449.5" y="265.5" width="0.9" height="0.9" fill="#000"/>
<rect x="446.1" y="257.3" width="0.9" height="0.9" fill="#000"/>
<rect x="440.3" y="264.8" width="0.9" height="0.9" fill="#000"/>
<rect x="451.8" y="263.0" width="0.9" height="0.9" fill="#000"/>
<rect x="452.5" y="259.6" width="0.9" height="0.9" fill="#000"/>
<rect x="445.0" y="268.1" width="0.9" height="0.9" fill="#000"/>
<rect x="442.7" y="264.0" width="0.9" height="0.9" fill="#000"/>
<rect x="448.0" y="262.1" width="0.9" height="0.9" fill="#000"/>
<rect x="453.1" y="257.8" width="0.9" height="0.9" fill="#000"/>
<rect x="444.9" y="252.7" width="0.9" height="0.9" fill="#000"/>
<rect x="442.5" y="259.3" width="0.9" height="0.9" fill="#000"/>
<rect x="445.0" y="260.6" width="0.9" height="0.9" fill="#000"/>
<rect x="447.6" y="258.7" width="0.9" height="0.9" fill="#000"/>
<rect x="438.9" y="262.1" width="0.9" height="0.9" fill="#000"/>
<rect x="448.1" y="256.6" width="0.9" height="0.9" fill="#000"/>
<rect x="443.5" y="268.9" width="0.9" height="0.9" fill="#000"/>
<rect x="450.4" y="266.1" width="0.9" height="0.9" fill="#000"/>
<rect x="449.1" y="262.1" width="0.9" height="0.9" fill="#000"/>
<rect x="444.5" y="263.9" width="0.9" height="0.9" fill="#000"/>
<rect x="445.7" y="259.6" width="0.9" height="0.9" fill="#000"/>
<rect x="446.5" y="261.2" width="0.9" height="0.9" fill="#000"/>
<rect x="449.9" y="257.4" width="0.9" height="0.9" fill="#000"/>
<rect x="456.0" y="257.2" width="0.9" height="0.9" fill="#000"/>
<rect x="444.9" y="265.5" width="0.9" height="0.9" fill="#000"/>
<rect x="443.3" y="259.5" width="0.9" height="0.9" fill="#000"/>
<rect x="446.6" y="249.0" width="0.9" height="0.9" fill="#000"/>
<rect x="444.6" y="257.4" width="0.9" height="0.9" fill="#000"/>
<rect x="445.6" y="263.6" width="0.9" height="0.9" fill="#000"/>
<rect x="448.9" y="267.8" width="0.9" height="0.9" fill="#000"/>
<rect x="452.0" y="265.9" width="0.9" height="0.9" fill="#000"/>
<rect x="446.4" y="265.9" width="0.9" height="0.9" fill="#000"/>
<rect x="442.7" y="261.1" width="0.9" height="0.9" fill="#000"/>
<rect x="452.0" y="264.9" width="0.9" height="0.9" fill="#000"/>
<rect x="441.2" y="259.0" width="0.9" height="0.9" fill="#000"/>
<rect x="450.0" y="264.1" width="0.9" height="0.9" fill="#000"/>
<rect x="450.6" y="254.0" width="0.9" height="0.9" fill="#000"/>
<rect x="441.7" y="260.5" width="0.9" height="0.9" fill="#000"/>
<rect x="442.8" y="261.4" width="0.9" height="0.9" fill="#000"/>
<rect x="446.6" y="263.0" width="0.9" height="0.9" fill="#000"/>
<rect x="446.1" y="263.9" width="0.9" height="0.9" fill="#000"/>
<rect x="449.5" y="262.2" width="0.9" height="0.9" fill="#000"/>
<rect x="441.9" y="267.0" width="0.9" height="0.9" fill="#000"/>
<rect x="447.4" y="263.4" width="0.9" height="0.9" fill="#000"/>
<rect x="447.2" y="254.8" width="0.9" height="0.9" fill="#000"/>
<rect x="448.8" y="258.8" width="0.9" height="0.9" fill="#000"/>
<rect x="441.9" y="267.0" width="0.9" height="0.9" fill="#000"/>
<rect x="445.4" y="262.8" width="0.9" height="0.9" fill="#000"/>
<rect x="450.0" y="268.4" width="0.9" height="0.9" fill="#000"/>
<rect x="439.6" y="258.4" width="0.9" height="0.9" fill="#000"/>
<rect x="449.2" y="258.7" width="0.9" height="0.9" fill="#000"/>
<rect x="434.1" y="262.2" width="0.9" height="0.9" fill="#000"/>
<rect x="447.4" y="264.9" width="0.9" height="0.9" fill="#000"/>
<rect x="447.4" y="259.7" width="0.9" height="0.9" fill="#000"/>
<rect x="447.4" y="261.4" width="0.9" height="0.9" fill="#000"/>
<rect x="444.6" y="262.7" width="0.9" height="0.9" fill="#000"/>
<rect x="447.9" y="257.3" width="0.9" height="0.9" fill="#000"/>
<rect x="450.5" y="265.1" width="0.9" height="0.9" fill="#000"/>
<rect x="449.6" y="250.0" width="0.9" height="0.9" fill="#000"/>
<rect x="447.0" y="261.0" width="0.9" height="0.9" fill="#000"/>
<rect x="442.7" y="264.0" width="0.9" height="0.9" fill="#000"/>
<rect x="440.8" y="266.8" width="0.9" height="0.9" fill="#000"/>
<rect x="448.0" y="259.4" width="0.9" height="0.9" fill="#000"/>
<rect x="452.0" y="263.5" width="0.9" height="0.9" fill="#000"/>
<rect x="447.8" y="256.1" width="0.9" height="0.9" fill="#000"/>
<rect x="448.6" y="267.5" width="0.9" height="0.9" fill="#000"/>
<rect x="450.8" y="256.1" width="0.9" height="0.9" fill="#000"/>
<rect x="451.9" y="268.3" width="0.9" height="0.9" fill="#000"/>
<rect x="449.8" y="259.9" width="0.9" height="0.9" fill="#000"/>
<rect x="440.8" y="257.7" width="0.9" height="0.9" fill="#000"/>
<rect x="444.3" y="262.7" width="0.9" height="0.9" fill="#000"/>
<rect x="448.6" y="258.3" width="0.9" height="0.9" fill="#000"/>
<rect x="440.2" y="259.7" width="0.9" height="0.9" fill="#000"/>
<rect x="441.4" y="267.1" width="0.9" height="0.9" fill="#000"/>
<rect x="441.7" y="263.4" width="0.9" height="0.9" fill="#000"/>
<rect x="449.6" y="257.2" width="0.9" height="0.9" fill="#000"/>
<rect x="450.2" y="260.8" width="0.9" height="0.9" fill="#000"/>
<rect x="443.3" y="257.3" width="0.9" height="0.9" fill="#000"/>
<rect x="446.8" y="265.9" width="0.9" height="0.9" fill="#000"/>
<rect x="439.1" y="263.9" width="0.9" height="0.9" fill="#000"/>
<rect x="445.7" y="258.1" width="0.9" height="0.9" fill="#000"/>
<rect x="445.9" y="261.2" width="0.9" height="0.9" fill="#000"/>
<rect x="446.1" y="264.7" width="0.9" height="0.9" fill="#000"/>
<rect x="442.9" y="269.7" width="0.9" height="0.9" fill="#000"/>
<rect x="449.8" y="258.8" width="0.9" height="0.9" fill="#000"/>
<rect x="438.9" y="261.2" width="0.9" height="0.9" fill="#000"/>
<rect x="444.8" y="264.5" width="0.9" height="0.9" fill="#000"/>
<rect x="449.1" y="269.5" width="0.9" height="0.9" fill="#000"/>
<rect x="445.9" y="264.7" width="0.9" height="0.9" fill="#000"/>
<rect x="444.8" y="259.8" width="0.9" height="0.9" fill="#000"/>
<rect x="452.3" y="260.8" width="0.9" height="0.9" fill="#000"/>
<rect x="446.0" y="259.9" width="0.9" height="0.9" fill="#000"/>
<rect x="447.7" y="264.0" width="0.9" height="0.9" fill="#000"/>
<rect x="446.0" y="256.6" width="0.9" height="0.9" fill="#000"/>
<rect x="447.8" y="258.0" width="0.9" height="0.9" fill="#000"/>
<rect x="445.1" y="262.4" width="0.9" height="0.9" fill="#000"/>
<rect x="447.5" y="251.7" width="0.9" height="0.9" fill="#000"/>
<rect x="453.0" y="264.9" width="0.9" height="0.9" fill="#000"/>
<rect x="453.9" y="272.2" width="0.9" height="0.9" fill="#000"/>
<rect x="442.9" y="259.1" width="0.9" height="0.9" fill="#000"/>
<rect x="447.4" y="265.4" width="0.9" height="0.9" fill="#000"/>
<rect x="444.5" y="260.1" width="0.9" height="0.9" fill="#000"/>
<rect x="450.6" y="257.7" width="0.9" height="0.9" fill="#000"/>
<rect x="447.2" y="266.0" width="0.9" height="0.9" fill="#000"/>
<rect x="445.4" y="264.7" width="0.9" height="0.9" fill="#000"/>
<rect x="445.9" y="254.6" width="0.9" height="0.9" fill="#000"/>
<rect x="444.3" y="260.5" width="0.9" height="0.9" fill="#000"/>
<rect x="445.0" y="261.4" width="0.9" height="0.9" fill="#000"/>
<rect x="447.8" y="262.5" width="0.9" height="0.9" fill="#000"/>
<rect x="446.9" y="259.4" width="0.9" height="0.9" fill="#000"/>
<rect x="445.4" y="259.6" width="0.9" height="0.9" fill="#000"/>
<rect x="443.9" y="266.9" width="0.9" height="0.9" fill="#000"/>
<rect x="438.9" y="262.1" width="0.9" height="0.9" fill="#000"/>
<rect x="439.8" y="258.5" width="0.9" height="0.9" fill="#000"/>
<rect x="449.1" y="259.8" width="0.9" height="0.9" fill="#000"/>
<rect x="451.4" y="256.9" width="0.9" height="0.9" fill="#000"/>
<rect x="444.8" y="258.2" width="0.9" height="0.9" fill="#000"/>
<rect x="446.0" y="259.5" width="0.9" height="0.9" fill="#000"/>
<rect x="444.4" y="261.2" width="0.9" height="0.9" fill="#000"/>
<rect x="450.1" y="261.4" width="0.9" height="0.9" fill="#000"/>
<rect x="446.0" y="259.5" width="0.9" height="0.9" fill="#000"/>
<rect x="443.0" y="254.5" width="0.9" height="0.9" fill="#000"/>
<rect x="441.7" y="260.7" width="0.9" height="0.9" fill="#000"/>
<rect x="438.4" y="263.3" width="0.9" height="0.9" fill="#000"/>
<rect x="444.0" y="256.6" width="0.9" height="0.9" fill="#000"/>
<rect x="443.5" y="263.3" width="0.9" height="0.9" fill="#000"/>
<rect x="447.0" y="261.6" width="0.9" height="0.9" fill="#000"/>
<rect x="452.4" y="270.5" width="0.9" height="0.9" fill="#000"/>
<rect x="440.8" y="264.4" width="0.9" height="0.9" fill="#000"/>
<rect x="442.9" y="255.0" width="0.9" height="0.9" fill="#000"/>
<rect x="443.9" y="265.2" width="0.9" height="0.9" fill="#000"/>
<rect x="444.8" y="259.0" width="0.9" height="0.9" fill="#000"/>
<rect x="451.5" y="263.3" width="0.9" height="0.9" fill="#000"/>
<rect x="445.9" y="268.9" width="0.9" height="0.9" fill="#000"/>
<rect x="448.2" y="258.3" width="0.9" height="0.9" fill="#000"/>
<rect x="442.2" y="259.6" width="0.9" height="0.9" fill="#000"/>
<rect x="447.1" y="265.5" width="0.9" height="0.9" fill="#000"/>
<rect x="449.7" y="262.0" width="0.9" height="0.9" fill="#000"/>
<rect x="442.0" y="265.5" width="0.9" height="0.9" fill="#000"/>
<rect x="446.9" y="256.9" width="0.9" height="0.9" fill="#000"/>
<rect x="441.8" y="262.4" width="0.9" height="0.9" fill="#000"/>
<rect x="447.8" y="264.9" width="0.9" height="0.9" fill="#000"/>
<rect x="441.8" y="269.5" width="0.9" height="0.9" fill="#000"/>
<rect x="439.5" y="261.3" width="0.9" height="0.9" fill="#000"/>
<rect x="451.6" y="265.8" width="0.9" height="0.9" fill="#000"/>
<rect x="442.7" y="264.0" width="0.9" height="0.9" fill="#000"/>
<rect x="451.1" y="264.5" width="0.9" height="0.9" fill="#000"/>
<rect x="442.6" y="268.4" width="0.9" height="0.9" fill="#000"/>
<rect x="440.1" y="261.5" width="0.9" height="0.9" fill="#000"/>
<rect x="442.2" y="259.5" width="0.9" height="0.9" fill="#000"/>
<rect x="445.0" y="263.4" width="0.9" height="0.9" fill="#000"/>
<rect x="441.4" y="262.2" width="0.9" height="0.9" fill="#000"/>
<rect x="451.2" y="261.6" width="0.9" height="0.9" fill="#000"/>
<rect x="448.3" y="263.1" width="0.9" height="0.9" fill="#000"/>
<rect x="443.4" y="259.7" width="0.9" height="0.9" fill="#000"/>
<rect x="446.4" y="263.2" width="0.9" height="0.9" fill="#000"/>
<rect x="454.0" y="268.1" width="0.9" height="0.9" fill="#000"/>
<rect x="444.5" y="259.4" width="0.9" height="0.9" fill="#000"/>
<rect x="442.3" y="251.4" width="0.9" height="0.9" fill="#000"/>
<rect x="451.3" y="263.5" width="0.9" height="0.9" fill="#000"/>
<rect x="438.8" y="261.3" width="0.9" height="0.9" fill="#000"/>
<rect x="455.3" y="263.3" width="0.9" height="0.9" fill="#000"/>
<rect x="448.2" y="262.1" width="0.9" height="0.9" fill="#000"/>
<rect x="443.3" y="256.3" width="0.9" height="0.9" fill="#000"/>
<rect x="443.1" y="261.9" width="0.9" height="0.9" fill="#000"/>
<rect x="445.4" y="264.2" width="0.9" height="0.9" fill="#000"/>
<rect x="453.1" y="263.8" width="0.9" height="0.9" fill="#000"/>
<rect x="449.5" y="259.8" width="0.9" height="0.9" fill="#000"/>
<rect x="441.4" y="270.5" width="0.9" height="0.9" fill="#000"/>
<rect x="449.1" y="266.4" width="0.9" height="0.9" fill="#000"/>
<rect x="444.9" y="254.1" width="0.9" height="0.9" fill="#000"/>
<rect x="451.4" y="252.2" width="0.9" height="0.9" fill="#000"/>
<rect x="445.7" y="259.1" width="0.9" height="0.9" fill="#000"/>
<rect x="447.2" y="264.8" width="0.9" height="0.9" fill="#000"/>
<rect x="449.5" y="252.4" width="0.9" height="0.9" fill="#000"/>
<rect x="450.2" y="253.2" width="0.9" height="0.9" fill="#000"/>
<rect x="449.0" y="259.5" width="0.9" height="0.9" fill="#000"/>
<rect x="442.0" y="259.1" width="0.9" height="0.9" fill="#000"/>
<rect x="441.3" y="261.3" width="0.9" height="0.9" fill="#000"/>
<rect x="450.0" y="264.8" width="0.9" height="0.9" fill="#000"/>
<rect x="446.5" y="266.0" width="0.9" height="0.9" fill="#000"/>
<rect x="448.3" y="270.6" width="0.9" height="0.9" fill="#000"/>
<rect x="448.4" y="258.8" width="0.9" height="0.9" fill="#000"/>
<rect x="445.3" y="258.1" width="0.9" height="0.9" fill="#000"/>
<rect x="445.3" y="260.7" width="0.9" height="0.9" fill="#000"/>
<rect x="449.0" y="264.7" width="0.9" height="0.9" fill="#000"/>
<rect x="446.6" y="263.2" width="0.9" height="0.9" fill="#000"/>
<rect x="443.5" y="259.0" width="0.9" height="0.9" fill="#000"/>
<rect x="436.9" y="258.0" width="0.9" height="0.9" fill="#000"/>
<rect x="444.4" y="272.3" width="0.9" height="0.9" fill="#000"/>
<rect x="441.1" y="261.6" width="0.9" height="0.9" fill="#000"/>
<rect x="445.1" y="254.6" width="0.9" height="0.9" fill="#000"/>
<rect x="447.4" y="261.4" width="0.9" height="0.9" fill="#000"/>
<rect x="440.7" y="251.4" width="0.9" height="0.9" fill="#000"/>
<rect x="446.1" y="255.2" width="0.9" height="0.9" fill="#000"/>
<rect x="449.0" y="260.2" width="0.9" height="0.9" fill="#000"/>
<rect x="448.3" y="245.8" width="0.9" height="0.9" fill="#000"/>
<rect x="452.9" y="252.4" width="0.9" height="0.9" fill="#000"/>
<rect x="452.9" y="248.7" width="0.9" height="0.9" fill="#000"/>
<rect x="441.2" y="238.5" width="0.9" height="0.9" fill="#000"/>
<rect x="443.6" y="249.9" width="0.9" height="0.9" fill="#000"/>
<rect x="443.1" y="264.2" width="0.9" height="0.9" fill="#000"/>
<rect x="445.7" y="251.0" width="0.9" height="0.9" fill="#000"/>
<rect x="446.4" y="239.7" width="0.9" height="0.9" fill="#000"/>
<rect x="450.9" y="252.4" width="0.9" height="0.9" fill="#000"/>
<rect x="450.0" y="241.9" width="0.9" height="0.9" fill="#000"/>
<rect x="446.2" y="247.9" width="0.9" height="0.9" fill="#000"/>
<rect x="451.5" y="239.0" width="0.9" height="0.9" fill="#000"/>
<rect x="449.2" y="256.6" width="0.9" height="0.9" fill="#000"/>
<rect x="444.2" y="242.8" width="0.9" height="0.9" fill="#000"/>
<rect x="452.2" y="249.9" width="0.9" height="0.9" fill="#000"/>
<rect x="451.4" y="253.3" width="0.9" height="0.9" fill="#000"/>
<rect x="451.1" y="247.1" width="0.9" height="0.9" fill="#000"/>
<rect x="436.5" y="252.3" width="0.9" height="0.9" fill="#000"/>
<rect x="443.1" y="252.4" width="0.9" height="0.9" fill="#000"/>
<rect x="443.8" y="259.2" width="0.9" height="0.9" fill="#000"/>
<rect x="445.1" y="253.9" width="0.9" height="0.9" fill="#000"/>
<rect x="451.4" y="247.8" width="0.9" height="0.9" fill="#000"/>
<rect x="447.7" y="248.2" width="0.9" height="0.9" fill="#000"/>
<rect x="442.0" y="258.2" width="0.9" height="0.9" fill="#000"/>
<rect x="442.0" y="237.9" width="0.9" height="0.9" fill="#000"/>
<rect x="443.9" y="249.2" width="0.9" height="0.9" fill="#000"/>
<rect x="446.5" y="246.0" width="0.9" height="0.9" fill="#000"/>
<rect x="444.1" y="234.0" width="0.9" height="0.9" fill="#000"/>
<rect x="449.1" y="259.8" width="0.9" height="0.9" fill="#000"/>
<rect x="442.8" y="236.2" width="0.9" height="0.9" fill="#000"/>
<rect x="449.6" y="247.1" width="0.9" height="0.9" fill="#000"/>
<rect x="427.7" y="243.2" width="0.9" height="0.9" fill="#000"/>
<rect x="439.4" y="240.4" width="0.9" height="0.9" fill="#000"/>
<rect x="455.4" y="254.8" width="0.9" height="0.9" fill="#000"/>
<rect x="445.4" y="248.4" width="0.9" height="0.9" fill="#000"/>
<rect x="453.5" y="241.0" width="0.9" height="0.9" fill="#000"/>
<rect x="449.7" y="244.1" width="0.9" height="0.9" fill="#000"/>
<rect x="450.1" y="249.8" width="0.9" height="0.9" fill="#000"/>
<rect x="442.8" y="255.5" width="0.9" height="0.9" fill="#000"/>
<rect x="448.8" y="260.7" width="0.9" height="0.9" fill="#000"/>
<rect x="444.4" y="249.3" width="0.9" height="0.9" fill="#000"/>
<rect x="443.1" y="256.6" width="0.9" height="0.9" fill="#000"/>
<rect x="442.7" y="248.3" width="0.9" height="0.9" fill="#000"/>
<rect x="452.3" y="251.9" width="0.9" height="0.9" fill="#000"/>
<rect x="447.6" y="250.1" width="0.9" height="0.9" fill="#000"/>
<rect x="447.8" y="252.7" width="0.9" height="0.9" fill="#000"/>
<rect x="444.8" y="235.0" width="0.9" height="0.9" fill="#000"/>
<rect x="452.4" y="241.2" width="0.9" height="0.9" fill="#000"/>
<rect x="454.8" y="250.2" width="0.9" height="0.9" fill="#000"/>
<rect x="461.0" y="256.2" width="0.9" height="0.9" fill="#000"/>
<rect x="448.2" y="254.5" width="0.9" height="0.9" fill="#000"/>
<rect x="439.7" y="249.5" width="0.9" height="0.9" fill="#000"/>
<rect x="444.5" y="248.4" width="0.9" height="0.9" fill="#000"/>
<rect x="436.6" y="233.4" width="0.9" height="0.9" fill="#000"/>
<rect x="449.5" y="248.5" width="0.9" height="0.9" fill="#000"/>
<rect x="444.0" y="247.5" width="0.9" height="0.9" fill="#000"/>
<rect x="443.0" y="244.9" width="0.9" height="0.9" fill="#000"/>
<rect x="449.3" y="246.5" width="0.9" height="0.9" fill="#000"/>
<rect x="449.3" y="243.3" width="0.9" height="0.9" fill="#000"/>
<rect x="437.6" y="243.6" width="0.9" height="0.9" fill="#000"/>
<rect x="445.3" y="240.4" width="0.9" height="0.9" fill="#000"/>
<rect x="444.2" y="244.6" width="0.9" height="0.9" fill="#000"/>
<rect x="450.3" y="253.6" width="0.9" height="0.9" fill="#000"/>
<rect x="451.1" y="242.8" width="0.9" height="0.9" fill="#000"/>
<rect x="447.5" y="256.6" width="0.9" height="0.9" fill="#000"/>
<rect x="446.8" y="247.4" width="0.9" height="0.9" fill="#000"/>
<rect x="442.4" y="253.5" width="0.9" height="0.9" fill="#000"/>
<rect x="446.8" y="254.7" width="0.9" height="0.9" fill="#000"/>
<rect x="445.2" y="261.8" width="0.9" height="0.9" fill="#000"/>
<rect x="445.8" y="239.6" width="0.9" height="0.9" fill="#000"/>
<rect x="446.9" y="251.2" width="0.9" height="0.9" fill="#000"/>
<rect x="451.9" y="244.7" width="0.9" height="0.9" fill="#000"/>
<rect x="443.4" y="246.1" width="0.9" height="0.9" fill="#000"/>
<rect x="444.1" y="233.6" width="0.9" height="0.9" fill="#000"/>
<rect x="449.3" y="256.3" width="0.9" height="0.9" fill="#000"/>
<rect x="442.4" y="241.3" width="0.9" height="0.9" fill="#000"/>
<rect x="445.3" y="242.4" width="0.9" height="0.9" fill="#000"/>
<rect x="449.6" y="243.7" width="0.9" height="0.9" fill="#000"/>
<rect x="448.8" y="239.6" width="0.9" height="0.9" fill="#000"/>
<rect x="439.4" y="237.5" width="0.9" height="0.9" fill="#000"/>
<rect x="436.7" y="265.1" width="0.9" height="0.9" fill="#000"/>
<rect x="457.8" y="263.0" width="0.9" height="0.9" fill="#000"/>
<rect x="452.0" y="246.0" width="0.9" height="0.9" fill="#000"/>
<rect x="460.3" y="253.0" width="0.9" height="0.9" fill="#000"/>
<rect x="450.6" y="266.5" width="0.9" height="0.9" fill="#000"/>
<rect x="455.8" y="252.5" width="0.9" height="0.9" fill="#000"/>
<rect x="439.5" y="257.0" width="0.9" height="0.9" fill="#000"/>
<rect x="451.4" y="268.1" width="0.9" height="0.9" fill="#000"/>
<rect x="451.1" y="270.0" width="0.9" height="0.9" fill="#000"/>
<rect x="445.3" y="251.8" width="0.9" height="0.9" fill="#000"/>
<rect x="450.3" y="261.6" width="0.9" height="0.9" fill="#000"/>
<rect x="436.8" y="269.4" width="0.9" height="0.9" fill="#000"/>
<rect x="441.1" y="256.8" width="0.9" height="0.9" fill="#000"/>
<rect x="452.1" y="254.3" width="0.9" height="0.9" fill="#000"/>
<rect x="455.8" y="264.8" width="0.9" height="0.9" fill="#000"/>
<rect x="454.3" y="262.0" width="0.9" height="0.9" fill="#000"/>
<rect x="445.6" y="256.6" width="0.9" height="0.9" fill="#000"/>
<rect x="452.9" y="271.9" width="0.9" height="0.9" fill="#000"/>
<rect x="457.4" y="264.8" width="0.9" height="0.9" fill="#000"/>
<rect x="459.4" y="271.7" width="0.9" height="0.9" fill="#000"/>
<rect x="438.6" y="261.9" width="0.9" height="0.9" fill="#000"/>
<rect x="461.6" y="257.5" width="0.9" height="0.9" fill="#000"/>
<rect x="446.0" y="266.7" width="0.9" height="0.9" fill="#000"/>
<rect x="448.3" y="271.0" width="0.9" height="0.9" fill="#000"/>
<rect x="447.5" y="266.6" width="0.9" height="0.9" fill="#000"/>
<rect x="473.6" y="270.6" width="0.9" height="0.9" fill="#000"/>
<rect x="437.8" y="254.8" width="0.9" height="0.9" fill="#000"/>
<rect x="441.1" y="261.9" width="0.9" height="0.9" fill="#000"/>
<rect x="437.4" y="266.3" width="0.9" height="0.9" fill="#000"/>
<rect x="466.3" y="273.5" width="0.9" height="0.9" fill="#000"/>
<rect x="443.3" y="260.2" width="0.9" height="0.9" fill="#000"/>
<rect x="447.5" y="256.3" width="0.9" height="0.9" fill="#000"/>
<rect x="466.0" y="257.3" width="0.9" height="0.9" fill="#000"/>
<rect x="440.0" y="264.8" width="0.9" height="0.9" fill="#000"/>
<rect x="453.3" y="273.1" width="0.9" height="0.9" fill="#000"/>
<rect x="464.4" y="260.8" width="0.9" height="0.9" fill="#000"/>
<rect x="430.8" y="267.0" width="0.9" height="0.9" fill="#000"/>
<rect x="435.6" y="253.7" width="0.9" height="0.9" fill="#000"/>
<rect x="464.4" y="273.7" width="0.9" height="0.9" fill="#000"/>
<rect x="462.0" y="261.9" width="0.9" height="0.9" fill="#000"/>
<rect x="461.9" y="258.0" width="0.9" height="0.9" fill="#000"/>
<rect x="438.5" y="261.5" width="0.9" height="0.9" fill="#000"/>
<rect x="450.9" y="267.7" width="0.9" height="0.9" fill="#000"/>
<rect x="460.0" y="249.3" width="0.9" height="0.9" fill="#000"/>
<rect x="452.5" y="265.4" width="0.9" height="0.9" fill="#000"/>
<rect x="438.2" y="259.9" width="0.9" height="0.9" fill="#000"/>
<rect x="450.3" y="265.0" width="0.9" height="0.9" fill="#000"/>
<rect x="441.8" y="257.5" width="0.9" height="0.9" fill="#000"/>
<rect x="439.6" y="264.2" width="0.9" height="0.9" fill="#000"/>
<rect x="446.6" y="257.5" width="0.9" height="0.9" fill="#000"/>
<rect x="455.6" y="260.5" width="0.9" height="0.9" fill="#000"/>
<rect x="438.6" y="269.9" width="0.9" height="0.9" fill="#000"/>
<rect x="458.6" y="265.0" width="0.9" height="0.9" fill="#000"/>
<rect x="440.1" y="269.7" width="0.9" height="0.9" fill="#000"/>
<rect x="444.2" y="248.4" width="0.9" height="0.9" fill="#000"/>
<rect x="448.5" y="274.6" width="0.9" height="0.9" fill="#000"/>
<rect x="445.5" y="265.9" width="0.9" height="0.9" fill="#000"/>
<rect x="462.2" y="263.0" width="0.9" height="0.9" fill="#000"/>
<rect x="426.0" y="199.0" width="75.30" height="77.00" fill="none" stroke="#222" stroke-width="1"/>
<line x1="438.3" y1="199.0" x2="438.3" y2="276.0" stroke="#222" stroke-width="1"/>
<line x1="426.0" y1="257.5" x2="501.3" y2="257.5" stroke="#222" stroke-width="1"/>
<line x1="426.00" y1="276.0" x2="426.00" y2="278.2" stroke="#000" stroke-width="1"/>
<line x1="423.8" y1="276.00" x2="426.0" y2="276.00" stroke="#000" stroke-width="1"/>
<line x1="431.67" y1="276.0" x2="431.67" y2="277.4" stroke="#000" stroke-width="1"/>
<line x1="424.6" y1="270.21" x2="426.0" y2="270.21" stroke="#000" stroke-width="1"/>
<line x1="434.98" y1="276.0" x2="434.98" y2="277.4" stroke="#000" stroke-width="1"/>
<line x1="424.6" y1="266.82" x2="426.0" y2="266.82" stroke="#000" stroke-width="1"/>
<line x1="437.33" y1="276.0" x2="437.33" y2="277.4" stroke="#000" stroke-width="1"/>
<line x1="424.6" y1="264.41" x2="426.0" y2="264.41" stroke="#000" stroke-width="1"/>
<line x1="439.16" y1="276.0" x2="439.16" y2="277.4" stroke="#000" stroke-width="1"/>
<line x1="424.6" y1="262.54" x2="426.0" y2="262.54" stroke="#000" stroke-width="1"/>
<line x1="440.65" y1="276.0" x2="440.65" y2="277.4" stroke="#000" stroke-width="1"/>
<line x1="424.6" y1="261.02" x2="426.0" y2="261.02" stroke="#000" stroke-width="1"/>
<line x1="441.91" y1="276.0" x2="441.91" y2="277.4" stroke="#000" stroke-width="1"/>
<line x1="424.6" y1="259.73" x2="426.0" y2="259.73" stroke="#000" stroke-width="1"/>
<line x1="443.00" y1="276.0" x2="443.00" y2="277.4" stroke="#000" stroke-width="1"/>
<line x1="424.6" y1="258.62" x2="426.0" y2="258.62" stroke="#000" stroke-width="1"/>
<line x1="443.96" y1="276.0" x2="443.96" y2="277.4" stroke="#000" stroke-width="1"/>
<line x1="424.6" y1="257.63" x2="426.0" y2="257.63" stroke="#000" stroke-width="1"/>
<line x1="444.82" y1="276.0" x2="444.82" y2="278.2" stroke="#000" stroke-width="1"/>
<line x1="423.8" y1="256.75" x2="426.0" y2="256.75" stroke="#000" stroke-width="1"/>
<line x1="450.49" y1="276.0" x2="450.49" y2="277.4" stroke="#000" stroke-width="1"/>
<line x1="424.6" y1="250.96" x2="426.0" y2="250.96" stroke="#000" stroke-width="1"/>
<line x1="453.81" y1="276.0" x2="453.81" y2="277.4" stroke="#000" stroke-width="1"/>
<line x1="424.6" y1="247.57" x2="426.0" y2="247.57" stroke="#000" stroke-width="1"/>
<line x1="456.16" y1="276.0" x2="456.16" y2="277.4" stroke="#000" stroke-width="1"/>
<line x1="424.6" y1="245.16" x2="426.0" y2="245.16" stroke="#000" stroke-width="1"/>
<line x1="457.98" y1="276.0" x2="457.98" y2="277.4" stroke="#000" stroke-width="1"/>
<line x1="424.6" y1="243.29" x2="426.0" y2="243.29" stroke="#000" stroke-width="1"/>
<line x1="459.47" y1="276.0" x2="459.47" y2="277.4" stroke="#000" stroke-width="1"/>
<line x1="424.6" y1="241.77" x2="426.0" y2="241.77" stroke="#000" stroke-width="1"/>
<line x1="460.73" y1="276.0" x2="460.73" y2="277.4" stroke="#000" stroke-width="1"/>
<line x1="424.6" y1="240.48" x2="426.0" y2="240.48" stroke="#000" stroke-width="1"/>
<line x1="461.83" y1="276.0" x2="461.83" y2="277.4" stroke="#000" stroke-width="1"/>
<line x1="424.6" y1="239.37" x2="426.0" y2="239.37" stroke="#000" stroke-width="1"/>
<line x1="462.79" y1="276.0" x2="462.79" y2="277.4" stroke="#000" stroke-width="1"/>
<line x1="424.6" y1="238.38" x2="426.0" y2="238.38" stroke="#000" stroke-width="1"/>
<line x1="463.65" y1="276.0" x2="463.65" y2="278.2" stroke="#000" stroke-width="1"/>
<line x1="423.8" y1="237.50" x2="426.0" y2="237.50" stroke="#000" stroke-width="1"/>
<line x1="469.32" y1="276.0" x2="469.32" y2="277.4" stroke="#000" stroke-width="1"/>
<line x1="424.6" y1="231.71" x2="426.0" y2="231.71" stroke="#000" stroke-width="1"/>
<line x1="472.63" y1="276.0" x2="472.63" y2="277.4" stroke="#000" stroke-width="1"/>
<line x1="424.6" y1="228.32" x2="426.0" y2="228.32" stroke="#000" stroke-width="1"/>
<line x1="474.98" y1="276.0" x2="474.98" y2="277.4" stroke="#000" stroke-width="1"/>
<line x1="424.6" y1="225.91" x2="426.0" y2="225.91" stroke="#000" stroke-width="1"/>
<line x1="476.81" y1="276.0" x2="476.81" y2="277.4" stroke="#000" stroke-width="1"/>
<line x1="424.6" y1="224.04" x2="426.0" y2="224.04" stroke="#000" stroke-width="1"/>
<line x1="478.30" y1="276.0" x2="478.30" y2="277.4" stroke="#000" stroke-width="1"/>
<line x1="424.6" y1="222.52" x2="426.0" y2="222.52" stroke="#000" stroke-width="1"/>
<line x1="479.56" y1="276.0" x2="479.56" y2="277.4" stroke="#000" stroke-width="1"/>
<line x1="424.6" y1="221.23" x2="426.0" y2="221.23" stroke="#000" stroke-width="1"/>
<line x1="480.65" y1="276.0" x2="480.65" y2="277.4" stroke="#000" stroke-width="1"/>
<line x1="424.6" y1="220.12" x2="426.0" y2="220.12" stroke="#000" stroke-width="1"/>
<line x1="481.61" y1="276.0" x2="481.61" y2="277.4" stroke="#000" stroke-width="1"/>
<line x1="424.6" y1="219.13" x2="426.0" y2="219.13" stroke="#000" stroke-width="1"/>
<line x1="482.48" y1="276.0" x2="482.48" y2="278.2" stroke="#000" stroke-width="1"/>
<line x1="423.8" y1="218.25" x2="426.0" y2="218.25" stroke="#000" stroke-width="1"/>
<line x1="488.14" y1="276.0" x2="488.14" y2="277.4" stroke="#000" stroke-width="1"/>
<line x1="424.6" y1="212.46" x2="426.0" y2="212.46" stroke="#000" stroke-width="1"/>
<line x1="491.46" y1="276.0" x2="491.46" y2="277.4" stroke="#000" stroke-width="1"/>
<line x1="424.6" y1="209.07" x2="426.0" y2="209.07" stroke="#000" stroke-width="1"/>
<line x1="493.81" y1="276.0" x2="493.81" y2="277.4" stroke="#000" stroke-width="1"/>
<line x1="424.6" y1="206.66" x2="426.0" y2="206.66" stroke="#000" stroke-width="1"/>
<line x1="495.63" y1="276.0" x2="495.63" y2="277.4" stroke="#000" stroke-width="1"/>
<line x1="424.6" y1="204.79" x2="426.0" y2="204.79" stroke="#000" stroke-width="1"/>
<line x1="497.12" y1="276.0" x2="497.12" y2="277.4" stroke="#000" stroke-width="1"/>
<line x1="424.6" y1="203.27" x2="426.0" y2="203.27" stroke="#000" stroke-width="1"/>
<line x1="498.38" y1="276.0" x2="498.38" y2="277.4" stroke="#000" stroke-width="1"/>
<line x1="424.6" y1="201.98" x2="426.0" y2="201.98" stroke="#000" stroke-width="1"/>
<line x1="499.48" y1="276.0" x2="499.48" y2="277.4" stroke="#000" stroke-width="1"/>
<line x1="424.6" y1="200.87" x2="426.0" y2="200.87" stroke="#000" stroke-width="1"/>
<line x1="500.44" y1="276.0" x2="500.44" y2="277.4" stroke="#000" stroke-width="1"/>
<line x1="424.6" y1="199.88" x2="426.0" y2="199.88" stroke="#000" stroke-width="1"/>
<text transform="translate(421.80,285.20) scale(0.425,0.5)" font-family="Liberation Sans" font-size="11.8" fill="#000" stroke="#000" stroke-width="0.6">10<tspan font-size="9.4" dy="-5.4" dx="0.3">0</tspan></text>
<text transform="translate(421.00,281.00) rotate(-90) scale(0.425,0.5)" font-family="Liberation Sans" font-size="11.8" fill="#000" stroke="#000" stroke-width="0.6">10<tspan font-size="9.4" dy="-5.4" dx="3.5">0</tspan></text>
<text transform="translate(440.62,285.20) scale(0.425,0.5)" font-family="Liberation Sans" font-size="11.8" fill="#000" stroke="#000" stroke-width="0.6">10<tspan font-size="9.4" dy="-5.4" dx="0.3">1</tspan></text>
<text transform="translate(421.00,261.75) rotate(-90) scale(0.425,0.5)" font-family="Liberation Sans" font-size="11.8" fill="#000" stroke="#000" stroke-width="0.6">10<tspan font-size="9.4" dy="-5.4" dx="3.5">1</tspan></text>
<text transform="translate(459.45,285.20) scale(0.425,0.5)" font-family="Liberation Sans" font-size="11.8" fill="#000" stroke="#000" stroke-width="0.6">10<tspan font-size="9.4" dy="-5.4" dx="0.3">2</tspan></text>
<text transform="translate(421.00,242.50) rotate(-90) scale(0.425,0.5)" font-family="Liberation Sans" font-size="11.8" fill="#000" stroke="#000" stroke-width="0.6">10<tspan font-size="9.4" dy="-5.4" dx="3.5">2</tspan></text>
<text transform="translate(478.28,285.20) scale(0.425,0.5)" font-family="Liberation Sans" font-size="11.8" fill="#000" stroke="#000" stroke-width="0.6">10<tspan font-size="9.4" dy="-5.4" dx="0.3">3</tspan></text>
<text transform="translate(421.00,223.25) rotate(-90) scale(0.425,0.5)" font-family="Liberation Sans" font-size="11.8" fill="#000" stroke="#000" stroke-width="0.6">10<tspan font-size="9.4" dy="-5.4" dx="3.5">3</tspan></text>
<text transform="translate(497.10,285.20) scale(0.425,0.5)" font-family="Liberation Sans" font-size="11.8" fill="#000" stroke="#000" stroke-width="0.6">10<tspan font-size="9.4" dy="-5.4" dx="0.3">4</tspan></text>
<text transform="translate(421.00,204.00) rotate(-90) scale(0.425,0.5)" font-family="Liberation Sans" font-size="11.8" fill="#000" stroke="#000" stroke-width="0.6">10<tspan font-size="9.4" dy="-5.4" dx="3.5">4</tspan></text>
<text x="461.6" y="195.4" font-family="Liberation Serif" font-weight="bold" stroke="#000" stroke-width="0.25" font-size="11.7" text-anchor="middle">(IFN-γ+LPS)</text>
</svg>
</body></html>
